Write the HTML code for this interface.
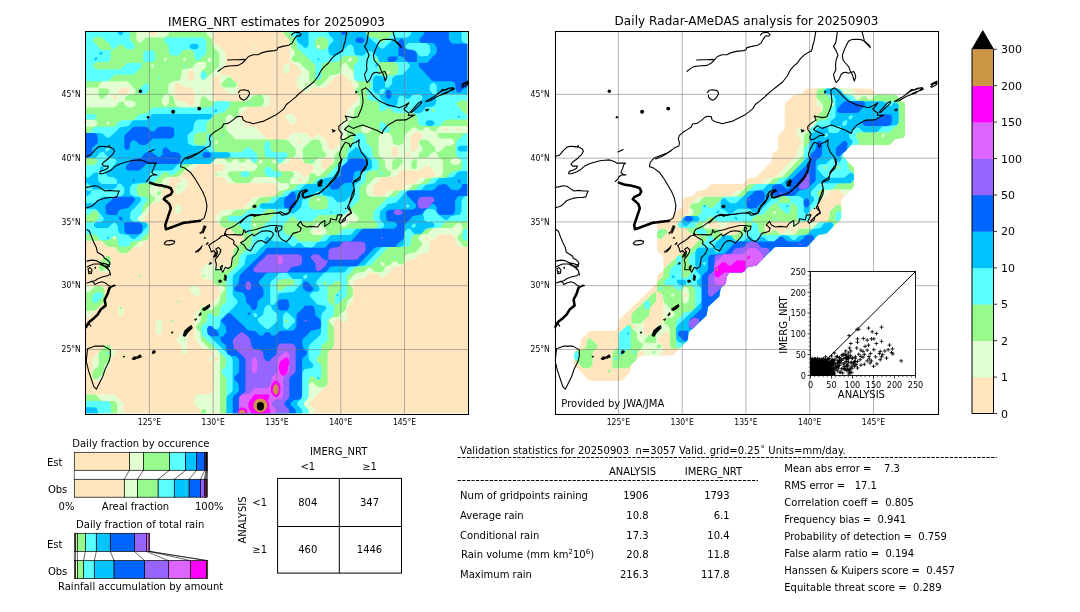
<!DOCTYPE html><html><head><meta charset="utf-8"><style>html,body{margin:0;padding:0;background:#fff;overflow:hidden;width:1080px;height:612px}svg{display:block}text{font-family:"DejaVu Sans","Liberation Sans",sans-serif;fill:#000}.c{font-family:"DejaVu Sans Condensed","DejaVu Sans",sans-serif}</style></head><body>
<svg width="1080" height="612" viewBox="0 0 1080 612">
<defs><clipPath id="cl0"><rect x="-0.15000000000000568" y="0.8999999999999986" width="383.0" height="383.0"/></clipPath></defs>
<rect x="85.5" y="31.5" width="383.0" height="381.8" fill="#ffe6be"/>
<clipPath id="clipL"><rect x="85.5" y="31.5" width="381.8" height="381.8"/></clipPath>
<g clip-path="url(#clipL)">
<path d="M66.9,394.5L66.9,432.0L123.5,432.0L123.5,404.9L122.7,402.5L120.3,400.9L115.5,395.3L113.2,394.5ZM152.2,351.5L151.4,353.1L153.0,353.9L153.8,352.3ZM109.2,345.1L106.8,345.1L93.2,357.8L92.4,360.2L92.4,377.0L94.0,380.2L100.4,381.0L103.6,379.4L105.2,370.6L110.0,366.6L111.6,357.8L115.5,353.9L115.5,351.5ZM183.3,332.3L176.9,338.7L176.9,341.1L181.7,346.7L181.7,351.5L183.3,353.9L185.7,353.9L187.3,351.5L187.3,334.7L185.7,332.3ZM171.3,319.6L170.6,321.2L172.1,322.0L172.9,320.4ZM157.8,319.6L156.2,322.0L156.2,332.3L157.8,334.7L160.2,334.7L161.8,332.3L161.8,322.0L160.2,319.6ZM119.5,306.8L117.9,309.2L117.9,313.2L119.5,315.6L121.9,315.6L123.5,313.2L123.5,309.2L121.9,306.8ZM362.7,300.4L361.9,302.0L363.5,302.8L364.3,301.2ZM177.7,300.4L176.9,302.0L178.5,302.8L179.3,301.2ZM189.7,287.7L189.7,290.1L196.1,296.5L198.5,296.5L200.0,294.1L200.0,290.1L199.2,288.5L196.1,286.1L192.1,286.1ZM66.9,286.1L66.9,317.2L87.6,317.2L90.0,316.4L91.6,314.0L103.6,302.8L104.4,300.4L104.4,290.1L102.8,286.9L100.4,286.1ZM139.5,274.9L138.7,276.5L140.3,277.3L141.1,275.7ZM109.2,255.8L106.8,255.8L99.6,262.2L98.8,268.6L100.4,271.7L106.8,272.5L110.0,271.0L110.8,268.6L110.8,258.2ZM176.9,204.8L175.3,207.2L175.3,211.2L176.9,213.6L179.3,213.6L180.9,211.2L180.9,207.2L179.3,204.8ZM273.4,128.3L272.6,129.8L274.2,130.6L275.0,129.1ZM305.3,121.9L304.5,123.5L306.1,124.3L306.9,122.7ZM285.3,115.5L285.3,117.9L291.7,124.3L294.1,124.3L295.7,121.9L295.7,117.9L294.9,116.3L291.7,113.9L287.7,113.9ZM254.3,45.3L253.5,46.9L255.1,47.7L255.8,46.1ZM66.9,11.9L66.9,240.7L100.4,240.7L102.8,241.5L106.8,246.2L115.5,247.8L119.5,252.6L121.9,253.4L128.3,252.6L132.3,247.8L141.1,246.2L142.6,243.8L148.2,239.1L149.0,236.7L149.0,226.3L148.2,223.9L144.2,219.9L144.2,217.5L148.2,213.6L149.8,204.8L151.4,203.2L157.8,202.4L161.0,200.8L161.8,198.4L161.8,190.4L164.2,188.8L165.8,188.8L167.4,187.2L169.0,180.1L172.9,176.9L180.1,176.9L181.7,178.5L180.1,182.5L177.7,184.1L175.3,187.2L175.3,192.0L176.9,194.4L179.3,194.4L186.5,188.0L187.3,185.7L187.3,181.7L184.9,178.5L180.9,176.9L181.7,173.7L185.7,170.5L190.5,170.5L192.1,169.7L196.1,164.9L198.5,164.1L221.6,164.1L224.8,166.5L224.8,168.9L221.6,171.3L217.6,171.3L215.2,172.9L215.2,175.3L217.6,176.9L222.4,176.9L224.0,177.7L227.9,182.5L230.3,183.3L272.6,183.3L275.0,184.1L277.4,188.0L277.4,192.0L275.0,196.0L272.6,196.8L255.8,196.8L253.5,197.6L243.1,208.8L240.7,209.6L224.0,209.6L221.6,210.4L215.2,217.5L215.2,219.9L221.6,227.1L230.3,228.7L234.3,233.5L242.3,235.1L243.9,236.7L243.9,239.1L239.1,244.6L233.5,249.4L232.7,251.8L232.7,262.2L230.3,266.2L227.9,267.0L217.6,267.0L215.2,266.2L211.2,262.2L208.8,262.2L201.6,268.6L200.8,271.0L201.6,277.3L204.8,278.9L211.2,279.7L213.6,282.9L219.2,287.7L220.0,294.1L219.2,296.5L216.0,298.9L211.2,304.4L202.4,306.0L200.8,308.4L195.3,313.2L194.5,315.6L194.5,339.5L202.4,348.3L210.4,349.9L212.8,352.3L213.6,354.7L212.8,356.3L208.8,357.8L208.8,360.2L213.6,361.8L213.6,389.7L212.8,392.1L208.8,394.5L198.5,394.5L196.1,395.3L194.5,398.5L194.5,402.5L195.3,404.9L200.0,408.9L200.8,411.3L200.8,432.0L314.8,432.0L314.8,411.3L314.0,408.9L310.1,404.9L310.1,402.5L314.8,396.9L326.8,385.7L327.6,383.4L327.6,353.9L328.4,351.5L333.2,347.5L334.0,345.1L334.0,322.0L336.4,318.8L338.8,318.8L342.7,322.0L345.1,322.0L346.7,319.6L346.7,309.2L347.5,306.8L350.7,304.4L353.1,301.2L353.1,283.7L353.9,281.3L357.9,278.9L364.3,278.1L368.3,273.3L370.6,272.5L377.0,273.3L381.0,277.3L383.4,277.3L389.0,272.5L393.8,267.0L402.5,265.4L406.5,260.6L415.3,259.0L419.3,254.2L428.0,252.6L429.6,249.4L429.6,241.5L435.2,239.1L438.4,235.1L440.8,234.3L451.2,234.3L453.6,235.1L455.9,239.1L456.7,245.4L459.9,247.0L487.0,247.0L487.0,11.9L283.8,11.9L283.8,32.6L284.5,35.0L289.3,39.0L290.1,41.4L290.1,62.1L287.7,63.7L286.1,63.7L283.8,66.9L283.8,70.9L285.3,73.2L287.7,73.2L289.3,70.9L289.3,62.9L290.1,62.1L294.9,63.7L301.3,70.9L301.3,73.2L297.3,77.2L296.5,83.6L297.3,86.0L304.5,92.4L306.9,92.4L310.9,88.4L313.2,87.6L323.6,87.6L326.0,86.8L336.4,75.6L342.7,74.8L345.1,75.6L347.5,78.8L353.1,83.6L354.7,92.4L358.7,96.4L358.7,98.8L353.9,104.3L348.3,109.1L346.7,117.9L341.9,121.9L341.1,124.3L341.1,141.0L340.4,143.4L332.4,150.6L330.0,150.6L328.4,149.0L326.8,141.0L319.6,134.6L316.4,134.6L314.0,137.8L310.9,137.8L305.3,133.0L293.3,133.0L291.7,133.8L287.7,138.6L285.3,139.4L268.6,139.4L266.2,138.6L255.8,127.5L247.1,125.9L239.9,117.9L239.9,115.5L247.1,107.5L249.5,106.7L266.2,106.7L268.6,105.9L270.2,102.7L270.2,98.8L268.6,95.6L266.2,94.8L249.5,94.8L247.1,95.6L243.1,100.4L240.7,101.2L217.6,101.2L213.6,98.8L212.8,96.4L212.8,79.6L216.0,75.6L219.2,75.6L220.0,76.4L220.0,84.4L220.8,86.0L229.5,94.0L235.1,94.0L236.7,93.2L238.3,90.0L238.3,86.0L237.5,83.6L235.1,82.0L230.3,76.4L228.7,75.6L220.8,75.6L220.0,74.8L220.8,70.1L224.8,66.9L225.6,64.5L225.6,54.1L224.8,51.7L213.6,41.4L212.8,39.0L212.8,11.9L156.2,11.9L156.2,32.6L153.8,35.8L151.4,35.8L149.0,32.6L149.0,11.9ZM212.8,357.0L213.6,356.3L217.6,357.0L218.4,357.8L218.4,360.2L216.0,361.8L213.6,361.8L212.8,361.0ZM426.4,235.9L429.6,238.3L428.8,240.7L427.2,240.7L424.9,238.3ZM318.0,229.5L320.4,231.1L318.8,233.5L316.4,231.9ZM158.6,184.9L161.8,187.2L161.0,189.6L159.4,189.6L157.0,187.2ZM301.3,177.7L302.1,180.1L298.9,182.5L297.3,180.1L299.7,177.7ZM435.2,172.9L435.2,175.3L432.0,177.7L420.9,177.7L419.3,178.5L415.3,183.3L406.5,184.9L402.5,189.6L400.1,190.4L389.8,190.4L387.4,191.2L383.4,196.0L381.0,196.8L374.6,196.0L372.2,192.0L373.0,185.7L376.2,183.3L381.0,177.7L383.4,176.9L393.8,176.9L396.2,176.1L400.1,171.3L402.5,170.5L420.1,170.5L425.7,165.7L428.0,165.7ZM241.5,165.7L243.9,167.3L242.3,169.7L239.9,168.1ZM333.2,160.1L333.2,162.5L326.0,169.7L323.6,169.7L321.2,166.5L321.2,162.5L322.0,160.9L326.0,157.8L330.0,157.8ZM278.2,166.5L281.4,164.1L286.1,164.1L287.7,163.3L291.7,158.5L298.1,157.8L300.5,158.5L304.5,163.3L312.4,164.9L314.0,166.5L314.0,168.9L307.7,176.1L303.7,177.7L301.3,173.7L298.1,171.3L281.4,171.3L278.2,168.9ZM409.7,152.2L410.5,154.6L407.3,157.0L405.7,154.6L408.1,152.2ZM393.8,146.6L396.2,146.6L398.5,149.8L398.5,153.8L396.2,157.0L393.8,157.0L391.4,153.8L391.4,149.8ZM298.9,140.2L301.3,141.8L299.7,144.2L297.3,142.6ZM419.3,132.2L422.5,134.6L422.5,137.0L417.7,142.6L417.7,147.4L414.5,151.4L411.3,151.4L410.5,150.6L410.5,137.0L413.7,133.0L415.3,132.2ZM458.3,127.5L460.7,129.1L459.1,131.4L456.7,129.8ZM445.6,127.5L448.0,129.1L446.4,131.4L444.0,129.8ZM116.3,94.8L117.1,97.2L114.0,99.6L112.4,97.2L114.7,94.8ZM203.2,89.2L205.6,90.8L204.0,93.2L201.6,91.6ZM117.9,94.0L117.9,90.8L121.9,87.6L125.9,87.6L129.1,90.0L129.1,92.4L125.9,94.8L118.7,94.8ZM176.9,82.8L179.3,82.8L183.3,86.8L190.5,87.6L193.7,90.0L194.5,91.6L194.5,102.7L192.1,105.9L189.7,105.9L185.7,101.9L179.3,101.2L175.3,98.8L174.5,96.4L174.5,86.0ZM189.7,70.1L192.1,70.1L194.5,73.2L194.5,77.2L192.1,80.4L189.7,80.4L187.3,77.2L187.3,73.2Z" fill="#e1ffd2" fill-rule="evenodd"/>
<path d="M202.4,408.9L200.8,411.3L200.8,432.0L206.4,432.0L206.4,411.3L204.8,408.9ZM66.9,394.5L66.9,432.0L117.1,432.0L117.1,404.9L115.5,401.7L113.2,400.9L102.8,400.9L100.4,400.1L96.4,395.3L94.0,394.5ZM152.2,351.5L151.4,353.1L153.0,353.9L153.8,352.3ZM109.2,345.1L106.8,345.1L99.6,351.5L98.8,353.9L98.8,365.0L98.0,366.6L93.2,370.6L92.4,373.0L92.4,377.0L94.0,379.4L96.4,379.4L103.6,373.0L104.4,365.8L105.2,364.2L110.0,360.2L110.8,357.8L110.8,347.5ZM184.1,338.7L183.3,340.3L184.9,341.1L185.7,339.5ZM171.3,319.6L170.6,321.2L172.1,322.0L172.9,320.4ZM120.3,306.8L119.5,308.4L121.1,309.2L121.9,307.6ZM177.7,300.4L176.9,302.0L178.5,302.8L179.3,301.2ZM103.6,287.7L100.4,286.1L96.4,286.1L94.0,286.9L90.0,291.7L87.6,292.5L66.9,292.5L66.9,310.8L94.0,310.8L96.4,310.0L98.0,307.6L103.6,302.8L104.4,300.4L104.4,290.1ZM203.2,274.9L202.4,276.5L204.0,277.3L204.8,275.7ZM139.5,274.9L138.7,276.5L140.3,277.3L141.1,275.7ZM109.2,255.8L106.8,255.8L99.6,262.2L98.8,268.6L100.4,271.0L102.8,271.0L110.0,264.6L110.8,258.2ZM161.0,191.2L158.6,191.2L157.0,192.8L157.0,195.2L160.2,194.4ZM177.7,185.7L176.9,187.2L178.5,188.0L179.3,186.5ZM162.6,184.9L162.6,188.0L163.4,188.8L166.6,188.0L166.6,185.7L165.8,184.9ZM216.0,172.9L215.2,174.5L216.8,175.3L217.6,173.7ZM416.9,159.3L413.7,159.3L411.3,162.5L411.3,166.5L412.9,168.9L415.3,168.9L416.9,166.5ZM402.5,160.1L400.1,158.5L393.8,159.3L392.2,161.7L392.2,169.7L397.0,168.9L402.5,162.5ZM319.6,140.2L317.2,139.4L310.9,140.2L309.3,142.6L303.7,147.4L302.9,149.0L302.9,160.1L304.5,163.3L311.7,164.1L313.2,163.3L317.2,158.5L318.8,157.8L323.6,157.8L326.0,156.2L326.0,153.8L322.0,149.8L321.2,143.4ZM307.7,82.8L306.1,82.8L304.5,85.2L306.1,86.0L307.7,84.4ZM221.6,83.6L221.6,86.0L224.0,87.6L234.3,87.6L236.7,86.0L236.7,83.6L230.3,77.2L227.9,77.2ZM66.9,11.9L66.9,87.6L98.0,87.6L98.8,88.4L98.8,96.4L100.4,98.8L102.8,98.8L109.2,92.4L109.2,90.0L106.8,88.4L99.6,88.4L98.8,87.6L98.8,84.4L102.8,81.2L125.9,81.2L128.3,82.0L135.5,90.0L135.5,92.4L132.3,94.8L128.3,94.8L125.1,97.2L125.1,100.4L132.3,100.4L135.5,102.7L135.5,105.1L132.3,107.5L128.3,107.5L124.3,104.3L123.5,101.2L118.7,102.7L115.5,106.7L113.2,107.5L66.9,107.5L66.9,119.5L94.0,119.5L97.2,121.9L97.2,124.3L94.0,126.7L66.9,126.7L66.9,240.7L100.4,240.7L102.8,241.5L105.2,244.6L108.4,247.0L114.0,247.0L115.5,247.8L119.5,252.6L121.9,253.4L128.3,252.6L138.7,241.5L147.4,239.9L149.0,236.7L149.0,226.3L148.2,223.9L145.0,222.3L141.1,222.3L137.9,219.9L137.9,217.5L154.6,200.0L155.4,197.6L152.2,196.0L149.0,192.0L149.0,188.0L149.8,186.5L153.8,183.3L161.8,183.3L162.6,180.1L166.6,176.9L177.7,176.9L179.3,176.1L189.7,164.9L192.1,164.1L208.8,164.1L211.2,163.3L215.2,158.5L217.6,157.8L224.0,158.5L227.9,162.5L231.1,162.5L233.5,159.3L237.5,159.3L239.9,162.5L243.9,162.5L246.3,159.3L250.3,159.3L252.7,162.5L257.4,164.9L257.4,168.1L253.5,171.3L230.3,171.3L227.9,172.9L227.9,175.3L234.3,182.5L236.7,183.3L247.1,183.3L249.5,182.5L251.1,180.1L255.1,176.9L272.6,176.9L275.0,177.7L277.4,180.9L280.6,183.3L288.5,183.3L289.3,184.1L289.3,187.2L286.9,189.6L279.0,191.2L275.0,196.0L259.8,197.6L249.5,208.8L247.1,209.6L236.7,209.6L234.3,210.4L230.3,215.1L224.0,215.9L220.8,217.5L220.0,223.9L221.6,227.1L230.3,228.7L234.3,233.5L242.3,235.1L243.9,236.7L243.9,239.1L239.1,244.6L233.5,249.4L231.9,264.6L224.0,271.7L220.8,271.7L219.2,269.4L217.6,268.6L215.2,268.6L213.6,271.0L213.6,281.3L214.4,283.7L217.6,285.3L221.6,285.3L224.8,287.7L224.8,290.1L220.8,294.1L219.2,302.8L211.2,310.0L208.0,310.0L206.4,307.6L204.8,306.8L202.4,306.8L200.8,309.2L200.8,319.6L200.0,322.0L196.1,326.0L196.1,328.3L200.0,332.3L201.6,341.1L204.0,342.7L208.8,348.3L217.6,349.9L220.0,353.9L220.0,432.0L308.5,432.0L308.5,411.3L307.7,408.9L303.7,404.9L303.7,402.5L307.7,398.5L308.5,396.1L308.5,385.7L310.9,382.6L313.2,382.6L317.2,386.5L319.6,387.3L323.6,387.3L326.8,385.7L327.6,383.4L327.6,353.9L328.4,351.5L333.2,347.5L334.0,345.1L334.0,328.3L333.2,326.0L329.2,322.0L329.2,319.6L332.4,317.2L337.2,317.2L338.8,316.4L340.4,314.0L345.9,309.2L347.5,300.4L352.3,296.5L353.1,294.1L352.3,287.7L348.3,283.7L348.3,281.3L355.5,273.3L364.3,271.7L368.3,267.8L370.6,267.8L374.6,271.7L381.0,272.5L384.2,270.2L384.2,268.6L385.8,266.2L390.6,264.6L393.0,261.4L397.0,261.4L398.5,263.8L402.5,264.6L404.1,262.2L404.9,255.8L408.9,253.4L415.3,252.6L421.7,245.4L421.7,242.3L419.3,240.7L418.5,236.7L421.7,234.3L426.4,234.3L428.0,233.5L432.0,228.7L434.4,227.9L452.0,227.9L457.5,223.1L459.9,223.1L462.3,226.3L462.3,230.3L461.5,232.7L457.5,236.7L457.5,239.1L463.9,246.2L466.3,247.0L487.0,247.0L487.0,133.0L437.6,133.0L437.6,136.2L440.8,138.6L451.2,138.6L454.3,141.0L454.3,143.4L451.2,145.8L446.4,145.8L444.8,146.6L441.6,150.6L438.4,152.2L436.0,151.4L434.4,146.6L432.8,145.8L428.0,140.2L421.7,139.4L419.3,141.0L419.3,143.4L420.1,145.0L422.5,146.6L422.5,150.6L419.3,153.0L418.5,157.8L425.7,157.8L428.0,157.0L431.2,153.0L436.0,151.4L438.4,157.0L440.0,157.8L443.2,161.7L443.2,172.9L440.8,176.9L425.7,178.5L421.7,183.3L412.9,184.9L408.9,189.6L406.5,190.4L396.2,190.4L393.8,191.2L389.8,196.0L387.4,196.8L370.6,196.8L368.3,196.0L365.9,192.0L366.7,185.7L369.8,183.3L374.6,177.7L377.0,176.9L387.4,176.9L390.6,174.5L391.4,171.3L388.2,170.5L385.0,166.5L385.0,161.7L384.2,160.1L379.4,156.2L378.6,153.8L378.6,137.0L381.0,133.0L383.4,132.2L389.8,133.0L392.2,137.0L393.0,143.4L396.2,145.0L400.1,145.0L403.3,143.4L404.9,134.6L412.9,127.5L416.1,127.5L418.5,130.6L422.5,130.6L424.9,127.5L428.8,127.5L431.2,130.6L436.0,132.2L436.8,129.1L440.8,125.9L487.0,125.9L487.0,11.9L283.8,11.9L283.8,32.6L284.5,35.0L289.3,39.0L290.9,47.7L294.9,51.7L294.9,54.9L292.5,56.5L291.7,60.5L294.1,62.1L298.9,62.1L300.5,62.9L302.9,66.1L308.5,70.9L309.3,73.2L309.3,81.2L314.0,82.8L316.4,86.0L319.6,86.0L325.2,81.2L330.0,75.6L338.8,74.0L340.4,70.9L340.4,66.9L343.5,62.9L346.7,62.9L349.1,67.7L353.1,70.9L354.7,79.6L358.7,83.6L358.7,86.8L355.5,89.2L355.5,92.4L359.5,96.4L360.3,102.7L359.5,105.1L354.7,109.1L353.1,117.9L348.3,121.9L346.7,137.0L341.9,141.0L340.4,149.8L337.2,152.2L334.8,155.4L334.0,162.5L319.6,176.1L316.4,176.1L314.8,173.7L310.9,172.9L309.3,175.3L308.5,181.7L304.5,184.1L290.9,184.1L290.1,183.3L290.1,180.1L290.9,178.5L293.3,176.9L294.1,172.9L291.7,171.3L281.4,171.3L277.4,168.1L277.4,164.9L282.2,162.5L285.3,158.5L294.1,157.0L295.7,154.6L295.7,149.0L294.9,147.4L292.5,145.8L287.7,140.2L285.3,139.4L236.7,139.4L234.3,138.6L231.9,135.4L226.4,130.6L225.6,128.3L225.6,117.9L227.9,114.7L230.3,114.7L231.9,115.5L232.7,117.1L236.7,117.9L238.3,115.5L239.1,109.1L242.3,106.7L259.8,106.7L262.2,105.9L263.8,102.7L263.8,98.8L262.2,95.6L259.8,94.8L253.5,95.6L251.9,98.0L247.9,101.2L211.2,101.2L208.8,100.4L204.8,96.4L202.4,96.4L200.8,98.8L200.0,105.1L198.5,106.7L196.1,107.5L179.3,107.5L175.3,105.1L173.7,97.2L172.1,95.6L170.6,95.6L168.2,94.0L168.2,86.0L169.0,83.6L172.9,81.2L179.3,80.4L180.9,77.2L181.7,70.9L183.3,69.3L192.1,67.7L196.1,62.9L198.5,62.1L205.6,62.1L206.4,62.9L206.4,66.1L205.6,67.7L201.6,70.9L200.8,73.2L200.8,77.2L202.4,79.6L204.8,79.6L218.4,66.9L219.2,64.5L219.2,54.1L218.4,51.7L213.6,47.7L212.0,39.0L207.2,35.0L206.4,32.6L206.4,11.9L169.0,11.9L169.0,32.6L168.2,35.0L164.2,37.4L147.4,37.4L145.0,38.2L141.1,42.2L138.7,42.2L136.3,39.0L136.3,11.9ZM381.8,261.4L385.0,263.8L384.2,266.2L382.6,266.2L380.2,263.8ZM114.0,235.9L116.3,237.5L114.7,239.9L112.4,238.3ZM298.9,229.5L301.3,231.1L299.7,233.5L297.3,231.9ZM310.1,230.3L317.2,223.1L319.6,223.1L326.8,230.3L326.8,232.7L323.6,235.1L313.2,235.1L310.1,232.7ZM254.3,223.1L256.6,224.7L255.1,227.1L252.7,225.5ZM351.5,210.4L358.7,217.5L358.7,219.9L355.5,222.3L350.7,222.3L345.1,227.1L342.7,227.1L340.4,223.9L341.1,217.5L349.1,210.4ZM318.0,197.6L320.4,199.2L318.8,201.6L316.4,200.0ZM273.4,159.3L276.6,161.7L275.8,164.1L274.2,164.1L271.8,161.7ZM261.4,159.3L263.0,161.7L260.6,164.1L259.0,164.1L258.2,161.7ZM450.4,160.1L453.6,157.8L457.5,157.8L460.7,160.1L460.7,162.5L457.5,164.9L453.6,164.9L450.4,162.5ZM216.0,140.2L218.4,141.8L216.8,144.2L214.4,142.6ZM361.1,128.3L364.3,125.9L368.3,125.9L371.4,128.3L371.4,130.6L368.3,133.0L364.3,133.0L361.1,130.6ZM107.6,121.1L110.0,122.7L108.4,125.1L106.0,123.5ZM168.2,94.0L169.0,94.8L169.0,102.7L166.6,105.9L164.2,105.9L161.8,102.7L161.8,98.8L165.0,94.8ZM388.2,70.1L390.6,71.7L389.0,74.0L386.6,72.5ZM152.2,63.7L154.6,65.3L153.0,67.7L150.6,66.1ZM350.7,57.3L352.3,59.7L349.9,62.1L348.3,62.1L347.5,59.7ZM210.4,57.3L212.0,59.7L209.6,62.1L208.0,62.1L207.2,59.7ZM184.1,57.3L186.5,58.9L184.9,61.3L182.5,59.7ZM165.0,57.3L167.4,58.9L165.8,61.3L163.4,59.7ZM318.0,44.6L320.4,46.1L318.8,48.5L316.4,46.9Z" fill="#96fa8c" fill-rule="evenodd"/>
<path d="M66.9,400.9L66.9,432.0L110.8,432.0L110.8,404.9L109.2,401.7L106.8,400.9ZM107.6,351.5L106.8,353.1L108.4,353.9L109.2,352.3ZM100.4,292.5L96.4,292.5L93.2,294.9L92.4,296.5L92.4,300.4L94.0,302.8L96.4,302.8L102.8,296.5L102.8,294.1ZM394.6,255.8L393.8,257.4L395.4,258.2L396.2,256.6ZM463.1,230.3L462.3,236.7L463.9,239.9L466.3,240.7L487.0,240.7L487.0,228.7L465.5,228.7ZM380.2,172.1L380.2,173.7L382.6,175.3L383.4,173.7L381.8,172.1ZM240.7,172.9L240.7,175.3L243.1,176.9L247.1,176.9L249.5,175.3L249.5,172.9L247.1,171.3L243.1,171.3ZM264.6,168.9L264.6,172.9L265.4,174.5L268.6,176.9L279.0,176.9L281.4,175.3L281.4,172.9L279.0,171.3L274.2,171.3L268.6,166.5L266.2,166.5ZM311.7,160.1L310.9,161.7L312.4,162.5L313.2,160.9ZM266.2,141.0L264.6,143.4L264.6,154.6L265.4,156.2L267.8,157.8L273.4,157.8L275.0,158.5L278.2,162.5L281.4,162.5L287.7,156.2L287.7,153.8L285.3,152.2L274.2,152.2L272.6,151.4L270.2,148.2L270.2,143.4L268.6,141.0ZM222.4,134.6L221.6,136.2L223.2,137.0L224.0,135.4ZM487.0,133.0L466.3,133.0L463.9,133.8L462.3,136.2L456.7,141.0L455.9,143.4L455.9,153.8L456.7,156.2L461.5,160.1L462.3,162.5L462.3,166.5L459.9,170.5L451.2,172.1L447.2,176.9L444.8,177.7L434.4,177.7L432.0,178.5L428.0,183.3L419.3,184.9L415.3,189.6L412.9,190.4L402.5,190.4L400.1,191.2L396.2,196.0L387.4,197.6L385.8,200.0L373.8,211.2L373.0,217.5L373.8,219.9L377.8,223.9L377.8,226.3L374.6,228.7L345.1,228.7L342.7,229.5L338.8,234.3L336.4,235.1L326.0,235.1L323.6,235.9L319.6,240.7L317.2,241.5L300.5,241.5L298.1,240.7L294.1,235.9L285.3,234.3L283.0,230.3L283.8,223.9L291.7,216.7L294.1,216.7L298.1,220.7L300.5,221.5L310.9,221.5L313.2,220.7L314.8,218.3L318.8,215.1L342.7,215.1L345.1,214.4L346.7,212.0L358.7,200.8L359.5,198.4L359.5,188.0L360.3,185.7L365.1,181.7L366.7,172.9L370.6,170.5L377.8,170.5L378.6,169.7L378.6,162.5L377.8,160.1L373.0,156.2L371.4,147.4L366.7,143.4L365.1,134.6L361.9,133.0L357.9,133.0L354.7,134.6L353.1,143.4L348.3,147.4L346.7,156.2L343.5,158.5L326.0,176.9L317.2,178.5L313.2,183.3L310.9,184.1L300.5,184.1L298.1,184.9L294.1,189.6L285.3,191.2L281.4,196.0L272.6,197.6L268.6,202.4L259.8,204.0L255.8,208.8L247.1,210.4L245.5,212.8L241.5,215.9L230.3,215.9L227.9,217.5L227.9,219.9L228.7,220.7L236.7,222.3L246.3,232.7L251.9,235.1L251.9,243.1L251.1,245.4L239.9,255.8L238.3,264.6L227.2,274.9L226.4,277.3L226.4,300.4L225.6,302.8L220.8,306.8L219.2,314.8L217.6,316.4L215.2,316.4L213.6,315.6L212.8,314.0L208.8,313.2L207.2,315.6L207.2,320.4L206.4,322.0L201.6,326.0L200.8,328.3L201.6,334.7L225.6,357.8L226.4,360.2L225.6,366.6L221.6,370.6L221.6,373.0L225.6,377.0L226.4,379.4L226.4,432.0L308.5,432.0L308.5,411.3L307.7,408.9L303.7,404.9L303.7,402.5L307.7,398.5L308.5,396.1L308.5,379.4L310.9,376.2L313.2,376.2L317.2,379.4L319.6,379.4L321.2,377.0L321.2,366.6L320.4,364.2L316.4,360.2L316.4,357.8L320.4,353.9L322.0,345.1L326.8,341.1L327.6,338.7L327.6,322.0L328.4,319.6L333.2,315.6L334.0,313.2L334.0,305.2L339.6,302.8L339.6,302.0L345.9,296.5L346.7,294.1L346.7,276.5L347.5,274.9L350.7,272.5L355.5,267.0L370.6,265.4L387.4,247.8L389.8,247.0L406.5,247.0L408.9,246.2L410.5,243.1L411.3,236.7L415.3,234.3L421.7,233.5L425.7,228.7L428.0,227.9L438.4,227.9L440.8,227.1L444.8,222.3L447.2,221.5L487.0,221.5ZM286.1,318.8L288.5,320.4L286.9,322.8L284.5,321.2ZM338.8,280.5L341.1,283.7L341.1,288.5L334.8,295.7L334.8,304.4L333.2,305.2L330.8,304.4L327.6,300.4L327.6,286.1L333.2,283.7L334.8,281.3ZM324.4,280.5L327.6,282.9L326.8,285.3L325.2,285.3L322.8,282.9ZM276.6,287.7L276.6,283.7L277.4,282.1L281.4,278.9L291.7,278.9L294.9,281.3L294.9,283.7L291.7,286.1L286.9,286.1L281.4,290.9L279.0,290.9ZM275.8,211.2L275.8,213.6L271.0,219.1L267.0,222.3L256.6,233.5L251.9,235.1L251.1,234.3L251.1,219.9L251.9,217.5L255.1,215.1L262.2,214.4L263.8,212.0L267.8,208.8L272.6,208.8ZM309.3,198.4L313.2,196.0L323.6,196.0L326.0,196.8L328.4,200.8L327.6,207.2L324.4,209.6L313.2,209.6L310.9,208.8L308.5,204.8ZM381.0,121.9L379.4,124.3L379.4,128.3L380.2,129.8L383.4,132.2L387.4,132.2L389.8,130.6L389.8,128.3L383.4,121.9ZM66.9,113.9L66.9,119.5L94.0,119.5L96.4,117.9L96.4,115.5L94.0,113.9ZM247.9,102.7L247.1,104.3L248.7,105.1L249.5,103.5ZM230.3,102.7L227.9,101.2L217.6,101.2L215.2,101.9L211.2,106.7L208.8,107.5L153.8,107.5L151.4,108.3L147.4,113.1L138.7,114.7L134.7,119.5L132.3,120.3L121.9,120.3L119.5,121.1L115.5,125.9L113.2,126.7L95.6,126.7L94.0,127.5L90.0,132.2L87.6,133.0L66.9,133.0L66.9,157.8L94.0,157.8L97.2,160.1L97.2,162.5L94.0,164.9L66.9,164.9L66.9,215.1L88.4,215.1L94.0,210.4L96.4,210.4L98.8,213.6L98.8,217.5L98.0,219.1L94.0,222.3L66.9,222.3L66.9,234.3L94.0,234.3L96.4,235.1L100.4,239.9L102.8,240.7L109.2,239.9L113.2,235.9L115.5,235.9L117.9,239.1L117.9,243.1L119.5,246.2L121.9,247.0L128.3,246.2L132.3,241.5L141.1,239.9L142.6,237.5L148.2,232.7L149.0,230.3L149.0,226.3L147.4,223.1L141.1,222.3L137.9,219.9L137.9,217.5L141.9,213.6L143.4,204.8L147.4,200.8L147.4,198.4L145.0,196.8L141.1,196.8L137.1,194.4L136.3,188.0L138.7,184.1L153.8,182.5L155.4,180.1L164.2,172.1L167.4,172.1L169.8,175.3L172.9,175.3L178.5,170.5L183.3,164.9L185.7,164.1L208.8,164.1L211.2,163.3L212.8,160.9L216.8,157.8L247.9,157.8L253.5,162.5L255.8,162.5L257.4,160.1L257.4,155.4L256.6,153.8L249.5,147.4L247.1,147.4L241.5,152.2L216.8,152.2L215.2,151.4L212.8,147.4L212.8,137.0L210.4,133.8L207.2,133.8L207.2,141.8L204.8,145.0L198.5,145.8L194.5,143.4L193.7,141.0L194.5,134.6L198.5,132.2L206.4,132.2L206.4,124.3L207.2,121.9L210.4,119.5L215.2,113.9L224.0,112.3L230.3,105.1ZM356.3,90.0L355.5,91.6L357.1,92.4L357.9,90.8ZM228.7,83.6L227.9,85.2L229.5,86.0L230.3,84.4ZM147.4,83.6L145.0,83.6L138.7,90.0L138.7,92.4L141.1,94.0L145.0,94.0L148.2,91.6L149.0,90.0L149.0,86.0ZM158.6,77.2L157.8,78.8L159.4,79.6L160.2,78.0ZM202.4,70.9L200.8,73.2L200.8,77.2L202.4,79.6L204.8,79.6L206.4,77.2L206.4,73.2L204.8,70.9ZM184.1,64.5L183.3,66.1L184.9,66.9L185.7,65.3ZM145.0,50.9L143.4,54.1L143.4,62.1L151.4,62.1L153.8,61.3L155.4,58.1L154.6,51.7L151.4,50.1ZM164.2,39.0L164.2,41.4L168.2,45.3L169.0,51.7L170.6,54.9L176.9,55.7L179.3,54.9L183.3,50.1L189.7,49.3L193.7,51.7L195.3,59.7L196.1,60.5L198.5,60.5L205.6,54.1L206.4,51.7L206.4,41.4L204.8,38.2L202.4,37.4L166.6,37.4ZM290.1,11.9L290.1,32.6L290.9,35.0L295.7,39.0L297.3,47.7L314.8,64.5L315.6,66.1L315.6,77.2L317.2,79.6L319.6,79.6L321.2,77.2L321.2,66.1L323.6,62.9L326.0,62.1L336.4,62.1L338.8,61.3L342.7,56.5L345.1,55.7L355.5,55.7L358.7,58.1L358.7,60.5L354.7,64.5L353.9,66.9L353.9,77.2L354.7,79.6L357.1,81.2L368.3,81.2L371.4,83.6L371.4,86.0L366.7,91.6L367.5,98.8L370.6,100.4L377.0,101.2L378.6,102.7L379.4,109.1L381.0,111.5L385.0,110.7L386.6,108.3L389.8,108.3L393.8,112.3L396.2,113.1L412.9,113.1L415.3,113.9L417.7,117.9L418.5,124.3L421.7,125.9L438.4,125.9L440.8,125.1L444.8,120.3L447.2,119.5L487.0,119.5L487.0,113.9L465.5,113.9L463.9,113.1L456.7,105.1L456.7,102.7L459.9,100.4L487.0,100.4L487.0,11.9L392.2,11.9L392.2,32.6L391.4,35.0L383.4,42.2L381.0,42.2L377.0,38.2L370.6,37.4L366.7,35.0L365.9,32.6L365.9,11.9ZM432.8,108.3L435.2,109.9L433.6,112.3L431.2,110.7ZM407.3,101.9L409.7,103.5L408.1,105.9L405.7,104.3ZM378.6,63.7L380.2,62.1L393.8,62.1L396.2,62.9L398.5,66.9L397.7,73.2L393.8,75.6L383.4,75.6L381.0,74.8L378.6,70.9ZM375.4,57.3L378.6,59.7L377.8,62.1L376.2,62.1L373.8,59.7ZM317.2,37.4L323.6,36.6L327.6,39.0L328.4,45.3L326.0,49.3L319.6,50.1L315.6,47.7L314.8,41.4ZM66.9,11.9L66.9,81.2L106.8,81.2L109.2,80.4L110.8,78.0L114.7,74.8L132.3,74.8L134.7,74.0L136.3,71.7L141.1,67.7L141.9,62.9L128.3,62.9L125.9,63.7L124.3,66.1L120.3,69.3L96.4,69.3L93.2,66.9L93.2,64.5L96.4,62.1L107.6,62.1L109.2,61.3L110.8,58.1L110.8,50.1L116.3,47.7L118.7,44.6L121.9,44.6L125.9,48.5L128.3,49.3L132.3,49.3L134.7,47.7L134.7,45.3L129.9,39.8L129.9,11.9ZM93.2,39.0L96.4,36.6L102.8,37.4L105.2,40.6L110.0,44.6L111.6,49.3L110.8,50.1L102.8,50.1L100.4,49.3L93.2,41.4Z" fill="#5affff" fill-rule="evenodd"/>
<path d="M66.9,407.3L66.9,432.0L98.0,432.0L98.0,411.3L96.4,408.1L94.0,407.3ZM318.0,377.0L317.2,378.6L318.8,379.4L319.6,377.8ZM337.2,294.1L336.4,295.7L338.0,296.5L338.8,294.9ZM107.6,236.7L106.8,238.3L108.4,239.1L109.2,237.5ZM330.8,211.2L330.0,212.8L331.6,213.6L332.4,212.0ZM487.0,171.3L459.9,171.3L457.5,172.1L453.6,176.9L438.4,178.5L434.4,183.3L425.7,184.9L421.7,189.6L406.5,191.2L396.2,202.4L387.4,204.0L385.8,206.4L380.2,211.2L379.4,217.5L380.2,219.9L384.2,223.9L384.2,226.3L381.0,228.7L357.9,228.7L355.5,229.5L351.5,234.3L349.1,235.1L332.4,235.1L330.0,235.9L326.0,240.7L317.2,242.3L313.2,247.0L310.9,247.8L304.5,247.0L300.5,243.1L297.3,243.1L294.9,246.2L291.7,246.2L287.7,242.3L285.3,241.5L275.0,241.5L272.6,240.7L268.6,236.7L266.2,236.7L264.6,239.1L264.6,243.8L263.8,245.4L260.6,247.8L255.8,253.4L247.1,255.0L245.5,258.2L244.7,264.6L233.5,274.9L232.7,277.3L232.7,294.1L233.5,296.5L237.5,300.4L237.5,302.8L232.7,308.4L220.8,319.6L220.0,321.2L220.0,326.0L217.6,329.1L214.4,329.1L212.8,326.8L211.2,326.0L208.8,326.0L207.2,328.3L208.0,334.7L231.9,357.8L232.7,360.2L232.7,389.7L231.9,392.1L227.2,396.1L226.4,398.5L226.4,432.0L302.1,432.0L302.1,411.3L301.3,408.9L297.3,404.9L297.3,402.5L301.3,398.5L302.1,396.1L302.1,373.0L304.5,369.0L310.9,368.2L313.2,366.6L313.2,364.2L309.3,360.2L308.5,357.8L308.5,347.5L309.3,345.1L320.4,334.7L321.2,332.3L321.2,315.6L322.0,313.2L326.0,309.2L326.0,306.8L325.2,306.0L317.2,304.4L310.1,296.5L310.1,294.1L313.2,291.7L317.2,291.7L319.6,290.1L318.8,286.1L316.4,284.5L316.4,281.3L323.6,273.3L326.0,272.5L342.7,272.5L345.1,271.7L349.1,267.0L364.3,265.4L381.0,247.8L383.4,247.0L400.1,247.0L402.5,246.2L404.1,243.1L404.1,232.7L407.3,228.7L410.5,228.7L412.1,231.9L415.3,234.3L419.3,234.3L421.7,233.5L425.7,228.7L433.6,227.1L434.4,226.3L434.4,223.9L432.0,222.3L427.2,222.3L424.1,219.9L423.3,213.6L425.7,209.6L428.0,208.8L434.4,209.6L436.8,212.8L444.8,219.9L447.2,219.9L451.2,215.9L459.9,214.4L461.5,211.2L461.5,200.8L463.9,196.8L466.3,196.0L487.0,196.0ZM285.3,312.4L287.7,312.4L294.9,319.6L294.9,322.0L287.7,329.1L285.3,329.1L283.0,326.0L283.0,315.6ZM254.3,312.4L257.4,314.8L256.6,317.2L255.1,317.2L252.7,314.8ZM269.4,304.4L271.0,306.0L272.6,310.0L276.6,313.2L277.4,314.8L277.4,320.4L276.6,322.0L268.6,329.1L266.2,329.1L259.0,322.8L257.4,318.8L263.0,314.8L264.6,307.6L267.0,305.2ZM306.1,274.1L307.7,276.5L305.3,278.9L303.7,278.9L302.9,276.5ZM302.1,279.7L301.3,284.5L299.7,285.3L294.1,291.7L279.0,293.3L277.4,295.7L277.4,300.4L274.2,304.4L271.8,305.2L270.2,303.6L270.2,283.7L271.0,281.3L274.2,278.9L279.0,273.3L285.3,272.5L287.7,273.3L290.1,276.5L293.3,278.9L301.3,278.9ZM414.5,223.1L416.1,225.5L413.7,227.9L412.1,227.9L411.3,225.5ZM407.3,204.0L409.7,205.6L408.1,208.0L405.7,206.4ZM100.4,166.5L99.6,170.5L103.6,170.5L103.6,167.3L102.8,166.5ZM371.4,160.1L357.9,147.4L355.5,147.4L348.3,153.8L346.7,162.5L343.5,164.9L332.4,176.9L323.6,178.5L322.0,180.9L318.0,184.1L306.9,184.1L304.5,184.9L300.5,189.6L291.7,191.2L287.7,196.0L279.0,197.6L277.4,200.0L273.4,203.2L262.2,203.2L259.8,204.8L259.8,207.2L262.2,208.8L285.3,208.8L287.7,209.6L291.7,213.6L294.1,213.6L301.3,207.2L302.1,200.8L304.5,196.8L313.2,195.2L317.2,191.2L319.6,191.2L323.6,195.2L332.4,196.8L336.4,201.6L338.8,202.4L345.1,201.6L346.7,199.2L352.3,194.4L353.9,185.7L358.7,181.7L360.3,172.9L361.9,171.3L368.3,170.5L371.4,168.9L372.2,166.5ZM457.5,147.4L457.5,149.8L459.9,151.4L487.0,151.4L487.0,145.8L459.9,145.8ZM425.7,121.9L425.7,124.3L428.0,125.9L432.0,125.9L434.4,124.3L434.4,121.9L432.0,120.3L428.0,120.3ZM458.3,115.5L457.5,117.1L459.1,117.9L459.9,116.3ZM212.0,113.9L153.8,113.9L151.4,114.7L147.4,119.5L145.0,120.3L134.7,120.3L132.3,121.1L128.3,125.9L119.5,127.5L117.9,129.8L109.2,137.8L106.8,137.8L102.8,133.8L100.4,133.0L66.9,133.0L66.9,157.8L94.8,157.8L96.4,157.0L99.6,153.0L103.6,151.4L107.6,157.0L109.2,157.8L113.2,157.8L116.3,160.1L116.3,162.5L110.0,169.7L105.2,171.3L105.2,172.9L107.6,176.1L109.2,176.9L113.2,176.9L117.1,180.1L117.1,183.3L116.3,184.1L102.0,184.1L98.8,181.7L98.0,179.3L98.0,172.1L93.2,172.9L93.2,173.7L88.4,177.7L66.9,177.7L66.9,183.3L87.6,183.3L91.6,186.5L92.4,188.8L91.6,190.4L66.9,190.4L66.9,196.0L87.6,196.0L90.8,193.6L90.8,192.0L92.4,189.6L113.2,189.6L116.3,187.2L117.9,183.3L121.1,184.1L124.3,188.0L124.3,192.8L121.9,196.0L119.5,196.8L102.0,196.8L94.8,203.2L66.9,203.2L66.9,208.8L94.8,208.8L96.4,209.6L103.6,217.5L103.6,219.9L100.4,222.3L96.4,222.3L94.0,223.9L94.0,226.3L96.4,227.9L107.6,227.9L113.2,223.1L115.5,223.1L117.9,226.3L117.9,230.3L119.5,233.5L128.3,235.1L132.3,239.1L134.7,239.1L140.3,234.3L147.4,226.3L147.4,223.9L145.0,222.3L134.7,222.3L130.7,219.9L129.9,217.5L130.7,211.2L133.9,208.8L141.1,200.8L141.1,198.4L138.7,196.8L134.7,196.8L130.7,194.4L129.9,192.8L129.9,187.2L132.3,184.1L147.4,182.5L149.0,179.3L149.8,172.9L153.8,170.5L170.6,170.5L172.9,169.7L176.9,164.9L179.3,164.1L208.8,164.1L211.2,163.3L212.8,160.9L216.8,157.8L227.9,157.8L230.3,156.2L230.3,153.8L227.9,152.2L210.4,152.2L208.8,151.4L204.8,146.6L202.4,145.8L192.1,145.8L188.1,143.4L187.3,137.0L188.1,134.6L192.9,130.6L194.5,121.9L197.7,119.5L208.8,119.5L212.0,117.1ZM108.4,146.6L110.0,149.0L107.6,151.4L106.0,151.4L105.2,149.0ZM217.6,109.9L216.0,109.1L214.4,110.7L214.4,112.3L216.0,112.3ZM377.8,63.7L376.2,63.7L374.6,66.1L376.2,66.9L377.8,65.3ZM318.0,58.1L317.2,59.7L318.8,60.5L319.6,58.9ZM97.2,57.3L95.6,57.3L94.0,59.7L95.6,60.5L97.2,58.9ZM102.8,52.5L101.2,51.7L99.6,53.3L99.6,54.9L101.2,54.9ZM189.7,45.3L189.7,47.7L192.1,49.3L196.1,49.3L198.5,47.7L198.5,45.3L196.1,43.8L192.1,43.8ZM328.4,11.9L328.4,32.6L329.2,35.0L333.2,39.0L333.2,41.4L329.2,45.3L328.4,47.7L328.4,51.7L330.0,54.9L332.4,55.7L338.8,54.9L340.4,52.5L349.1,44.6L351.5,44.6L353.9,47.7L353.9,51.7L355.5,54.9L361.9,55.7L364.3,54.9L368.3,50.9L370.6,50.9L377.8,57.3L379.4,62.1L406.5,62.1L409.7,64.5L409.7,66.9L402.5,74.8L396.2,75.6L393.0,77.2L392.2,78.8L392.2,83.6L389.0,87.6L385.8,87.6L385.0,86.8L385.0,78.8L383.4,76.4L376.2,75.6L373.8,77.2L373.0,79.6L373.0,90.0L375.4,93.2L377.0,93.2L379.4,94.8L381.0,99.6L381.8,99.6L387.4,105.9L389.8,106.7L396.2,105.9L397.7,102.7L397.7,98.8L400.1,95.6L404.1,96.4L405.7,98.8L408.9,98.8L412.9,94.8L419.3,94.0L422.5,96.4L422.5,98.8L412.9,109.1L412.9,111.5L415.3,113.1L419.3,113.1L421.7,112.3L425.7,107.5L427.2,106.7L432.0,106.7L435.2,105.1L436.0,102.7L436.0,94.8L436.8,94.0L487.0,94.0L487.0,43.8L466.3,43.8L462.3,41.4L461.5,39.0L461.5,11.9L411.3,11.9L411.3,32.6L410.5,35.0L407.3,37.4L396.2,37.4L393.8,38.2L392.2,40.6L383.4,48.5L381.0,48.5L366.7,35.0L365.9,32.6L365.9,11.9ZM384.2,88.4L385.0,89.2L384.2,92.4L382.6,94.0L380.2,94.0L379.4,93.2L379.4,90.8L381.0,89.2ZM432.0,82.8L434.4,82.8L436.8,86.0L436.8,93.2L436.0,94.0L432.8,94.0L429.6,90.0L429.6,86.0ZM405.7,45.3L408.9,43.0L425.7,43.0L429.6,45.3L430.4,51.7L428.0,55.7L421.7,56.5L419.3,55.7L415.3,50.9L407.3,49.3L405.7,47.7ZM296.5,11.9L296.5,39.0L297.3,41.4L304.5,47.7L306.9,47.7L308.5,45.3L308.5,11.9ZM117.9,11.9L117.9,32.6L119.5,35.0L121.9,35.0L123.5,32.6L123.5,11.9Z" fill="#00c3ff" fill-rule="evenodd"/>
<path d="M208.8,326.0L207.2,328.3L207.2,332.3L208.0,333.9L211.2,336.3L218.4,336.3L219.2,334.7L217.6,331.5L211.2,326.0ZM250.3,312.4L248.7,312.4L247.1,314.8L248.7,315.6L250.3,314.0ZM313.2,306.0L310.9,305.2L304.5,306.0L302.9,308.4L297.3,313.2L296.5,315.6L296.5,326.0L294.1,329.9L291.7,330.7L281.4,330.7L279.0,331.5L275.0,335.5L271.8,335.5L269.4,332.3L265.4,332.3L263.0,335.5L259.8,335.5L255.8,331.5L247.1,329.9L244.7,326.8L230.3,313.2L227.9,313.2L221.6,319.6L221.6,322.0L225.6,326.0L226.4,332.3L223.2,336.3L220.0,337.1L221.6,341.9L225.6,345.1L227.2,353.9L230.3,355.5L236.7,356.3L239.1,360.2L239.1,370.6L238.3,373.0L234.3,377.0L234.3,379.4L238.3,383.4L239.1,389.7L238.3,392.1L233.5,396.1L232.7,398.5L232.7,432.0L295.7,432.0L295.7,411.3L294.9,408.9L290.9,404.9L290.9,402.5L294.1,400.1L300.5,399.3L302.1,396.1L302.1,360.2L302.9,357.8L306.9,353.9L306.9,351.5L302.9,347.5L302.1,341.1L302.9,338.7L306.1,336.3L310.9,330.7L319.6,329.1L321.2,326.0L320.4,319.6L315.6,315.6L314.8,309.2ZM279.0,299.7L277.4,302.8L278.2,309.2L281.4,310.8L287.7,310.0L289.3,306.8L288.5,300.4L285.3,298.9ZM304.5,281.3L302.9,283.7L302.9,287.7L303.7,289.3L306.9,291.7L310.9,291.7L313.2,290.1L313.2,287.7L306.9,281.3ZM124.3,223.1L124.3,230.3L125.9,233.5L128.3,234.3L138.7,234.3L141.9,232.7L142.6,226.3L141.1,223.1L138.7,222.3L125.1,222.3ZM118.7,216.7L119.5,219.9L122.7,220.7L121.9,217.5L121.1,216.7ZM134.7,198.4L132.3,196.8L115.5,196.8L113.2,197.6L111.6,200.0L106.0,204.8L105.2,207.2L106.0,213.6L109.2,215.1L117.1,215.1L117.9,212.0L120.3,209.6L128.3,208.0L134.7,200.8ZM294.1,192.0L291.7,192.0L284.5,198.4L283.8,204.8L285.3,208.0L291.7,208.8L294.9,207.2L295.7,204.8L295.7,194.4ZM487.0,184.1L462.3,184.1L461.5,187.2L457.5,190.4L451.2,189.6L447.2,184.9L444.8,184.1L438.4,184.9L434.4,189.6L432.0,190.4L408.9,190.4L406.5,192.0L406.5,194.4L416.1,204.8L416.1,207.2L412.9,209.6L389.8,209.6L386.6,211.2L385.8,213.6L386.6,219.9L389.0,221.5L393.8,221.5L397.0,223.9L397.0,226.3L393.8,228.7L364.3,228.7L361.9,229.5L351.5,240.7L349.1,241.5L332.4,241.5L330.0,242.3L326.0,247.0L323.6,247.8L268.6,247.8L266.2,248.6L264.6,251.0L239.9,274.9L238.3,283.7L234.3,287.7L234.3,290.1L236.7,291.7L243.1,292.5L245.5,296.5L246.3,302.8L250.3,306.0L251.9,310.0L255.1,310.0L257.4,306.8L257.4,302.0L258.2,300.4L263.0,296.5L263.8,294.1L263.0,287.7L259.0,283.7L259.0,281.3L266.2,273.3L268.6,272.5L323.6,272.5L326.0,271.7L330.0,267.0L332.4,266.2L355.5,266.2L357.9,265.4L374.6,247.8L377.0,247.0L393.8,247.0L396.2,246.2L397.7,243.8L403.3,239.1L404.1,236.7L404.1,225.5L404.9,223.9L408.1,221.5L412.9,215.9L421.7,214.4L423.3,212.0L432.0,204.0L434.4,204.0L436.8,207.2L436.8,211.2L438.4,214.4L440.8,215.1L451.2,215.1L453.6,214.4L455.1,211.2L455.1,200.8L457.5,196.8L459.1,196.0L487.0,196.0ZM458.3,179.3L457.5,180.9L459.1,182.5L460.7,182.5L460.7,180.9ZM133.1,179.3L132.3,180.9L133.9,181.7L134.7,180.1ZM365.1,160.1L361.9,158.5L351.5,158.5L349.1,159.3L347.5,161.7L341.9,166.5L340.4,175.3L337.2,177.7L330.0,185.7L330.0,188.0L332.4,189.6L336.4,189.6L338.8,188.8L340.4,186.5L344.3,183.3L351.5,182.5L353.1,179.3L353.9,172.9L355.5,171.3L361.9,170.5L365.1,168.9L365.9,166.5ZM202.4,153.8L202.4,156.2L204.8,157.8L208.8,157.8L211.2,156.2L211.2,153.8L208.8,152.2L204.8,152.2ZM180.9,156.2L179.3,153.0L170.6,151.4L166.6,147.4L164.2,147.4L162.6,149.8L162.6,153.8L160.2,157.0L157.8,157.0L152.2,152.2L146.6,152.2L145.0,153.0L141.1,157.8L132.3,159.3L125.9,166.5L125.9,168.9L128.3,170.5L139.5,170.5L146.6,164.1L176.9,164.1L180.1,162.5ZM66.9,133.0L66.9,157.8L87.6,157.8L90.0,157.0L91.6,153.8L92.4,147.4L97.2,143.4L98.0,141.0L97.2,134.6L94.0,133.0ZM124.3,147.4L125.9,149.8L128.3,149.8L129.9,147.4L129.9,143.4L132.3,140.2L134.7,140.2L140.3,145.0L145.8,145.0L153.0,138.6L170.6,138.6L172.9,137.8L174.5,134.6L173.7,128.3L170.6,126.7L160.2,126.7L157.8,127.5L153.8,131.4L151.4,131.4L147.4,127.5L145.0,126.7L134.7,126.7L132.3,127.5L130.7,129.8L125.1,134.6L124.3,137.0ZM387.4,90.0L385.8,92.4L385.8,96.4L387.4,98.8L389.8,98.8L391.4,96.4L391.4,92.4L389.8,90.0ZM387.4,58.1L387.4,60.5L389.8,62.1L393.8,62.1L397.0,59.7L397.7,56.5L399.3,55.7L403.3,57.3L406.5,61.3L408.9,62.1L416.9,62.1L416.9,54.1L416.1,51.7L412.9,50.1L406.5,49.3L404.1,46.1L404.1,41.4L402.5,39.0L400.1,39.0L398.5,41.4L398.5,55.7L397.7,56.5L389.8,56.5ZM355.5,39.0L355.5,41.4L357.9,43.0L361.9,43.0L364.3,41.4L364.3,39.0L361.9,37.4L357.9,37.4ZM424.1,11.9L424.1,32.6L423.3,35.0L419.3,39.0L419.3,41.4L421.7,43.0L432.0,43.0L434.4,43.8L436.8,47.7L436.8,51.7L436.0,54.1L432.8,56.5L428.0,62.1L426.4,62.9L418.5,62.9L419.3,67.7L420.1,67.7L432.0,80.4L434.4,81.2L451.2,81.2L453.6,82.0L455.1,83.6L455.9,90.0L457.5,92.4L459.9,92.4L463.9,88.4L466.3,87.6L487.0,87.6L487.0,43.8L453.6,43.8L451.2,43.0L448.8,39.0L448.8,11.9ZM341.1,11.9L341.1,32.6L342.7,35.0L345.1,35.0L346.7,32.6L346.7,11.9Z" fill="#0064ff" fill-rule="evenodd"/>
<path d="M240.7,332.3L233.5,338.7L232.7,341.1L233.5,347.5L244.7,357.8L245.5,360.2L245.5,389.7L244.7,392.1L239.9,396.1L239.1,398.5L239.1,432.0L289.3,432.0L289.3,411.3L288.5,408.9L284.5,404.9L284.5,402.5L288.5,398.5L289.3,396.1L289.3,379.4L290.1,377.0L294.9,373.0L295.7,370.6L295.7,347.5L294.9,345.1L291.7,343.5L281.4,343.5L279.0,344.3L277.4,347.5L276.6,353.9L268.6,361.0L266.2,361.0L263.8,357.8L263.0,351.5L259.8,349.9L253.5,349.1L251.1,345.1L250.3,338.7L243.1,332.3ZM305.3,319.6L304.5,321.2L306.1,322.0L306.9,320.4ZM247.1,281.3L245.5,283.7L245.5,287.7L247.1,290.1L249.5,290.1L251.1,287.7L251.1,283.7L249.5,281.3ZM253.5,271.0L255.8,272.5L285.3,272.5L287.7,271.7L291.7,267.0L300.5,265.4L302.1,262.2L302.1,257.4L300.5,255.0L298.1,254.2L268.6,254.2L266.2,255.0L264.6,257.4L258.2,263.0L253.5,268.6ZM365.1,243.1L361.9,241.5L345.1,241.5L342.7,242.3L338.8,247.0L332.4,247.8L329.2,249.4L328.4,251.8L328.4,259.8L327.6,260.6L322.8,259.0L319.6,255.0L317.2,254.2L313.2,254.2L310.9,255.8L310.9,258.2L315.6,263.8L315.6,268.6L317.2,271.0L319.6,271.0L326.0,265.4L328.4,259.8L355.5,259.8L357.9,259.0L359.5,256.6L365.1,251.8L365.9,249.4ZM381.8,236.7L381.0,238.3L382.6,239.1L383.4,237.5ZM393.8,211.2L393.8,213.6L396.2,215.1L400.1,215.1L402.5,213.6L402.5,211.2L400.1,209.6L396.2,209.6ZM417.7,204.8L418.5,207.2L421.7,208.8L428.0,208.0L434.4,200.8L434.4,198.4L432.0,196.8L421.7,196.8L419.3,197.6L417.7,200.8Z" fill="#9664ff" fill-rule="evenodd"/>
<path d="M253.5,357.8L251.9,360.2L251.9,370.6L253.5,373.0L255.8,373.0L257.4,370.6L257.4,360.2L255.8,357.8ZM287.7,351.5L285.3,351.5L278.2,357.8L277.4,360.2L277.4,370.6L276.6,373.0L271.8,377.0L271.0,383.4L268.6,387.3L266.2,388.1L255.8,388.1L253.5,388.9L249.5,393.7L243.1,394.5L239.9,396.1L239.1,398.5L239.1,432.0L276.6,432.0L276.6,411.3L275.8,408.9L271.8,404.9L271.8,402.5L275.0,400.1L281.4,399.3L283.0,396.1L283.0,379.4L283.8,377.0L288.5,373.0L289.3,370.6L289.3,353.9ZM279.0,255.8L277.4,258.2L277.4,262.2L279.0,264.6L281.4,264.6L283.0,262.2L283.0,258.2L281.4,255.8Z" fill="#dc64ff" fill-rule="evenodd"/>
<path d="M240.7,408.9L239.1,411.3L239.1,432.0L244.7,432.0L244.7,411.3L243.1,408.9ZM253.5,395.3L251.9,398.5L251.9,432.0L270.2,432.0L270.2,411.3L269.4,408.9L265.4,404.9L265.4,401.7L268.6,399.3L269.4,394.5L255.8,394.5ZM275.0,383.4L272.6,383.4L271.0,385.7L271.0,392.9L274.2,392.9L276.6,389.7L276.6,385.7ZM287.7,357.8L285.3,357.8L279.0,364.2L279.0,366.6L281.4,368.2L285.3,368.2L288.5,365.8L289.3,364.2L289.3,360.2Z" fill="#ff00ff" fill-rule="evenodd"/>
<path d="M259.8,396.1L253.5,402.5L253.5,404.9L258.2,410.5L258.2,432.0L263.8,432.0L263.8,398.5L262.2,396.1ZM273.4,383.4L272.6,384.9L274.2,385.7L275.0,384.2Z" fill="#cd9646" fill-rule="evenodd"/>
<path d="M254.3,402.5L253.5,404.1L255.1,404.9L255.8,403.3Z" fill="#000000" fill-rule="evenodd"/>
</g>
<g clip-path="url(#clipL)">
<ellipse cx="283.5" cy="367.6" rx="4.6" ry="8.2" fill="#ff00ff"/>
<ellipse cx="275.9" cy="388.9" rx="4.7" ry="8.3" fill="#ff00ff"/>
<ellipse cx="275.9" cy="389.4" rx="2.8" ry="5.2" fill="#cd9646"/>
<ellipse cx="258.7" cy="405.5" rx="10.5" ry="9.5" fill="#ff00ff"/>
<ellipse cx="260.4" cy="405.4" rx="7.0" ry="7.0" fill="#cd9646"/>
<ellipse cx="260.4" cy="406.2" rx="3.6" ry="4.2" fill="#000000"/>
<ellipse cx="242.6" cy="412.0" rx="4.8" ry="4.5" fill="#ff00ff"/>
<ellipse cx="242.0" cy="413.0" rx="3.0" ry="3.0" fill="#cd9646"/>
</g>
<line x1="149.4" y1="31.5" x2="149.4" y2="414.5" stroke="#777" stroke-opacity="0.62" stroke-width="0.9"/>
<line x1="85.5" y1="94.4" x2="468.5" y2="94.4" stroke="#777" stroke-opacity="0.62" stroke-width="0.9"/>
<line x1="213.2" y1="31.5" x2="213.2" y2="414.5" stroke="#777" stroke-opacity="0.62" stroke-width="0.9"/>
<line x1="85.5" y1="158.2" x2="468.5" y2="158.2" stroke="#777" stroke-opacity="0.62" stroke-width="0.9"/>
<line x1="277.0" y1="31.5" x2="277.0" y2="414.5" stroke="#777" stroke-opacity="0.62" stroke-width="0.9"/>
<line x1="85.5" y1="221.9" x2="468.5" y2="221.9" stroke="#777" stroke-opacity="0.62" stroke-width="0.9"/>
<line x1="340.8" y1="31.5" x2="340.8" y2="414.5" stroke="#777" stroke-opacity="0.62" stroke-width="0.9"/>
<line x1="85.5" y1="285.7" x2="468.5" y2="285.7" stroke="#777" stroke-opacity="0.62" stroke-width="0.9"/>
<line x1="404.5" y1="31.5" x2="404.5" y2="414.5" stroke="#777" stroke-opacity="0.62" stroke-width="0.9"/>
<line x1="85.5" y1="349.5" x2="468.5" y2="349.5" stroke="#777" stroke-opacity="0.62" stroke-width="0.9"/>
<g transform="translate(85.65,30.6)" clip-path="url(#cl0)" fill="none" stroke="#000" stroke-width="1.1" stroke-linejoin="round" stroke-linecap="round">
<path d="M261.1,1.6L260.5,5.1L259.4,11.1L258.2,14.6L257.6,18.2L256.4,20.8M282.7,0.4L282.7,1.6L281.9,7.5L281.1,12.3L278.9,15.8L281.5,20.0L283.4,24.7L281.5,29.4L280.9,34.8L281.3,39.5L278.9,43.7L279.9,48.4L281.5,52.0L284.3,49.0L286.6,43.7L289.0,41.9L291.4,41.6L293.7,42.7L296.7,41.6L299.1,40.9L300.5,43.7L301.2,46.0L299.7,50.4L298.8,47.2L297.3,43.1L295.5,40.1L294.1,36.0L290.8,32.4L288.4,29.4L287.8,24.7L289.6,19.4L292.0,14.0L294.1,10.5L297.3,8.9L303.2,8.7L307.4,9.3L310.3,10.8L312.7,12.8L315.1,15.2L315.7,17.2L314.5,15.6L312.1,13.2L310.0,11.1L309.1,7.5L307.6,1.6L307.1,0.4M351.2,63.8L354.2,61.4L357.1,58.7L358.6,59.7L360.7,59.1L363.7,57.9L367.2,56.8L368.8,58.5L366.6,59.7L363.1,60.6L360.7,61.6L358.3,62.6L355.4,64.4M376.1,56.1L378.5,53.7L382.0,51.1L383.8,52.5L380.8,54.7L377.3,56.7ZM128.4,101.7L133.1,98.8L136.7,96.4L137.9,93.4L142.6,92.8L147.4,89.3L150.9,86.3L153.9,85.7L156.8,86.3L157.4,89.3L160.4,91.1L164.0,91.9L167.5,93.1L172.3,91.9L178.2,90.5L184.1,87.5L190.0,84.5L194.8,81.0L198.3,78.0L200.7,73.9L205.4,70.3L210.2,66.2L212.0,64.4M153.9,64.4L153.9,66.2L155.7,68.5L158.0,69.7L160.4,68.5L162.8,65.6L163.0,64.4M132.5,40.7L135.5,38.3L139.1,36.0L143.8,35.4L152.7,34.8L156.8,32.4L159.2,30.0L162.8,25.9L167.5,24.1L172.3,24.1L175.8,22.3L181.7,20.8L188.8,20.0L191.2,19.4L192.4,17.0L197.1,15.8L203.1,14.6L206.6,12.3L207.8,9.9L210.2,6.3L211.4,5.1L213.7,5.7L215.5,4.0L213.7,2.2L210.2,1.6L207.2,2.8L206.0,4.5M142.0,29.4L147.4,29.2L152.1,29.2L158.6,28.8L159.8,29.4M212.0,64.4L216.1,60.8L222.0,56.1L228.0,51.4L232.7,45.4L235.7,39.5L238.6,36.0L242.8,32.4L245.7,28.3L249.3,24.7L252.8,22.3L256.4,20.5M152.7,62.0L154.5,59.7L158.6,59.1L162.8,60.3L164.0,62.6L163.4,64.4M0.4,126.0L5.1,124.3L8.7,120.1L12.3,116.5L15.8,115.6L20.0,116.0L22.9,116.5L23.5,114.8L24.1,116.5L27.7,118.3L28.8,120.7L27.1,123.7L24.1,126.6L22.3,128.4M63.2,121.3L65.0,120.7L68.5,118.9M128.4,101.7L124.8,104.7L123.7,108.3L124.8,111.8L124.3,115.4L120.1,117.1L116.5,120.1L111.8,123.1L107.1,126.0L102.3,127.8L101.1,128.4M22.3,128.4L20.5,129.6L18.2,131.4L16.4,133.7L18.2,135.5L22.9,135.5L21.7,137.9L18.2,139.7L14.6,140.8L14.0,143.2L17.0,143.2L21.7,141.4L25.9,139.1L30.0,135.5L34.8,133.1L40.7,131.4L45.4,130.2L50.2,129.6L54.9,129.3L59.7,130.8L62.0,132.5L66.8,132.5L70.9,132.5L69.1,134.3L68.0,137.9L66.2,142.0L68.5,143.8L71.5,144.4L66.8,144.4L64.4,146.2L63.2,148.5L60.8,150.9M0.4,156.8L4.0,156.3L8.7,155.1L12.3,155.7L15.8,158.0L19.4,160.4L24.1,159.8L28.8,160.4L33.6,160.4L32.4,162.8L31.2,166.3L27.7,166.9L24.1,166.9L19.4,167.5L15.8,168.7L12.3,169.9L9.9,172.3L7.5,174.6L5.1,175.8L1.6,177.0L0.4,177.6M154.5,192.4L159.2,187.7L162.8,185.3L167.5,184.7L171.1,185.1L175.8,184.1L181.7,183.2L187.7,182.7L192.4,182.3L194.8,182.9L196.5,184.7L199.5,184.1L203.1,182.9L204.8,180.5L205.4,178.2L206.6,175.8L210.2,172.3L212.5,168.7L214.0,165.4L213.7,162.8L216.1,160.4L220.8,159.2L222.0,160.4L218.5,162.2L217.3,164.0L218.5,167.5L223.2,166.3L229.1,164.0L233.9,162.8L237.4,159.2L242.2,155.7L245.7,152.1L249.3,148.5L252.8,142.6L254.0,137.9L255.2,132.0L256.4,128.4M281.3,128.4L281.9,133.1L280.1,137.9L276.5,141.4L274.2,146.2L271.8,148.5L268.3,150.3L267.7,153.3L268.8,159.2L268.3,164.0L265.9,168.7L263.5,173.4L261.7,177.0L264.7,180.5L265.3,182.3L262.3,184.1L260.0,186.5L257.6,188.8L256.4,190.0M78.6,212.5L81.0,210.4L85.7,209.8L89.1,210.8L88.1,213.1L83.4,214.3L79.6,214.0ZM5.1,295.5L2.8,292.0L0.4,295.5M117.1,278.3L123.7,274.2L124.3,275.4L118.3,279.5ZM97.8,305.0L100.0,299.7L103.5,296.7L105.9,295.5L106.5,297.3L102.3,301.4L99.4,305.6ZM46.6,328.1L50.2,326.6L54.9,324.9L55.5,326.3L51.4,327.7L47.8,328.9ZM1.4,199.1L3.8,200.6L5.8,206.0L8.2,211.9L10.7,216.8L11.7,221.7L15.1,223.6L18.0,225.6L18.5,227.5L22.0,229.5L23.9,231.5L24.4,233.4L22.9,234.4L19.0,232.9L16.1,232.4L13.1,231.5L10.2,230.0L6.3,229.5L3.3,230.0L1.4,230.5M1.4,236.4L4.3,234.9L8.2,233.4L14.1,233.4L20.0,236.4L23.9,240.3L24.9,244.4M15.1,232.4L20.0,233.4L23.9,235.4L22.9,236.4L18.0,234.9ZM16.1,234.4L21.0,236.4L23.9,240.3L24.4,243.2L22.0,245.2L17.1,246.2L12.2,248.1L9.2,250.1L5.3,251.1L1.4,252.5M1.4,252.5L6.3,250.6L8.2,252.0L9.2,254.0L12.2,252.5L16.1,251.1L20.0,252.5L22.9,255.0L25.9,256.0L27.9,254.5L29.8,255.0L25.9,256.5L23.9,257.9M2.4,238.3L4.3,236.9L6.3,239.3L5.8,242.7L3.3,243.2ZM64.3,152.0L69.9,154.1L75.5,154.8L81.0,156.2L85.2,157.6L86.6,161.1L85.2,163.8L79.6,166.6L78.2,168.7L81.0,170.8L83.8,173.6L85.2,177.7L83.8,181.9L82.4,186.1L81.0,190.2L79.6,194.4L80.3,198.6L86.6,196.5L92.1,194.4L97.7,192.3L103.2,191.6L108.8,190.9L114.3,190.2L118.5,187.5L120.6,180.5L121.3,175.0L119.9,168.0L117.1,161.1L113.0,154.1L108.8,147.2L104.6,141.6L99.1,137.5L94.9,136.1L95.6,131.9L99.1,127.7L106.0,125.0L113.0,122.2L117.1,119.4M23.9,257.2L22.0,263.1L19.0,269.0L20.0,274.9L15.1,278.8L12.2,283.7L8.2,287.7L3.3,291.6L0.4,296.5M1.9,318.1L9.5,315.5L18.3,315.5L24.7,319.3L24.7,325.7L23.4,330.7L19.6,338.3L17.1,345.9L13.3,353.5L10.7,358.6L8.2,356.0L5.7,348.4L3.1,340.8L0.6,330.7ZM139.7,204.7L141.8,206.0L144.6,207.9L147.2,209.2L148.5,211.2L147.8,213.1L149.7,214.5L151.7,216.5L152.9,218.4L151.7,221.0L150.4,223.6L146.7,227.0L146.0,232.1L145.4,236.0L142.2,237.9L139.7,236.6L137.1,241.7L135.8,239.2L136.7,234.7L134.6,236.6L135.2,239.2L130.1,239.2L130.7,233.4L129.5,229.0L132.7,225.1L134.6,221.9L135.2,219.4L132.7,216.8L130.1,218.7L132.0,221.3L129.5,221.9L128.2,220.0L125.6,221.3L124.4,217.5L123.1,214.9L125.6,213.0L128.2,211.1L130.7,209.8L133.3,207.9L135.8,205.4L139.7,204.7ZM155.0,211.9L158.9,209.9L162.9,206.0L166.8,203.4L168.1,205.4L172.7,202.7L175.9,200.8L180.5,200.1L185.1,200.8L187.0,202.0L187.8,204.1L185.7,207.3L183.8,209.2L180.5,212.5L175.9,209.9L172.1,210.5L168.7,213.8L166.1,218.4L164.8,220.3L160.8,218.4L158.3,214.5L155.0,211.9ZM139.3,202.0L140.6,204.1L144.6,204.1L148.5,204.0L152.4,204.3L156.4,204.3L157.7,202.0L157.9,199.1L159.3,200.1L159.6,202.0L162.9,200.4L169.4,199.1L174.6,197.4L179.8,196.2L185.1,194.9L190.3,194.9L193.9,195.4L196.4,195.8L195.8,199.0L192.6,200.9L193.2,205.4L196.4,209.2L200.9,211.1L204.1,207.9L207.3,202.8L214.3,200.9L215.6,197.7L211.7,194.5L214.9,190.7L216.8,194.5L220.7,196.4L225.1,195.8L232.1,196.4L234.7,192.6L239.2,190.0L239.2,195.8L244.3,192.0L244.9,188.1L250.6,189.4L251.9,184.3L256.4,184.3L253.2,190.7L254.5,192.6L259.6,189.4L260.2,186.2L265.9,182.4L262.8,174.7L265.3,167.1L268.5,158.2L267.2,151.8L274.2,149.2L275.5,141.6L281.2,133.9L280.0,126.9L275.5,121.2L273.0,114.8L273.6,109.1L270.4,111.6L266.6,112.9L264.7,116.7L263.4,112.9L259.6,111.6L255.7,118.0L253.8,123.7L255.7,129.5L253.2,133.3L253.2,139.0L249.4,146.0L243.6,153.1L237.2,160.1L232.8,162.6L227.9,164.3L220.8,166.1L217.3,167.0L216.2,163.9L216.7,162.2L220.8,159.8L220.3,158.9L214.9,161.0L212.5,164.5L211.7,169.0L206.6,174.7L203.8,179.2L203.4,182.1L199.0,183.4L195.2,181.1L191.3,182.1L186.2,182.7L181.1,183.7L170.9,184.3L165.8,183.7L161.4,185.6L154.3,191.3L148.0,195.8L140.9,199.0L139.0,202.8L139.0,204.1M232.1,151.8L236.0,148.9L236.6,150.5L234.1,153.7L236.0,155.0L232.8,155.6ZM190.3,196.2L192.0,197.4L190.9,201.3L189.5,200.0ZM280.0,57.1L284.4,61.2L288.9,66.3L293.4,70.2L301.0,74.0L308.7,75.9L313.8,77.2L318.9,75.0L323.3,72.1L320.2,76.5L318.2,78.4L320.8,81.0L323.3,82.3L322.7,84.8L329.1,84.4L325.3,86.5L320.2,89.3L311.2,89.5L302.3,94.4L297.8,99.5L296.6,102.9L292.1,100.1L285.7,97.6L276.8,94.4L271.0,96.3L267.5,97.8L262.8,95.0L258.9,98.9L262.1,100.8L266.6,102.7L269.8,104.6L264.7,105.2L260.8,107.8L256.4,109.4L255.1,107.1L256.6,103.3L253.2,98.9L253.2,95.7L257.7,91.8L261.5,89.5L259.6,85.5L262.8,86.1L267.9,87.0L272.3,86.1L274.2,81.6L276.1,77.2L277.4,71.4L276.8,65.1L276.1,59.3L280.0,57.1ZM324.6,81.6L328.4,77.2L332.3,72.7L335.5,70.8L336.1,72.1L332.9,75.5L329.1,79.1L325.9,81.9ZM339.9,70.8L346.9,67.0L355.9,60.6L363.5,57.4L368.0,57.4L361.0,62.5L352.0,65.7L344.4,70.2ZM376.3,53.6L382.7,50.4L389.7,47.8L388.4,49.7L381.4,52.9Z"/>
<path d="M248.1,100.0L249.3,99.4L249.5,100.5L248.3,100.9ZM232.7,155.1L233.9,151.5L235.7,149.7L236.8,150.9L235.7,153.9ZM67.4,320.4L69.7,320.4L69.1,322.5L67.7,322.2ZM118.6,195.2L120.5,195.8L118.6,200.3L117.3,202.8L116.7,200.3ZM133.3,249.7L135.2,249.4L136.2,251.0L133.9,251.9ZM139.4,244.3L140.9,245.5L140.3,250.0L138.8,249.4ZM169.0,174.7L170.3,175.4L168.4,177.3L167.1,176.0ZM339.9,79.1L343.1,78.4L341.8,80.4ZM246.8,98.9L248.7,100.1L247.4,101.4ZM270.4,60.6L271.7,61.2L270.4,62.5ZM117.3,279.1L120.5,276.8L124.0,274.2L123.1,277.4L119.3,279.6ZM113.3,284.4L115.1,281.9L115.4,283.8L114.2,285.1ZM109.1,288.9L111.0,288.0L110.3,289.5ZM97.6,304.8L98.9,300.4L101.4,297.8L105.9,294.9L105.2,298.5L101.4,301.3L100.1,304.6ZM85.7,301.7L87.4,301.3L86.7,302.5ZM66.6,322.4L68.2,319.9L69.8,321.2L68.2,322.7ZM52.0,326.5L54.2,324.0L55.5,325.5L53.6,327.4ZM47.2,327.8L47.8,326.3L50.4,326.5L49.7,328.3ZM37.6,326.0L38.9,325.5L38.6,326.3ZM109.7,221.3L112.2,219.4L114.8,216.8L116.7,214.9L115.4,218.1L112.9,220.9ZM120.5,213.6L122.2,211.7L122.4,213.0ZM127.8,226.4L129.5,222.6L132.0,222.2L130.7,225.8ZM123.5,233.4L125.0,231.5L125.6,232.8ZM114.2,202.2L116.1,200.9L115.4,202.8ZM118.6,207.3L119.3,206.6L119.9,207.3Z" fill="#000" stroke-width="0.8"/>
<path d="M64.3,152.0L69.9,154.1L75.5,154.8L81.0,156.2L85.2,157.6L86.6,161.1L85.2,163.8L79.6,166.6L78.2,168.7L81.0,170.8L83.8,173.6L85.2,177.7L83.8,181.9L82.4,186.1L81.0,190.2L79.6,194.4L80.3,198.6L86.6,196.5L92.1,194.4L97.7,192.3L103.2,191.6L108.8,190.9L114.3,190.2M23.9,257.2L22.0,263.1L19.0,269.0L20.0,274.9L15.1,278.8L12.2,283.7L8.2,287.7L3.3,291.6L0.4,296.5" stroke-width="2.6" stroke-dasharray="2.5,0.8"/>
<circle cx="54.7" cy="60.6" r="1.7" fill="#000" stroke="none"/>
<circle cx="62.3" cy="86.6" r="1.2" fill="#000" stroke="none"/>
<circle cx="87.5" cy="81.2" r="2.0" fill="#000" stroke="none"/>
<circle cx="113.6" cy="78.0" r="1.9" fill="#000" stroke="none"/>
<circle cx="169.5" cy="175.8" r="1.4" fill="#000" stroke="none"/>
<circle cx="168.9" cy="185.1" r="1.2" fill="#000" stroke="none"/>
<circle cx="260.0" cy="177.9" r="0.8" fill="#000" stroke="none"/>
<circle cx="114.4" cy="283.9" r="0.8" fill="#000" stroke="none"/>
<circle cx="9.7" cy="237.3" r="0.8" fill="#000" stroke="none"/>
<circle cx="4.3" cy="241.3" r="0.8" fill="#000" stroke="none"/>
<circle cx="9.7" cy="237.0" r="0.8" fill="#000" stroke="none"/>
</g>
<rect x="85.5" y="31.5" width="383.0" height="383.0" fill="none" stroke="#000" stroke-width="1.05"/>
<text x="80.85000000000001" y="97.075" font-size="8.5" text-anchor="end" class="c">45°N</text>
<text x="80.85000000000001" y="160.85" font-size="8.5" text-anchor="end" class="c">40°N</text>
<text x="80.85000000000001" y="224.625" font-size="8.5" text-anchor="end" class="c">35°N</text>
<text x="80.85000000000001" y="288.40000000000003" font-size="8.5" text-anchor="end" class="c">30°N</text>
<text x="80.85000000000001" y="352.175" font-size="8.5" text-anchor="end" class="c">25°N</text>
<text x="149.425" y="424.9" font-size="8.5" text-anchor="middle" class="c">125°E</text>
<text x="213.20000000000002" y="424.9" font-size="8.5" text-anchor="middle" class="c">130°E</text>
<text x="276.975" y="424.9" font-size="8.5" text-anchor="middle" class="c">135°E</text>
<text x="340.75" y="424.9" font-size="8.5" text-anchor="middle" class="c">140°E</text>
<text x="404.525" y="424.9" font-size="8.5" text-anchor="middle" class="c">145°E</text>
<clipPath id="clipR"><rect x="555.5" y="31.5" width="383.0" height="383.0"/></clipPath>
<g clip-path="url(#clipR)">
<path d="M904.2,102.7L901.8,101.2L897.0,95.6L894.6,94.8L877.9,94.8L875.5,94.0L871.5,89.2L869.1,88.4L807.7,88.4L805.3,89.2L801.3,94.0L792.6,95.6L791.0,98.0L785.4,102.7L784.6,105.1L784.6,128.3L783.8,130.6L779.0,134.6L778.2,137.0L778.2,147.4L777.4,149.8L772.6,153.8L771.0,162.5L767.8,164.9L756.7,176.9L747.9,178.5L743.9,183.3L741.5,184.1L712.0,184.1L709.7,184.9L705.7,189.6L696.9,191.2L692.9,196.0L684.1,197.6L682.5,200.8L681.8,207.2L678.6,209.6L667.4,221.5L661.0,222.3L657.8,223.9L657.0,226.3L657.0,249.4L657.8,251.8L662.6,255.8L663.4,258.2L663.4,268.6L662.6,271.0L657.8,274.9L656.2,283.7L619.6,319.6L618.8,326.0L616.4,329.9L614.0,330.7L590.9,330.7L588.5,331.5L586.9,333.9L581.3,338.7L579.7,347.5L574.9,351.5L574.1,353.9L574.1,364.2L574.9,366.6L577.3,368.2L588.5,380.2L590.9,381.0L620.4,381.0L622.8,380.2L624.4,377.8L629.9,373.0L631.5,364.2L634.7,361.8L639.5,356.3L641.9,355.5L671.4,355.5L673.8,354.7L675.4,352.3L687.3,341.1L688.9,332.3L706.5,315.6L708.1,306.8L719.2,296.5L720.8,287.7L725.6,283.7L726.4,277.3L728.8,273.3L731.2,272.5L741.5,272.5L743.9,271.7L747.9,267.0L756.7,265.4L773.4,247.8L775.8,247.0L805.3,247.0L807.7,246.2L818.1,235.1L826.8,233.5L828.4,231.1L840.4,219.9L841.2,217.5L841.2,200.8L842.0,198.4L853.1,188.0L853.9,185.7L853.9,168.9L853.1,166.5L850.8,164.9L842.8,156.2L842.8,153.8L850.0,145.8L852.3,145.0L888.2,145.0L890.6,144.2L894.6,139.4L903.4,137.8L905.0,134.6L905.0,105.1Z" fill="#ffe6be" fill-rule="evenodd"/>
<path d="M610.8,369.8L609.2,369.8L607.6,372.2L609.2,373.0L610.8,371.4ZM608.4,338.7L607.6,340.3L609.2,341.1L610.0,339.5ZM590.9,338.7L588.5,338.7L586.9,341.1L586.9,345.1L584.5,349.1L575.7,350.7L574.1,353.9L574.9,360.2L577.3,361.8L582.1,367.4L584.5,368.2L588.5,368.2L591.7,366.6L592.5,364.2L592.5,353.1L597.2,347.5L597.2,345.1ZM665.0,228.7L661.0,228.7L657.8,231.1L657.0,232.7L657.0,236.7L658.6,239.1L661.0,239.1L667.4,232.7L667.4,230.3ZM904.2,102.7L901.8,101.2L897.0,95.6L894.6,94.8L858.7,94.8L856.3,94.0L852.3,89.2L850.0,88.4L820.5,88.4L818.1,89.2L816.5,92.4L816.5,102.7L817.3,105.1L821.3,109.1L821.3,111.5L816.5,117.1L810.9,121.9L810.1,123.5L810.1,128.3L807.7,131.4L804.5,131.4L802.9,129.1L801.3,128.3L798.9,128.3L797.3,130.6L797.3,134.6L798.1,137.0L802.1,141.0L802.1,143.4L798.1,147.4L796.5,156.2L793.4,158.5L775.8,176.9L767.1,178.5L763.1,183.3L760.7,184.1L750.3,184.1L747.9,184.9L743.9,189.6L735.2,191.2L731.2,196.0L728.8,196.8L699.3,196.8L696.9,197.6L695.3,200.0L689.7,204.8L688.1,213.6L684.9,215.9L677.8,223.9L677.8,226.3L680.2,227.9L684.9,227.9L686.5,228.7L688.9,231.9L692.1,234.3L696.9,234.3L700.1,236.7L700.1,239.1L686.5,253.4L677.8,255.0L676.2,257.4L664.2,268.6L662.6,277.3L657.8,281.3L657.0,283.7L657.0,291.7L651.5,294.1L651.5,294.9L632.3,313.2L631.5,315.6L631.5,323.6L625.9,326.0L618.8,333.9L618.8,345.1L618.0,347.5L613.2,351.5L612.4,353.9L612.4,367.4L613.2,368.2L626.7,368.2L629.1,367.4L630.7,365.0L636.3,360.2L637.1,358.6L637.1,353.9L639.5,350.7L641.9,350.7L645.9,354.7L648.3,355.5L658.6,355.5L661.0,354.7L662.6,351.5L662.6,346.7L657.8,341.1L657.8,338.7L665.0,331.5L667.4,331.5L669.8,334.7L669.8,345.9L670.6,347.5L673.8,349.1L680.2,348.3L681.8,345.9L687.3,341.1L688.9,332.3L706.5,315.6L708.1,306.8L719.2,296.5L720.8,287.7L725.6,283.7L726.4,277.3L728.8,273.3L731.2,272.5L741.5,272.5L743.9,271.7L747.9,267.0L756.7,265.4L773.4,247.8L775.8,247.0L805.3,247.0L807.7,246.2L818.1,235.1L826.8,233.5L828.4,231.1L840.4,219.9L841.2,217.5L841.2,207.2L839.6,204.8L837.2,204.8L830.0,211.2L828.4,219.9L824.4,222.3L810.1,222.3L809.3,221.5L809.3,213.6L810.1,211.2L813.3,208.8L830.8,190.4L837.2,189.6L839.6,190.4L843.6,194.4L846.0,194.4L853.1,188.0L853.9,185.7L853.9,168.9L853.1,166.5L850.8,164.9L842.8,156.2L842.8,153.8L850.0,145.8L852.3,145.0L888.2,145.0L890.6,144.2L894.6,139.4L903.4,137.8L905.0,134.6L905.0,105.1ZM631.5,325.2L633.9,324.4L636.3,327.6L633.9,329.1L631.5,326.8ZM684.9,293.3L687.3,294.9L685.7,297.3L683.3,295.7ZM657.8,291.7L660.2,292.5L663.4,296.5L663.4,319.6L662.6,322.0L659.4,324.4L653.8,330.7L648.3,335.5L645.9,335.5L643.5,332.3L643.5,321.2L644.3,319.6L649.1,315.6L649.9,308.4L656.2,301.2L656.2,292.5ZM791.0,228.7L791.8,227.9L795.0,227.9L796.5,229.5L795.7,232.7L795.0,233.5L792.6,233.5L791.0,231.1ZM797.3,227.9L797.3,224.7L801.3,221.5L808.5,221.5L809.3,222.3L809.3,225.5L805.3,228.7L798.1,228.7ZM764.7,230.3L764.7,226.3L765.5,224.7L769.4,221.5L786.2,221.5L787.8,222.3L791.0,226.3L790.2,228.7L785.4,230.3L783.0,233.5L779.0,233.5L776.6,230.3L772.6,230.3L771.0,232.7L767.1,233.5ZM720.0,229.5L721.6,227.9L725.6,226.3L728.8,222.3L731.2,221.5L741.5,221.5L744.7,223.9L744.7,226.3L737.6,234.3L735.2,235.1L724.8,235.1L720.8,231.9ZM708.9,223.9L712.0,221.5L716.0,221.5L720.0,224.7L720.8,227.1L719.2,228.7L712.0,228.7L708.9,226.3Z" fill="#e1ffd2" fill-rule="evenodd"/>
<path d="M610.8,369.8L609.2,369.8L607.6,372.2L609.2,373.0L610.8,371.4ZM655.4,350.7L653.8,350.7L652.3,353.1L653.8,353.9L655.4,352.3ZM657.0,344.3L657.0,347.5L657.8,348.3L661.0,347.5L661.0,345.1ZM590.9,338.7L588.5,338.7L586.9,341.1L586.9,345.1L584.5,349.1L575.7,350.7L574.1,353.9L574.9,360.2L577.3,361.8L582.1,367.4L584.5,368.2L588.5,368.2L591.7,366.6L592.5,364.2L592.5,353.1L597.2,347.5L597.2,345.1ZM656.2,331.5L651.5,332.3L651.5,333.1L645.9,337.9L644.3,341.9L645.1,342.7L656.2,342.7ZM661.8,325.2L658.6,326.0L657.8,329.1L661.0,328.3L661.8,327.6ZM665.0,228.7L661.0,228.7L657.8,231.1L657.0,232.7L657.0,236.7L658.6,239.1L661.0,239.1L667.4,232.7L667.4,230.3ZM904.2,102.7L901.8,101.2L897.0,95.6L894.6,94.8L877.9,94.8L875.5,95.6L871.5,99.6L868.3,99.6L865.9,96.4L861.9,96.4L859.5,99.6L856.3,99.6L852.3,95.6L843.6,94.0L839.6,89.2L837.2,88.4L820.5,88.4L818.1,89.2L816.5,92.4L816.5,96.4L817.3,98.8L819.7,100.4L822.9,104.3L822.9,109.9L822.1,111.5L817.3,115.5L815.7,124.3L804.5,134.6L803.7,137.0L803.7,153.8L802.9,156.2L799.7,158.5L782.2,176.9L773.4,178.5L769.4,183.3L767.1,184.1L750.3,184.1L747.9,184.9L737.6,196.0L735.2,196.8L705.7,196.8L703.3,197.6L699.3,202.4L691.3,204.0L690.5,204.8L690.5,207.2L691.3,208.8L692.9,209.6L693.7,213.6L690.5,215.9L685.7,215.9L684.1,216.7L677.8,223.9L677.8,226.3L680.2,227.9L684.9,227.9L686.5,228.7L688.9,231.9L692.1,234.3L696.9,234.3L700.1,236.7L700.1,239.1L686.5,253.4L677.8,255.0L676.2,257.4L664.2,268.6L662.6,277.3L657.8,281.3L657.0,283.7L657.0,291.7L651.5,294.1L651.5,294.9L632.3,313.2L631.5,315.6L631.5,323.6L625.9,326.0L625.9,326.8L619.6,332.3L618.8,334.7L618.8,345.1L618.0,347.5L613.2,351.5L612.4,353.9L612.4,367.4L613.2,368.2L626.7,368.2L629.1,367.4L630.7,365.0L636.3,360.2L637.9,351.5L641.9,348.3L643.5,343.5L640.3,342.7L637.1,338.7L637.1,333.9L636.3,332.3L632.3,329.1L630.7,324.4L631.5,323.6L640.3,323.6L649.1,315.6L649.9,308.4L656.2,301.2L656.2,292.5L657.0,291.7L660.2,292.5L662.6,294.9L664.2,302.8L666.6,304.4L674.6,313.2L674.6,315.6L671.4,318.0L667.4,318.0L664.2,320.4L664.2,323.6L666.6,324.4L669.8,328.3L669.8,345.9L671.4,348.3L673.8,349.1L680.2,348.3L681.8,345.9L687.3,341.1L688.9,332.3L706.5,315.6L708.1,306.8L719.2,296.5L720.8,287.7L725.6,283.7L726.4,277.3L728.8,273.3L731.2,272.5L741.5,272.5L743.9,271.7L747.9,267.0L756.7,265.4L773.4,247.8L775.8,247.0L805.3,247.0L807.7,246.2L818.1,235.1L826.8,233.5L828.4,231.1L840.4,219.9L841.2,217.5L841.2,207.2L839.6,204.8L837.2,204.8L830.0,211.2L829.2,217.5L826.8,221.5L818.1,223.1L814.1,227.9L811.7,228.7L800.5,228.7L798.9,229.5L795.0,234.3L792.6,235.1L782.2,235.1L779.8,234.3L775.8,230.3L772.6,230.3L771.0,232.7L767.1,233.5L764.7,230.3L764.7,226.3L765.5,224.7L769.4,221.5L806.1,221.5L808.5,219.9L810.1,211.2L821.3,200.8L822.1,194.4L824.4,190.4L826.8,189.6L850.0,189.6L852.3,188.8L853.9,185.7L853.9,168.9L853.1,166.5L850.8,164.9L842.8,156.2L842.8,153.8L850.0,145.8L852.3,145.0L888.2,145.0L890.6,144.2L894.6,139.4L903.4,137.8L905.0,134.6L905.0,105.1ZM672.2,293.3L674.6,294.9L673.0,297.3L670.6,295.7ZM684.1,286.9L686.5,286.9L688.9,290.1L688.9,300.4L686.5,303.6L684.1,303.6L681.8,300.4L681.8,290.1ZM702.5,223.9L705.7,221.5L741.5,221.5L744.7,223.9L744.7,226.3L737.6,234.3L735.2,235.1L724.8,235.1L722.4,234.3L720.0,231.1L716.8,228.7L705.7,228.7L702.5,226.3ZM774.2,210.4L776.6,212.0L775.0,214.4L772.6,212.8ZM882.6,133.8L885.0,135.4L883.4,137.8L881.0,136.2ZM831.6,101.9L834.0,103.5L832.4,105.9L830.0,104.3Z" fill="#96fa8c" fill-rule="evenodd"/>
<path d="M617.2,357.0L615.6,357.0L614.0,359.4L615.6,360.2L617.2,358.6ZM575.7,351.5L574.1,353.9L574.1,357.8L575.7,360.2L578.1,360.2L579.7,357.8L579.7,353.9L578.1,351.5ZM632.3,350.7L632.3,352.3L634.7,353.9L635.5,352.3L633.9,350.7ZM653.1,332.3L652.3,333.9L653.8,334.7L654.6,333.1ZM629.1,326.0L626.7,326.0L619.6,332.3L618.8,334.7L618.8,354.7L622.0,354.7L623.6,353.9L625.9,350.7L630.7,349.1L630.7,328.3ZM645.9,300.4L644.3,302.8L644.3,306.8L645.9,309.2L648.3,309.2L649.9,306.8L649.9,302.8L648.3,300.4ZM661.8,286.9L660.2,286.9L658.6,289.3L660.2,290.1L661.8,288.5ZM659.4,230.3L658.6,231.9L660.2,232.7L661.0,231.1ZM774.2,217.5L773.4,219.1L775.0,219.9L775.8,218.3ZM839.6,211.2L837.2,211.2L835.6,213.6L835.6,220.7L838.8,220.7L841.2,217.5L841.2,213.6ZM897.0,101.9L894.6,101.2L858.7,101.2L856.3,100.4L852.3,95.6L843.6,94.0L839.6,89.2L837.2,88.4L826.8,88.4L824.4,90.0L824.4,92.4L834.0,102.7L834.0,105.1L830.0,109.1L828.4,117.9L824.4,120.3L818.1,121.1L816.5,123.5L810.9,128.3L810.1,130.6L810.1,141.0L809.3,143.4L804.5,147.4L802.9,162.5L799.7,164.9L788.6,176.9L779.8,178.5L775.8,183.3L773.4,184.1L756.7,184.1L754.3,184.9L743.9,196.0L741.5,196.8L724.8,196.8L722.4,197.6L720.8,200.0L712.0,208.0L708.9,208.0L707.3,205.6L703.3,204.8L701.7,207.2L701.7,212.0L699.3,215.1L697.7,215.9L686.5,215.9L682.5,218.3L677.8,223.9L677.8,226.3L680.2,227.9L694.5,227.9L696.1,230.3L696.1,231.9L699.3,234.3L706.5,234.3L706.5,231.1L703.3,228.7L695.3,228.7L694.5,227.9L695.3,224.7L699.3,221.5L704.1,221.5L705.7,220.7L708.9,216.7L712.0,216.7L716.0,220.7L718.4,221.5L751.1,221.5L752.7,223.9L751.1,227.1L737.6,239.9L735.2,239.9L731.2,235.9L728.8,235.1L722.4,235.9L718.4,239.9L715.2,239.9L712.8,236.7L708.1,235.1L706.5,239.9L689.7,255.8L688.9,257.4L688.9,263.0L693.7,268.6L693.7,271.0L686.5,278.1L684.1,278.1L681.8,274.9L681.8,258.2L680.2,255.8L677.8,255.8L676.2,258.2L676.2,263.0L675.4,264.6L670.6,268.6L669.0,277.3L665.0,280.5L664.2,285.3L672.2,285.3L677.8,290.1L680.2,290.1L685.7,285.3L690.5,285.3L692.9,286.1L695.3,290.1L695.3,306.8L694.5,309.2L690.5,311.6L684.1,312.4L682.5,314.8L677.0,319.6L676.2,322.0L676.2,345.1L677.8,347.5L680.2,347.5L687.3,341.1L688.9,332.3L706.5,315.6L708.1,306.8L719.2,296.5L720.8,287.7L725.6,283.7L726.4,277.3L728.8,273.3L731.2,272.5L741.5,272.5L743.9,271.7L747.9,267.0L756.7,265.4L773.4,247.8L775.8,247.0L805.3,247.0L807.7,246.2L818.1,235.1L826.8,233.5L828.4,231.1L833.2,227.1L834.0,222.3L820.5,222.3L818.1,223.1L816.5,225.5L806.1,235.1L763.1,235.1L759.1,232.7L757.5,224.7L755.9,223.1L751.9,221.5L752.7,218.3L756.7,215.1L761.5,215.1L763.1,214.4L772.6,204.0L777.4,202.4L779.8,208.0L786.2,213.6L788.6,213.6L790.2,211.2L790.2,204.0L791.0,203.2L794.2,203.2L797.3,207.2L797.3,217.5L798.1,219.9L801.3,221.5L807.7,220.7L809.3,217.5L810.1,211.2L813.3,208.8L820.5,200.8L820.5,197.6L818.9,196.8L817.3,194.4L817.3,192.0L820.5,189.6L830.8,189.6L833.2,188.8L837.2,184.1L839.6,183.3L850.0,183.3L853.1,181.7L853.9,179.3L853.1,172.9L848.4,168.9L846.8,160.1L842.8,156.2L842.8,153.8L850.0,145.8L851.6,145.0L856.3,145.0L858.7,143.4L858.7,141.0L857.9,139.4L856.3,138.6L855.5,134.6L858.7,132.2L888.2,132.2L890.6,131.4L892.2,129.1L897.8,124.3L898.6,121.9L898.6,105.1ZM778.2,199.2L782.2,196.0L786.2,196.0L790.2,199.2L790.2,202.4L789.4,203.2L779.0,203.2L778.2,202.4ZM838.0,165.7L840.4,167.3L838.8,169.7L836.4,168.1ZM825.2,165.7L827.6,167.3L826.0,169.7L823.7,168.1Z" fill="#5affff" fill-rule="evenodd"/>
<path d="M627.5,332.3L626.7,333.9L628.3,334.7L629.1,333.1ZM677.0,279.7L677.0,282.9L680.2,285.3L684.1,285.3L686.5,283.7L686.5,281.3L684.1,279.7ZM672.2,274.9L671.4,276.5L673.0,278.1L674.6,278.1L674.6,276.5ZM833.2,223.9L830.8,222.3L824.4,223.1L820.5,227.9L811.7,229.5L807.7,234.3L798.9,235.9L795.0,239.9L792.6,239.9L788.6,235.9L782.2,235.1L779.8,235.9L778.2,238.3L774.2,241.5L768.6,241.5L763.1,236.7L759.9,236.7L757.5,239.9L753.5,239.9L751.1,236.7L747.9,236.7L743.9,240.7L737.6,241.5L735.2,240.7L731.2,235.9L724.8,235.1L722.4,235.9L720.8,238.3L716.0,242.3L713.6,247.8L699.3,247.8L696.9,248.6L695.3,251.8L695.3,268.6L696.1,271.0L700.1,274.9L700.1,278.1L696.9,280.5L696.9,283.7L700.9,287.7L701.7,290.1L701.7,300.4L700.9,302.8L677.0,326.0L676.2,328.3L676.2,338.7L677.0,341.1L680.2,342.7L684.1,342.7L687.3,341.1L688.9,332.3L706.5,315.6L708.1,306.8L719.2,296.5L720.8,287.7L725.6,283.7L726.4,277.3L728.8,273.3L731.2,272.5L741.5,272.5L743.9,271.7L747.9,267.0L756.7,265.4L758.3,263.0L775.0,247.0L805.3,247.0L807.7,246.2L818.1,235.1L826.8,233.5L833.2,226.3ZM704.1,261.4L706.5,263.0L704.9,265.4L702.5,263.8ZM714.4,248.6L716.8,247.8L719.2,251.0L716.8,252.6L714.4,250.2ZM734.4,216.7L734.4,218.3L736.8,219.9L737.6,218.3L736.0,216.7ZM682.5,223.9L684.1,226.3L686.5,226.3L692.1,221.5L696.9,221.5L699.3,219.9L699.3,217.5L696.9,215.9L686.5,215.9L683.3,218.3L682.5,219.9ZM719.2,210.4L717.6,210.4L716.0,212.8L717.6,213.6L719.2,212.0ZM787.0,204.8L786.2,206.4L787.8,207.2L788.6,205.6ZM704.1,204.8L703.3,206.4L704.9,207.2L705.7,205.6ZM897.0,102.7L894.6,102.7L893.0,103.5L891.4,105.9L888.2,105.9L884.2,101.9L881.8,101.2L852.3,101.2L850.0,100.4L839.6,89.2L837.2,88.4L826.8,88.4L824.4,90.0L824.4,92.4L825.2,93.2L833.2,94.8L835.6,98.8L835.6,116.3L834.8,117.9L830.8,121.1L830.0,125.9L840.4,125.9L841.2,126.7L841.2,129.8L837.2,133.0L830.0,133.0L828.4,131.4L828.4,126.7L820.5,126.7L818.1,127.5L816.5,129.8L810.9,134.6L810.1,137.0L810.1,153.8L809.3,156.2L806.1,158.5L782.2,183.3L779.8,184.1L769.4,184.1L767.1,184.9L763.1,189.6L747.9,191.2L746.3,193.6L736.0,203.2L730.4,203.2L724.8,198.4L722.4,198.4L720.8,200.8L720.8,208.8L725.6,210.4L728.0,213.6L732.0,215.1L733.6,212.0L737.6,208.8L747.9,208.8L750.3,209.6L754.3,213.6L756.7,213.6L762.3,208.8L773.4,196.8L775.8,196.0L798.9,196.0L802.9,198.4L803.7,200.8L803.7,211.2L805.3,213.6L807.7,213.6L809.3,211.2L809.3,206.4L814.1,200.8L814.1,197.6L810.9,195.2L810.9,192.0L818.1,184.1L819.7,183.3L850.0,183.3L851.6,182.5L853.9,179.3L853.9,175.3L852.3,172.9L850.0,172.9L844.4,177.7L826.0,177.7L824.4,176.9L817.3,168.9L817.3,166.5L820.5,164.1L825.2,164.1L826.8,163.3L830.8,159.3L834.0,159.3L835.6,161.7L839.6,162.5L841.2,160.1L841.2,155.4L842.0,153.8L845.2,151.4L852.3,143.4L852.3,140.2L849.2,137.8L849.2,134.6L856.3,127.5L858.7,127.5L862.7,131.4L865.1,132.2L875.5,132.2L877.9,131.4L881.8,126.7L897.0,125.1L898.6,121.9L898.6,105.1ZM827.6,133.0L828.4,135.4L825.2,137.8L823.7,135.4L826.0,133.0ZM846.8,120.3L847.6,121.1L846.8,124.3L844.4,125.9L842.8,125.9L842.0,125.1L842.8,121.9L845.2,120.3ZM851.6,114.7L853.1,117.1L850.8,119.5L849.2,119.5L848.4,117.1Z" fill="#00c3ff" fill-rule="evenodd"/>
<path d="M677.8,332.3L677.8,334.7L684.1,341.1L686.5,341.1L688.1,338.7L688.1,330.7L680.2,330.7ZM723.2,236.7L722.4,238.3L724.0,239.1L724.8,237.5ZM814.1,236.7L811.7,235.1L807.7,235.1L805.3,235.9L803.7,238.3L799.7,241.5L787.8,241.5L782.2,236.7L779.8,236.7L774.2,241.5L737.6,241.5L735.2,242.3L724.8,253.4L709.7,255.0L708.1,258.2L708.1,268.6L707.3,271.0L702.5,274.9L701.7,277.3L701.7,307.6L700.9,309.2L689.7,319.6L688.9,322.0L688.9,329.1L693.7,328.3L693.7,327.6L706.5,315.6L708.1,306.8L719.2,296.5L720.8,287.7L725.6,283.7L726.4,277.3L728.8,273.3L731.2,272.5L741.5,272.5L743.9,271.7L747.9,267.0L756.7,265.4L758.3,263.0L775.0,247.0L805.3,247.0L807.7,246.2L814.1,239.1ZM684.1,217.5L684.1,219.9L686.5,221.5L690.5,221.5L692.9,219.9L692.9,217.5L690.5,215.9L686.5,215.9ZM805.3,198.4L803.7,200.8L803.7,204.8L805.3,207.2L807.7,207.2L809.3,204.8L809.3,200.8L807.7,198.4ZM763.1,191.2L760.7,190.4L754.3,191.2L752.7,193.6L747.1,198.4L746.3,204.8L747.9,208.0L750.3,208.8L756.7,208.0L758.3,205.6L763.9,200.8L764.7,199.2L764.7,193.6ZM846.0,141.0L843.6,141.0L836.4,147.4L835.6,153.8L837.2,156.2L839.6,156.2L846.8,149.8L847.6,143.4ZM820.5,141.0L818.1,141.0L817.3,141.8L815.7,149.8L810.9,153.8L809.3,162.5L791.8,179.3L790.2,187.2L788.6,188.8L786.2,188.8L782.2,184.9L779.8,184.1L773.4,184.9L771.8,188.0L771.8,192.8L773.4,195.2L775.8,196.0L792.6,196.0L795.0,195.2L798.9,190.4L807.7,188.8L809.3,186.5L814.9,181.7L815.7,179.3L815.7,161.7L816.5,160.1L821.3,156.2L822.1,153.8L822.1,143.4ZM892.2,117.9L890.6,114.7L884.2,113.9L881.8,114.7L880.3,117.1L876.3,120.3L865.1,120.3L862.7,121.9L862.7,124.3L865.1,125.9L888.2,125.9L891.4,124.3ZM837.2,111.5L839.6,113.1L856.3,113.1L858.7,112.3L865.1,105.1L865.1,102.7L862.7,101.2L846.0,101.2L843.6,101.9L837.2,109.1Z" fill="#0064ff" fill-rule="evenodd"/>
<path d="M696.9,318.0L692.9,318.0L689.7,320.4L688.9,322.0L688.9,326.0L690.5,328.3L692.9,328.3L699.3,322.0L699.3,319.6ZM799.7,243.1L798.9,244.6L800.5,245.4L801.3,243.8ZM769.4,249.4L767.1,247.8L762.3,247.8L760.7,247.0L756.7,242.3L750.3,241.5L747.9,242.3L743.9,247.0L735.2,248.6L731.2,253.4L716.0,255.0L714.4,258.2L714.4,268.6L713.6,271.0L708.9,274.9L708.1,277.3L708.1,294.1L709.7,296.5L712.0,296.5L725.6,283.7L726.4,277.3L728.8,273.3L731.2,272.5L741.5,272.5L743.9,271.7L747.9,267.0L756.7,265.4L769.4,251.8ZM748.7,198.4L747.9,200.0L749.5,200.8L750.3,199.2ZM780.6,192.0L779.8,193.6L781.4,194.4L782.2,192.8ZM807.7,172.9L805.3,172.9L803.7,175.3L803.7,180.1L798.9,185.7L798.9,188.0L801.3,189.6L805.3,189.6L806.9,188.8L809.3,185.7L809.3,175.3Z" fill="#9664ff" fill-rule="evenodd"/>
<path d="M763.1,255.8L756.7,248.6L754.3,247.8L747.9,248.6L743.9,253.4L741.5,254.2L724.8,254.2L722.4,255.0L720.8,257.4L715.2,262.2L714.4,264.6L714.4,281.3L715.2,283.7L718.4,285.3L724.8,284.5L726.4,281.3L727.2,274.9L728.8,273.3L731.2,272.5L741.5,272.5L743.9,271.7L747.9,267.0L756.7,265.4L763.1,258.2Z" fill="#dc64ff" fill-rule="evenodd"/>
<path d="M745.5,261.4L744.7,260.6L737.6,260.6L735.2,261.4L731.2,265.4L728.0,265.4L725.6,262.2L722.4,262.2L715.2,268.6L714.4,274.9L716.0,277.3L718.4,277.3L724.0,272.5L741.5,272.5L743.9,271.7L745.5,268.6ZM750.3,256.6L748.7,255.8L747.1,257.4L747.1,259.0L748.7,259.0Z" fill="#ff00ff" fill-rule="evenodd"/>
<path d="M716.8,268.6L716.0,270.2L717.6,271.0L718.4,269.4Z" fill="#cd9646" fill-rule="evenodd"/>
</g>
<line x1="618.4" y1="31.5" x2="618.4" y2="414.5" stroke="#777" stroke-opacity="0.62" stroke-width="0.9"/>
<line x1="555.5" y1="94.4" x2="938.5" y2="94.4" stroke="#777" stroke-opacity="0.62" stroke-width="0.9"/>
<line x1="682.2" y1="31.5" x2="682.2" y2="414.5" stroke="#777" stroke-opacity="0.62" stroke-width="0.9"/>
<line x1="555.5" y1="158.2" x2="938.5" y2="158.2" stroke="#777" stroke-opacity="0.62" stroke-width="0.9"/>
<line x1="745.9" y1="31.5" x2="745.9" y2="414.5" stroke="#777" stroke-opacity="0.62" stroke-width="0.9"/>
<line x1="555.5" y1="221.9" x2="938.5" y2="221.9" stroke="#777" stroke-opacity="0.62" stroke-width="0.9"/>
<line x1="809.7" y1="31.5" x2="809.7" y2="414.5" stroke="#777" stroke-opacity="0.62" stroke-width="0.9"/>
<line x1="555.5" y1="285.7" x2="938.5" y2="285.7" stroke="#777" stroke-opacity="0.62" stroke-width="0.9"/>
<line x1="873.5" y1="31.5" x2="873.5" y2="414.5" stroke="#777" stroke-opacity="0.62" stroke-width="0.9"/>
<line x1="555.5" y1="349.5" x2="938.5" y2="349.5" stroke="#777" stroke-opacity="0.62" stroke-width="0.9"/>
<g transform="translate(554.6,30.6)" clip-path="url(#cl0)" fill="none" stroke="#000" stroke-width="1.1" stroke-linejoin="round" stroke-linecap="round">
<path d="M261.1,1.6L260.5,5.1L259.4,11.1L258.2,14.6L257.6,18.2L256.4,20.8M282.7,0.4L282.7,1.6L281.9,7.5L281.1,12.3L278.9,15.8L281.5,20.0L283.4,24.7L281.5,29.4L280.9,34.8L281.3,39.5L278.9,43.7L279.9,48.4L281.5,52.0L284.3,49.0L286.6,43.7L289.0,41.9L291.4,41.6L293.7,42.7L296.7,41.6L299.1,40.9L300.5,43.7L301.2,46.0L299.7,50.4L298.8,47.2L297.3,43.1L295.5,40.1L294.1,36.0L290.8,32.4L288.4,29.4L287.8,24.7L289.6,19.4L292.0,14.0L294.1,10.5L297.3,8.9L303.2,8.7L307.4,9.3L310.3,10.8L312.7,12.8L315.1,15.2L315.7,17.2L314.5,15.6L312.1,13.2L310.0,11.1L309.1,7.5L307.6,1.6L307.1,0.4M351.2,63.8L354.2,61.4L357.1,58.7L358.6,59.7L360.7,59.1L363.7,57.9L367.2,56.8L368.8,58.5L366.6,59.7L363.1,60.6L360.7,61.6L358.3,62.6L355.4,64.4M376.1,56.1L378.5,53.7L382.0,51.1L383.8,52.5L380.8,54.7L377.3,56.7ZM128.4,101.7L133.1,98.8L136.7,96.4L137.9,93.4L142.6,92.8L147.4,89.3L150.9,86.3L153.9,85.7L156.8,86.3L157.4,89.3L160.4,91.1L164.0,91.9L167.5,93.1L172.3,91.9L178.2,90.5L184.1,87.5L190.0,84.5L194.8,81.0L198.3,78.0L200.7,73.9L205.4,70.3L210.2,66.2L212.0,64.4M153.9,64.4L153.9,66.2L155.7,68.5L158.0,69.7L160.4,68.5L162.8,65.6L163.0,64.4M132.5,40.7L135.5,38.3L139.1,36.0L143.8,35.4L152.7,34.8L156.8,32.4L159.2,30.0L162.8,25.9L167.5,24.1L172.3,24.1L175.8,22.3L181.7,20.8L188.8,20.0L191.2,19.4L192.4,17.0L197.1,15.8L203.1,14.6L206.6,12.3L207.8,9.9L210.2,6.3L211.4,5.1L213.7,5.7L215.5,4.0L213.7,2.2L210.2,1.6L207.2,2.8L206.0,4.5M142.0,29.4L147.4,29.2L152.1,29.2L158.6,28.8L159.8,29.4M212.0,64.4L216.1,60.8L222.0,56.1L228.0,51.4L232.7,45.4L235.7,39.5L238.6,36.0L242.8,32.4L245.7,28.3L249.3,24.7L252.8,22.3L256.4,20.5M152.7,62.0L154.5,59.7L158.6,59.1L162.8,60.3L164.0,62.6L163.4,64.4M0.4,126.0L5.1,124.3L8.7,120.1L12.3,116.5L15.8,115.6L20.0,116.0L22.9,116.5L23.5,114.8L24.1,116.5L27.7,118.3L28.8,120.7L27.1,123.7L24.1,126.6L22.3,128.4M63.2,121.3L65.0,120.7L68.5,118.9M128.4,101.7L124.8,104.7L123.7,108.3L124.8,111.8L124.3,115.4L120.1,117.1L116.5,120.1L111.8,123.1L107.1,126.0L102.3,127.8L101.1,128.4M22.3,128.4L20.5,129.6L18.2,131.4L16.4,133.7L18.2,135.5L22.9,135.5L21.7,137.9L18.2,139.7L14.6,140.8L14.0,143.2L17.0,143.2L21.7,141.4L25.9,139.1L30.0,135.5L34.8,133.1L40.7,131.4L45.4,130.2L50.2,129.6L54.9,129.3L59.7,130.8L62.0,132.5L66.8,132.5L70.9,132.5L69.1,134.3L68.0,137.9L66.2,142.0L68.5,143.8L71.5,144.4L66.8,144.4L64.4,146.2L63.2,148.5L60.8,150.9M0.4,156.8L4.0,156.3L8.7,155.1L12.3,155.7L15.8,158.0L19.4,160.4L24.1,159.8L28.8,160.4L33.6,160.4L32.4,162.8L31.2,166.3L27.7,166.9L24.1,166.9L19.4,167.5L15.8,168.7L12.3,169.9L9.9,172.3L7.5,174.6L5.1,175.8L1.6,177.0L0.4,177.6M154.5,192.4L159.2,187.7L162.8,185.3L167.5,184.7L171.1,185.1L175.8,184.1L181.7,183.2L187.7,182.7L192.4,182.3L194.8,182.9L196.5,184.7L199.5,184.1L203.1,182.9L204.8,180.5L205.4,178.2L206.6,175.8L210.2,172.3L212.5,168.7L214.0,165.4L213.7,162.8L216.1,160.4L220.8,159.2L222.0,160.4L218.5,162.2L217.3,164.0L218.5,167.5L223.2,166.3L229.1,164.0L233.9,162.8L237.4,159.2L242.2,155.7L245.7,152.1L249.3,148.5L252.8,142.6L254.0,137.9L255.2,132.0L256.4,128.4M281.3,128.4L281.9,133.1L280.1,137.9L276.5,141.4L274.2,146.2L271.8,148.5L268.3,150.3L267.7,153.3L268.8,159.2L268.3,164.0L265.9,168.7L263.5,173.4L261.7,177.0L264.7,180.5L265.3,182.3L262.3,184.1L260.0,186.5L257.6,188.8L256.4,190.0M78.6,212.5L81.0,210.4L85.7,209.8L89.1,210.8L88.1,213.1L83.4,214.3L79.6,214.0ZM5.1,295.5L2.8,292.0L0.4,295.5M117.1,278.3L123.7,274.2L124.3,275.4L118.3,279.5ZM97.8,305.0L100.0,299.7L103.5,296.7L105.9,295.5L106.5,297.3L102.3,301.4L99.4,305.6ZM46.6,328.1L50.2,326.6L54.9,324.9L55.5,326.3L51.4,327.7L47.8,328.9ZM1.4,199.1L3.8,200.6L5.8,206.0L8.2,211.9L10.7,216.8L11.7,221.7L15.1,223.6L18.0,225.6L18.5,227.5L22.0,229.5L23.9,231.5L24.4,233.4L22.9,234.4L19.0,232.9L16.1,232.4L13.1,231.5L10.2,230.0L6.3,229.5L3.3,230.0L1.4,230.5M1.4,236.4L4.3,234.9L8.2,233.4L14.1,233.4L20.0,236.4L23.9,240.3L24.9,244.4M15.1,232.4L20.0,233.4L23.9,235.4L22.9,236.4L18.0,234.9ZM16.1,234.4L21.0,236.4L23.9,240.3L24.4,243.2L22.0,245.2L17.1,246.2L12.2,248.1L9.2,250.1L5.3,251.1L1.4,252.5M1.4,252.5L6.3,250.6L8.2,252.0L9.2,254.0L12.2,252.5L16.1,251.1L20.0,252.5L22.9,255.0L25.9,256.0L27.9,254.5L29.8,255.0L25.9,256.5L23.9,257.9M2.4,238.3L4.3,236.9L6.3,239.3L5.8,242.7L3.3,243.2ZM64.3,152.0L69.9,154.1L75.5,154.8L81.0,156.2L85.2,157.6L86.6,161.1L85.2,163.8L79.6,166.6L78.2,168.7L81.0,170.8L83.8,173.6L85.2,177.7L83.8,181.9L82.4,186.1L81.0,190.2L79.6,194.4L80.3,198.6L86.6,196.5L92.1,194.4L97.7,192.3L103.2,191.6L108.8,190.9L114.3,190.2L118.5,187.5L120.6,180.5L121.3,175.0L119.9,168.0L117.1,161.1L113.0,154.1L108.8,147.2L104.6,141.6L99.1,137.5L94.9,136.1L95.6,131.9L99.1,127.7L106.0,125.0L113.0,122.2L117.1,119.4M23.9,257.2L22.0,263.1L19.0,269.0L20.0,274.9L15.1,278.8L12.2,283.7L8.2,287.7L3.3,291.6L0.4,296.5M1.9,318.1L9.5,315.5L18.3,315.5L24.7,319.3L24.7,325.7L23.4,330.7L19.6,338.3L17.1,345.9L13.3,353.5L10.7,358.6L8.2,356.0L5.7,348.4L3.1,340.8L0.6,330.7ZM139.7,204.7L141.8,206.0L144.6,207.9L147.2,209.2L148.5,211.2L147.8,213.1L149.7,214.5L151.7,216.5L152.9,218.4L151.7,221.0L150.4,223.6L146.7,227.0L146.0,232.1L145.4,236.0L142.2,237.9L139.7,236.6L137.1,241.7L135.8,239.2L136.7,234.7L134.6,236.6L135.2,239.2L130.1,239.2L130.7,233.4L129.5,229.0L132.7,225.1L134.6,221.9L135.2,219.4L132.7,216.8L130.1,218.7L132.0,221.3L129.5,221.9L128.2,220.0L125.6,221.3L124.4,217.5L123.1,214.9L125.6,213.0L128.2,211.1L130.7,209.8L133.3,207.9L135.8,205.4L139.7,204.7ZM155.0,211.9L158.9,209.9L162.9,206.0L166.8,203.4L168.1,205.4L172.7,202.7L175.9,200.8L180.5,200.1L185.1,200.8L187.0,202.0L187.8,204.1L185.7,207.3L183.8,209.2L180.5,212.5L175.9,209.9L172.1,210.5L168.7,213.8L166.1,218.4L164.8,220.3L160.8,218.4L158.3,214.5L155.0,211.9ZM139.3,202.0L140.6,204.1L144.6,204.1L148.5,204.0L152.4,204.3L156.4,204.3L157.7,202.0L157.9,199.1L159.3,200.1L159.6,202.0L162.9,200.4L169.4,199.1L174.6,197.4L179.8,196.2L185.1,194.9L190.3,194.9L193.9,195.4L196.4,195.8L195.8,199.0L192.6,200.9L193.2,205.4L196.4,209.2L200.9,211.1L204.1,207.9L207.3,202.8L214.3,200.9L215.6,197.7L211.7,194.5L214.9,190.7L216.8,194.5L220.7,196.4L225.1,195.8L232.1,196.4L234.7,192.6L239.2,190.0L239.2,195.8L244.3,192.0L244.9,188.1L250.6,189.4L251.9,184.3L256.4,184.3L253.2,190.7L254.5,192.6L259.6,189.4L260.2,186.2L265.9,182.4L262.8,174.7L265.3,167.1L268.5,158.2L267.2,151.8L274.2,149.2L275.5,141.6L281.2,133.9L280.0,126.9L275.5,121.2L273.0,114.8L273.6,109.1L270.4,111.6L266.6,112.9L264.7,116.7L263.4,112.9L259.6,111.6L255.7,118.0L253.8,123.7L255.7,129.5L253.2,133.3L253.2,139.0L249.4,146.0L243.6,153.1L237.2,160.1L232.8,162.6L227.9,164.3L220.8,166.1L217.3,167.0L216.2,163.9L216.7,162.2L220.8,159.8L220.3,158.9L214.9,161.0L212.5,164.5L211.7,169.0L206.6,174.7L203.8,179.2L203.4,182.1L199.0,183.4L195.2,181.1L191.3,182.1L186.2,182.7L181.1,183.7L170.9,184.3L165.8,183.7L161.4,185.6L154.3,191.3L148.0,195.8L140.9,199.0L139.0,202.8L139.0,204.1M232.1,151.8L236.0,148.9L236.6,150.5L234.1,153.7L236.0,155.0L232.8,155.6ZM190.3,196.2L192.0,197.4L190.9,201.3L189.5,200.0ZM280.0,57.1L284.4,61.2L288.9,66.3L293.4,70.2L301.0,74.0L308.7,75.9L313.8,77.2L318.9,75.0L323.3,72.1L320.2,76.5L318.2,78.4L320.8,81.0L323.3,82.3L322.7,84.8L329.1,84.4L325.3,86.5L320.2,89.3L311.2,89.5L302.3,94.4L297.8,99.5L296.6,102.9L292.1,100.1L285.7,97.6L276.8,94.4L271.0,96.3L267.5,97.8L262.8,95.0L258.9,98.9L262.1,100.8L266.6,102.7L269.8,104.6L264.7,105.2L260.8,107.8L256.4,109.4L255.1,107.1L256.6,103.3L253.2,98.9L253.2,95.7L257.7,91.8L261.5,89.5L259.6,85.5L262.8,86.1L267.9,87.0L272.3,86.1L274.2,81.6L276.1,77.2L277.4,71.4L276.8,65.1L276.1,59.3L280.0,57.1ZM324.6,81.6L328.4,77.2L332.3,72.7L335.5,70.8L336.1,72.1L332.9,75.5L329.1,79.1L325.9,81.9ZM339.9,70.8L346.9,67.0L355.9,60.6L363.5,57.4L368.0,57.4L361.0,62.5L352.0,65.7L344.4,70.2ZM376.3,53.6L382.7,50.4L389.7,47.8L388.4,49.7L381.4,52.9Z"/>
<path d="M248.1,100.0L249.3,99.4L249.5,100.5L248.3,100.9ZM232.7,155.1L233.9,151.5L235.7,149.7L236.8,150.9L235.7,153.9ZM67.4,320.4L69.7,320.4L69.1,322.5L67.7,322.2ZM118.6,195.2L120.5,195.8L118.6,200.3L117.3,202.8L116.7,200.3ZM133.3,249.7L135.2,249.4L136.2,251.0L133.9,251.9ZM139.4,244.3L140.9,245.5L140.3,250.0L138.8,249.4ZM169.0,174.7L170.3,175.4L168.4,177.3L167.1,176.0ZM339.9,79.1L343.1,78.4L341.8,80.4ZM246.8,98.9L248.7,100.1L247.4,101.4ZM270.4,60.6L271.7,61.2L270.4,62.5ZM117.3,279.1L120.5,276.8L124.0,274.2L123.1,277.4L119.3,279.6ZM113.3,284.4L115.1,281.9L115.4,283.8L114.2,285.1ZM109.1,288.9L111.0,288.0L110.3,289.5ZM97.6,304.8L98.9,300.4L101.4,297.8L105.9,294.9L105.2,298.5L101.4,301.3L100.1,304.6ZM85.7,301.7L87.4,301.3L86.7,302.5ZM66.6,322.4L68.2,319.9L69.8,321.2L68.2,322.7ZM52.0,326.5L54.2,324.0L55.5,325.5L53.6,327.4ZM47.2,327.8L47.8,326.3L50.4,326.5L49.7,328.3ZM37.6,326.0L38.9,325.5L38.6,326.3ZM109.7,221.3L112.2,219.4L114.8,216.8L116.7,214.9L115.4,218.1L112.9,220.9ZM120.5,213.6L122.2,211.7L122.4,213.0ZM127.8,226.4L129.5,222.6L132.0,222.2L130.7,225.8ZM123.5,233.4L125.0,231.5L125.6,232.8ZM114.2,202.2L116.1,200.9L115.4,202.8ZM118.6,207.3L119.3,206.6L119.9,207.3Z" fill="#000" stroke-width="0.8"/>
<path d="M64.3,152.0L69.9,154.1L75.5,154.8L81.0,156.2L85.2,157.6L86.6,161.1L85.2,163.8L79.6,166.6L78.2,168.7L81.0,170.8L83.8,173.6L85.2,177.7L83.8,181.9L82.4,186.1L81.0,190.2L79.6,194.4L80.3,198.6L86.6,196.5L92.1,194.4L97.7,192.3L103.2,191.6L108.8,190.9L114.3,190.2M23.9,257.2L22.0,263.1L19.0,269.0L20.0,274.9L15.1,278.8L12.2,283.7L8.2,287.7L3.3,291.6L0.4,296.5" stroke-width="2.6" stroke-dasharray="2.5,0.8"/>
<circle cx="54.7" cy="60.6" r="1.7" fill="#000" stroke="none"/>
<circle cx="62.3" cy="86.6" r="1.2" fill="#000" stroke="none"/>
<circle cx="87.5" cy="81.2" r="2.0" fill="#000" stroke="none"/>
<circle cx="113.6" cy="78.0" r="1.9" fill="#000" stroke="none"/>
<circle cx="169.5" cy="175.8" r="1.4" fill="#000" stroke="none"/>
<circle cx="168.9" cy="185.1" r="1.2" fill="#000" stroke="none"/>
<circle cx="260.0" cy="177.9" r="0.8" fill="#000" stroke="none"/>
<circle cx="114.4" cy="283.9" r="0.8" fill="#000" stroke="none"/>
<circle cx="9.7" cy="237.3" r="0.8" fill="#000" stroke="none"/>
<circle cx="4.3" cy="241.3" r="0.8" fill="#000" stroke="none"/>
<circle cx="9.7" cy="237.0" r="0.8" fill="#000" stroke="none"/>
</g>
<rect x="555.5" y="31.5" width="383.0" height="383.0" fill="none" stroke="#000" stroke-width="1.05"/>
<text x="549.8000000000001" y="97.075" font-size="8.5" text-anchor="end" class="c">45°N</text>
<text x="549.8000000000001" y="160.85" font-size="8.5" text-anchor="end" class="c">40°N</text>
<text x="549.8000000000001" y="224.625" font-size="8.5" text-anchor="end" class="c">35°N</text>
<text x="549.8000000000001" y="288.40000000000003" font-size="8.5" text-anchor="end" class="c">30°N</text>
<text x="549.8000000000001" y="352.175" font-size="8.5" text-anchor="end" class="c">25°N</text>
<text x="618.375" y="424.9" font-size="8.5" text-anchor="middle" class="c">125°E</text>
<text x="682.1500000000001" y="424.9" font-size="8.5" text-anchor="middle" class="c">130°E</text>
<text x="745.9250000000001" y="424.9" font-size="8.5" text-anchor="middle" class="c">135°E</text>
<text x="809.7" y="424.9" font-size="8.5" text-anchor="middle" class="c">140°E</text>
<text x="873.475" y="424.9" font-size="8.5" text-anchor="middle" class="c">145°E</text>
<text x="276.5" y="25.5" font-size="12" text-anchor="middle" >IMERG_NRT estimates for 20250903</text>
<text x="746.5" y="25.0" font-size="12" text-anchor="middle" textLength="264" lengthAdjust="spacing">Daily Radar-AMeDAS analysis for 20250903</text>
<text x="561.3" y="406.7" font-size="10" text-anchor="start" >Provided by JWA/JMA</text>
<rect x="810.5" y="271.5" width="105.0" height="104.0" fill="#fff"/>
<clipPath id="scl"><rect x="810.5" y="271.5" width="105.0" height="104.0"/></clipPath>
<path d="M879.6,327.2h3.8M881.5,325.3v3.8M866.6,328.1h3.8M868.5,326.2v3.8M856.9,329.3h3.8M858.8,327.4v3.8M870.3,331.8h3.8M872.2,329.9v3.8M874.5,333.5h3.8M876.4,331.6v3.8M847.2,335.6h3.8M849.1,333.7v3.8M855.6,338.9h3.8M857.5,337.0v3.8M861.5,338.5h3.8M863.4,336.6v3.8M865.3,340.1h3.8M867.2,338.2v3.8M869.5,338.9h3.8M871.4,337.0v3.8M872.0,338.9h3.8M873.9,337.0v3.8M879.6,341.4h3.8M881.5,339.5v3.8M855.6,342.2h3.8M857.5,340.3v3.8M848.9,343.5h3.8M850.8,341.6v3.8M874.5,343.5h3.8M876.4,341.6v3.8M887.6,345.1h3.8M889.5,343.2v3.8M866.6,345.1h3.8M868.5,343.2v3.8M847.7,348.0h3.8M849.6,346.1v3.8M890.5,348.9h3.8M892.4,347.0v3.8M843.9,351.0h3.8M845.8,349.1v3.8M859.0,350.1h3.8M860.9,348.2v3.8M865.3,350.1h3.8M867.2,348.2v3.8M872.0,349.7h3.8M873.9,347.8v3.8M878.3,351.4h3.8M880.2,349.5v3.8M882.9,351.0h3.8M884.8,349.1v3.8M889.7,352.6h3.8M891.6,350.7v3.8M890.9,353.9h3.8M892.8,352.0v3.8M846.8,353.0h3.8M848.7,351.1v3.8M856.9,354.3h3.8M858.8,352.4v3.8M862.4,354.3h3.8M864.3,352.4v3.8M868.7,353.5h3.8M870.6,351.6v3.8M877.5,353.5h3.8M879.4,351.6v3.8M840.9,355.1h3.8M842.8,353.2v3.8M835.5,356.4h3.8M837.4,354.5v3.8M829.6,355.9h3.8M831.5,354.0v3.8M853.5,356.8h3.8M855.4,354.9v3.8M859.0,356.4h3.8M860.9,354.5v3.8M867.0,356.4h3.8M868.9,354.5v3.8M879.6,356.8h3.8M881.5,354.9v3.8M823.7,356.8h3.8M825.6,354.9v3.8M843.9,357.6h3.8M845.8,355.7v3.8M839.7,359.7h3.8M841.6,357.8v3.8M884.6,358.0h3.8M886.5,356.1v3.8M899.3,360.9h3.8M901.2,359.0v3.8M878.3,359.7h3.8M880.2,357.8v3.8M869.5,360.9h3.8M871.4,359.0v3.8M865.3,360.9h3.8M867.2,359.0v3.8M858.2,359.7h3.8M860.1,357.8v3.8M853.5,361.4h3.8M855.4,359.5v3.8M848.9,362.6h3.8M850.8,360.7v3.8M843.0,363.0h3.8M844.9,361.1v3.8M837.6,360.9h3.8M839.5,359.0v3.8M833.0,359.7h3.8M834.9,357.8v3.8M862.4,364.3h3.8M864.3,362.4v3.8M871.6,366.3h3.8M873.5,364.4v3.8M875.0,363.9h3.8M876.9,362.0v3.8M855.6,368.0h3.8M857.5,366.1v3.8M848.9,368.0h3.8M850.8,366.1v3.8M839.7,368.8h3.8M841.6,366.9v3.8M835.5,370.9h3.8M837.4,369.0v3.8M831.7,367.6h3.8M833.6,365.7v3.8M845.6,365.5h3.8M847.5,363.6v3.8M842.2,366.3h3.8M844.1,364.4v3.8M851.4,363.0h3.8M853.3,361.1v3.8M855.6,361.4h3.8M857.5,359.5v3.8M833.4,364.3h3.8M835.3,362.4v3.8M829.6,365.5h3.8M831.5,363.6v3.8M837.6,365.5h3.8M839.5,363.6v3.8M835.5,362.6h3.8M837.4,360.7v3.8M830.9,360.9h3.8M832.8,359.0v3.8M827.5,358.4h3.8M829.4,356.5v3.8M843.0,354.3h3.8M844.9,352.4v3.8M837.6,357.6h3.8M839.5,355.7v3.8M848.9,351.0h3.8M850.8,349.1v3.8M832.5,353.0h3.8M834.4,351.1v3.8M855.2,329.3h3.8M857.1,327.4v3.8M850.6,358.0h3.8M852.5,356.1v3.8M846.4,358.9h3.8M848.3,357.0v3.8M861.1,357.2h3.8M863.0,355.3v3.8M867.4,358.9h3.8M869.3,357.0v3.8M833.8,369.3h3.8M835.7,367.4v3.8M838.0,372.2h3.8M839.9,370.3v3.8M844.3,370.5h3.8M846.2,368.6v3.8M828.8,363.0h3.8M830.7,361.1v3.8M827.1,367.2h3.8M829.0,365.3v3.8M830.4,370.5h3.8M832.3,368.6v3.8M834.6,367.2h3.8M836.5,365.3v3.8M841.4,363.9h3.8M843.3,362.0v3.8M859.0,365.1h3.8M860.9,363.2v3.8M852.7,366.3h3.8M854.6,364.4v3.8M868.2,363.0h3.8M870.1,361.1v3.8M873.7,356.8h3.8M875.6,354.9v3.8M880.8,354.7h3.8M882.7,352.8v3.8M886.3,349.7h3.8M888.2,347.8v3.8M863.2,346.4h3.8M865.1,344.5v3.8M861.1,351.4h3.8M863.0,349.5v3.8M854.8,348.0h3.8M856.7,346.1v3.8M812.9,374.2h3.8M814.8,372.3v3.8M819.2,374.9h3.8M821.1,373.0v3.8M816.8,371.6h3.8M818.7,369.7v3.8M809.1,369.8h3.8M811.0,367.9v3.8M808.9,370.8h3.8M810.8,368.9v3.8M809.2,374.8h3.8M811.1,372.9v3.8M814.7,365.2h3.8M816.6,363.3v3.8M809.8,373.4h3.8M811.7,371.5v3.8M818.7,363.4h3.8M820.6,361.5v3.8M817.6,371.2h3.8M819.5,369.3v3.8M826.5,375.2h3.8M828.4,373.3v3.8M823.8,372.6h3.8M825.7,370.7v3.8M810.1,374.5h3.8M812.0,372.6v3.8M812.6,365.4h3.8M814.5,363.5v3.8M810.6,368.8h3.8M812.5,366.9v3.8M818.9,371.6h3.8M820.8,369.7v3.8M817.0,375.0h3.8M818.9,373.1v3.8M809.1,373.6h3.8M811.0,371.7v3.8M819.8,370.8h3.8M821.7,368.9v3.8M812.7,368.7h3.8M814.6,366.8v3.8M815.2,372.5h3.8M817.1,370.6v3.8M822.3,367.1h3.8M824.2,365.2v3.8M811.6,368.9h3.8M813.5,367.0v3.8M816.6,364.5h3.8M818.5,362.6v3.8M820.9,372.6h3.8M822.8,370.7v3.8M826.6,374.5h3.8M828.5,372.6v3.8M814.5,366.3h3.8M816.4,364.4v3.8M810.2,370.0h3.8M812.1,368.1v3.8M808.9,367.6h3.8M810.8,365.7v3.8M821.6,368.9h3.8M823.5,367.0v3.8M824.1,372.3h3.8M826.0,370.4v3.8M820.1,368.6h3.8M822.0,366.7v3.8M817.7,370.5h3.8M819.6,368.6v3.8M823.3,363.5h3.8M825.2,361.6v3.8M815.6,367.6h3.8M817.5,365.7v3.8M809.1,367.1h3.8M811.0,365.2v3.8M819.1,362.7h3.8M821.0,360.8v3.8M822.9,372.6h3.8M824.8,370.7v3.8M814.0,367.5h3.8M815.9,365.6v3.8M808.7,370.4h3.8M810.6,368.5v3.8M810.4,374.5h3.8M812.3,372.6v3.8M809.1,366.1h3.8M811.0,364.2v3.8M809.9,373.1h3.8M811.8,371.2v3.8M814.1,364.6h3.8M816.0,362.7v3.8M809.3,370.6h3.8M811.2,368.7v3.8M817.1,364.4h3.8M819.0,362.5v3.8M822.9,364.7h3.8M824.8,362.8v3.8M812.1,371.0h3.8M814.0,369.1v3.8M813.5,364.4h3.8M815.4,362.5v3.8M826.1,374.2h3.8M828.0,372.3v3.8M810.5,373.3h3.8M812.4,371.4v3.8M811.4,370.1h3.8M813.3,368.2v3.8M817.9,372.9h3.8M819.8,371.0v3.8M808.6,371.0h3.8M810.5,369.1v3.8M813.7,369.0h3.8M815.6,367.1v3.8M826.0,367.2h3.8M827.9,365.3v3.8M816.4,368.3h3.8M818.3,366.4v3.8M819.7,375.1h3.8M821.6,373.2v3.8M824.7,365.9h3.8M826.6,364.0v3.8M824.1,365.7h3.8M826.0,363.8v3.8M814.1,371.2h3.8M816.0,369.3v3.8M809.6,368.0h3.8M811.5,366.1v3.8M809.1,375.0h3.8M811.0,373.1v3.8M811.0,374.0h3.8M812.9,372.1v3.8M813.1,375.1h3.8M815.0,373.2v3.8M808.6,374.2h3.8M810.5,372.3v3.8M809.5,371.7h3.8M811.4,369.8v3.8M808.8,364.5h3.8M810.7,362.6v3.8M818.4,374.2h3.8M820.3,372.3v3.8M811.7,371.9h3.8M813.6,370.0v3.8M813.6,374.5h3.8M815.5,372.6v3.8M823.5,362.7h3.8M825.4,360.8v3.8M815.4,370.1h3.8M817.3,368.2v3.8M809.4,374.7h3.8M811.3,372.8v3.8M813.2,372.9h3.8M815.1,371.0v3.8M823.1,374.1h3.8M825.0,372.2v3.8M808.7,363.4h3.8M810.6,361.5v3.8M816.7,374.2h3.8M818.6,372.3v3.8M817.0,375.3h3.8M818.9,373.4v3.8M816.7,362.9h3.8M818.6,361.0v3.8M823.9,367.1h3.8M825.8,365.2v3.8M811.8,371.6h3.8M813.7,369.7v3.8M810.4,366.0h3.8M812.3,364.1v3.8M816.7,365.9h3.8M818.6,364.0v3.8M813.0,373.4h3.8M814.9,371.5v3.8M822.7,362.8h3.8M824.6,360.9v3.8M823.6,365.5h3.8M825.5,363.6v3.8M822.8,366.5h3.8M824.7,364.6v3.8M811.3,369.6h3.8M813.2,367.7v3.8M813.4,375.3h3.8M815.3,373.4v3.8M808.8,372.7h3.8M810.7,370.8v3.8M811.8,367.2h3.8M813.7,365.3v3.8M826.0,370.6h3.8M827.9,368.7v3.8M825.6,362.8h3.8M827.5,360.9v3.8M826.0,371.7h3.8M827.9,369.8v3.8M811.2,373.3h3.8M813.1,371.4v3.8M810.8,373.6h3.8M812.7,371.7v3.8M818.6,364.1h3.8M820.5,362.2v3.8M823.3,370.2h3.8M825.2,368.3v3.8M819.2,365.6h3.8M821.1,363.7v3.8M809.3,367.7h3.8M811.2,365.8v3.8M824.9,365.9h3.8M826.8,364.0v3.8M821.3,370.2h3.8M823.2,368.3v3.8M810.6,365.8h3.8M812.5,363.9v3.8M813.0,365.6h3.8M814.9,363.7v3.8M826.4,371.3h3.8M828.3,369.4v3.8M814.2,363.4h3.8M816.1,361.5v3.8M820.8,374.0h3.8M822.7,372.1v3.8M809.9,374.2h3.8M811.8,372.3v3.8M824.8,365.5h3.8M826.7,363.6v3.8M810.1,365.2h3.8M812.0,363.3v3.8M826.6,367.7h3.8M828.5,365.8v3.8M813.3,369.2h3.8M815.2,367.3v3.8M809.9,375.4h3.8M811.8,373.5v3.8M826.4,367.8h3.8M828.3,365.9v3.8M816.6,363.6h3.8M818.5,361.7v3.8M814.8,364.6h3.8M816.7,362.7v3.8M823.0,373.5h3.8M824.9,371.6v3.8M811.7,372.5h3.8M813.6,370.6v3.8M811.5,368.7h3.8M813.4,366.8v3.8M811.8,371.0h3.8M813.7,369.1v3.8M809.9,364.0h3.8M811.8,362.1v3.8M813.4,370.4h3.8M815.3,368.5v3.8M817.8,364.1h3.8M819.7,362.2v3.8M814.6,363.9h3.8M816.5,362.0v3.8M816.1,369.5h3.8M818.0,367.6v3.8M816.6,375.4h3.8M818.5,373.5v3.8M815.0,373.8h3.8M816.9,371.9v3.8M808.6,365.6h3.8M810.5,363.7v3.8M810.5,370.2h3.8M812.4,368.3v3.8M820.8,369.1h3.8M822.7,367.2v3.8M812.9,369.6h3.8M814.8,367.7v3.8M817.2,365.9h3.8M819.1,364.0v3.8M809.6,369.1h3.8M811.5,367.2v3.8M811.6,372.7h3.8M813.5,370.8v3.8M821.8,369.8h3.8M823.7,367.9v3.8M817.3,366.2h3.8M819.2,364.3v3.8M825.0,370.6h3.8M826.9,368.7v3.8M818.4,369.8h3.8M820.3,367.9v3.8M816.3,367.2h3.8M818.2,365.3v3.8M815.2,369.4h3.8M817.1,367.5v3.8M815.7,363.5h3.8M817.6,361.6v3.8M820.2,364.5h3.8M822.1,362.6v3.8M825.7,372.9h3.8M827.6,371.0v3.8M817.3,363.5h3.8M819.2,361.6v3.8M823.3,374.3h3.8M825.2,372.4v3.8M809.8,370.7h3.8M811.7,368.8v3.8M809.2,373.2h3.8M811.1,371.3v3.8M809.2,367.5h3.8M811.1,365.6v3.8M822.1,364.2h3.8M824.0,362.3v3.8M810.2,366.9h3.8M812.1,365.0v3.8M819.4,374.3h3.8M821.3,372.4v3.8M824.3,363.1h3.8M826.2,361.2v3.8M811.2,363.3h3.8M813.1,361.4v3.8M814.2,370.1h3.8M816.1,368.2v3.8M826.8,365.2h3.8M828.7,363.3v3.8M810.3,370.8h3.8M812.2,368.9v3.8M816.4,372.0h3.8M818.3,370.1v3.8M810.8,372.2h3.8M812.7,370.3v3.8M820.7,375.4h3.8M822.6,373.5v3.8M817.2,370.7h3.8M819.1,368.8v3.8M808.7,372.1h3.8M810.6,370.2v3.8M818.6,369.7h3.8M820.5,367.8v3.8M809.1,362.8h3.8M811.0,360.9v3.8M822.2,363.0h3.8M824.1,361.1v3.8M809.6,372.9h3.8M811.5,371.0v3.8M808.9,365.9h3.8M810.8,364.0v3.8M812.0,374.4h3.8M813.9,372.5v3.8M814.6,364.0h3.8M816.5,362.1v3.8M822.9,373.0h3.8M824.8,371.1v3.8M810.2,363.8h3.8M812.1,361.9v3.8M817.5,367.1h3.8M819.4,365.2v3.8M809.4,375.1h3.8M811.3,373.2v3.8M820.0,370.9h3.8M821.9,369.0v3.8M809.2,363.6h3.8M811.1,361.7v3.8M818.8,365.6h3.8M820.7,363.7v3.8M809.3,364.8h3.8M811.2,362.9v3.8M809.1,364.7h3.8M811.0,362.8v3.8M815.2,372.0h3.8M817.1,370.1v3.8M817.2,363.7h3.8M819.1,361.8v3.8M811.9,374.4h3.8M813.8,372.5v3.8M816.6,373.2h3.8M818.5,371.3v3.8M809.6,374.1h3.8M811.5,372.2v3.8M809.0,373.6h3.8M810.9,371.7v3.8M812.7,372.4h3.8M814.6,370.5v3.8M821.5,372.6h3.8M823.4,370.7v3.8M816.1,373.9h3.8M818.0,372.0v3.8M813.3,375.4h3.8M815.2,373.5v3.8M811.7,375.4h3.8M813.6,373.5v3.8M820.9,369.2h3.8M822.8,367.3v3.8M810.7,370.2h3.8M812.6,368.3v3.8M825.5,374.6h3.8M827.4,372.7v3.8M822.9,370.8h3.8M824.8,368.9v3.8M816.0,365.1h3.8M817.9,363.2v3.8M814.1,369.8h3.8M816.0,367.9v3.8M820.0,362.9h3.8M821.9,361.0v3.8M813.2,365.2h3.8M815.1,363.3v3.8M820.4,368.0h3.8M822.3,366.1v3.8M814.3,371.9h3.8M816.2,370.0v3.8M809.0,374.4h3.8M810.9,372.5v3.8M809.2,366.5h3.8M811.1,364.6v3.8M811.7,374.0h3.8M813.6,372.1v3.8M809.3,365.0h3.8M811.2,363.1v3.8M824.0,367.5h3.8M825.9,365.6v3.8M812.2,373.1h3.8M814.1,371.2v3.8M812.3,370.4h3.8M814.2,368.5v3.8M810.3,370.6h3.8M812.2,368.7v3.8M811.9,363.2h3.8M813.8,361.3v3.8M826.4,369.2h3.8M828.3,367.3v3.8M811.6,363.1h3.8M813.5,361.2v3.8M812.6,371.8h3.8M814.5,369.9v3.8M808.6,371.4h3.8M810.5,369.5v3.8M815.6,369.8h3.8M817.5,367.9v3.8M810.9,369.8h3.8M812.8,367.9v3.8M808.6,372.9h3.8M810.5,371.0v3.8M809.4,371.2h3.8M811.3,369.3v3.8M808.9,375.4h3.8M810.8,373.5v3.8M812.5,373.3h3.8M814.4,371.4v3.8M817.8,369.5h3.8M819.7,367.6v3.8M821.3,367.7h3.8M823.2,365.8v3.8M820.6,364.5h3.8M822.5,362.6v3.8M814.0,372.1h3.8M815.9,370.2v3.8M826.7,374.2h3.8M828.6,372.3v3.8M820.7,367.9h3.8M822.6,366.0v3.8M808.9,365.1h3.8M810.8,363.2v3.8M824.5,368.1h3.8M826.4,366.2v3.8M821.0,365.5h3.8M822.9,363.6v3.8M810.0,369.6h3.8M811.9,367.7v3.8M816.2,365.1h3.8M818.1,363.2v3.8M822.5,365.2h3.8M824.4,363.3v3.8M817.8,364.2h3.8M819.7,362.3v3.8M819.9,367.2h3.8M821.8,365.3v3.8M811.3,375.3h3.8M813.2,373.4v3.8M809.9,371.7h3.8M811.8,369.8v3.8M809.6,365.1h3.8M811.5,363.2v3.8M817.3,368.1h3.8M819.2,366.2v3.8M818.7,367.4h3.8M820.6,365.5v3.8M815.9,375.5h3.8M817.8,373.6v3.8M822.4,366.4h3.8M824.3,364.5v3.8M816.2,369.4h3.8M818.1,367.5v3.8M819.4,375.0h3.8M821.3,373.1v3.8M821.0,373.0h3.8M822.9,371.1v3.8M809.2,372.9h3.8M811.1,371.0v3.8M820.9,373.6h3.8M822.8,371.7v3.8M821.1,363.0h3.8M823.0,361.1v3.8M816.0,371.4h3.8M817.9,369.5v3.8M815.7,367.3h3.8M817.6,365.4v3.8M821.7,368.3h3.8M823.6,366.4v3.8M819.0,374.9h3.8M820.9,373.0v3.8M810.1,373.0h3.8M812.0,371.1v3.8M821.2,372.4h3.8M823.1,370.5v3.8M817.5,375.4h3.8M819.4,373.5v3.8M809.1,372.8h3.8M811.0,370.9v3.8M819.6,367.2h3.8M821.5,365.3v3.8M819.7,372.6h3.8M821.6,370.7v3.8M816.4,370.4h3.8M818.3,368.5v3.8M815.5,374.5h3.8M817.4,372.6v3.8M824.6,373.6h3.8M826.5,371.7v3.8M826.6,363.6h3.8M828.5,361.7v3.8M808.7,370.4h3.8M810.6,368.5v3.8M822.9,363.1h3.8M824.8,361.2v3.8M815.1,372.8h3.8M817.0,370.9v3.8M811.0,363.4h3.8M812.9,361.5v3.8M811.0,368.8h3.8M812.9,366.9v3.8M810.1,369.6h3.8M812.0,367.7v3.8M826.0,374.4h3.8M827.9,372.5v3.8M822.9,369.8h3.8M824.8,367.9v3.8M824.4,367.0h3.8M826.3,365.1v3.8M811.4,364.2h3.8M813.3,362.3v3.8M815.8,375.3h3.8M817.7,373.4v3.8M808.6,370.0h3.8M810.5,368.1v3.8M815.2,372.4h3.8M817.1,370.5v3.8M810.0,371.9h3.8M811.9,370.0v3.8M812.7,365.0h3.8M814.6,363.1v3.8M808.6,366.4h3.8M810.5,364.5v3.8M823.3,374.5h3.8M825.2,372.6v3.8M825.3,366.9h3.8M827.2,365.0v3.8M824.8,372.6h3.8M826.7,370.7v3.8M813.7,371.3h3.8M815.6,369.4v3.8M827.1,368.7h3.8M829.0,366.8v3.8M813.5,370.8h3.8M815.4,368.9v3.8M812.1,375.2h3.8M814.0,373.3v3.8M809.5,365.1h3.8M811.4,363.2v3.8M812.2,363.6h3.8M814.1,361.7v3.8M811.6,372.9h3.8M813.5,371.0v3.8M816.3,373.7h3.8M818.2,371.8v3.8M813.7,363.3h3.8M815.6,361.4v3.8M824.3,365.5h3.8M826.2,363.6v3.8M818.8,363.9h3.8M820.7,362.0v3.8M825.7,369.2h3.8M827.6,367.3v3.8M820.6,375.2h3.8M822.5,373.3v3.8M820.9,370.5h3.8M822.8,368.6v3.8M821.4,367.9h3.8M823.3,366.0v3.8M812.2,375.2h3.8M814.1,373.3v3.8M825.3,374.4h3.8M827.2,372.5v3.8M815.6,371.9h3.8M817.5,370.0v3.8M812.4,366.5h3.8M814.3,364.6v3.8M826.5,372.9h3.8M828.4,371.0v3.8M819.3,372.4h3.8M821.2,370.5v3.8M817.2,371.3h3.8M819.1,369.4v3.8M810.4,374.1h3.8M812.3,372.2v3.8M811.0,364.0h3.8M812.9,362.1v3.8M816.0,373.4h3.8M817.9,371.5v3.8M824.9,362.7h3.8M826.8,360.8v3.8M815.1,374.3h3.8M817.0,372.4v3.8M810.8,374.8h3.8M812.7,372.9v3.8M813.2,374.8h3.8M815.1,372.9v3.8M811.5,373.0h3.8M813.4,371.1v3.8M817.5,364.3h3.8M819.4,362.4v3.8M821.3,371.0h3.8M823.2,369.1v3.8M814.5,369.6h3.8M816.4,367.7v3.8M813.8,372.0h3.8M815.7,370.1v3.8M809.1,372.7h3.8M811.0,370.8v3.8M826.3,374.4h3.8M828.2,372.5v3.8M816.2,368.1h3.8M818.1,366.2v3.8M823.9,373.5h3.8M825.8,371.6v3.8M812.0,373.1h3.8M813.9,371.2v3.8M814.2,370.6h3.8M816.1,368.7v3.8M826.0,364.9h3.8M827.9,363.0v3.8M824.1,375.4h3.8M826.0,373.5v3.8M808.8,367.0h3.8M810.7,365.1v3.8M824.6,370.2h3.8M826.5,368.3v3.8M817.8,375.5h3.8M819.7,373.6v3.8M814.1,363.7h3.8M816.0,361.8v3.8M823.0,364.8h3.8M824.9,362.9v3.8M826.4,373.1h3.8M828.3,371.2v3.8M809.6,374.1h3.8M811.5,372.2v3.8M816.5,367.4h3.8M818.4,365.5v3.8M825.7,366.8h3.8M827.6,364.9v3.8M819.1,366.2h3.8M821.0,364.3v3.8M815.3,369.2h3.8M817.2,367.3v3.8M808.9,365.9h3.8M810.8,364.0v3.8M811.4,363.8h3.8M813.3,361.9v3.8M819.1,372.4h3.8M821.0,370.5v3.8M809.9,373.0h3.8M811.8,371.1v3.8M818.9,367.1h3.8M820.8,365.2v3.8M809.7,375.0h3.8M811.6,373.1v3.8M816.6,368.8h3.8M818.5,366.9v3.8M814.0,373.4h3.8M815.9,371.5v3.8M818.1,375.4h3.8M820.0,373.5v3.8M812.5,370.4h3.8M814.4,368.5v3.8M826.1,367.9h3.8M828.0,366.0v3.8M824.3,370.2h3.8M826.2,368.3v3.8M811.4,373.1h3.8M813.3,371.2v3.8M826.1,367.0h3.8M828.0,365.1v3.8M812.6,375.4h3.8M814.5,373.5v3.8M816.1,367.5h3.8M818.0,365.6v3.8M814.6,373.0h3.8M816.5,371.1v3.8M819.5,363.8h3.8M821.4,361.9v3.8M811.3,375.3h3.8M813.2,373.4v3.8M813.1,370.9h3.8M815.0,369.0v3.8M819.8,373.7h3.8M821.7,371.8v3.8M822.4,366.5h3.8M824.3,364.6v3.8M816.2,373.6h3.8M818.1,371.7v3.8M826.4,372.3h3.8M828.3,370.4v3.8M822.9,373.3h3.8M824.8,371.4v3.8M811.2,366.2h3.8M813.1,364.3v3.8M812.4,363.3h3.8M814.3,361.4v3.8M816.0,373.8h3.8M817.9,371.9v3.8M811.2,371.0h3.8M813.1,369.1v3.8M819.5,363.4h3.8M821.4,361.5v3.8M810.1,371.3h3.8M812.0,369.4v3.8M811.1,363.0h3.8M813.0,361.1v3.8M810.1,375.1h3.8M812.0,373.2v3.8M809.1,371.3h3.8M811.0,369.4v3.8M824.7,364.4h3.8M826.6,362.5v3.8M820.9,362.6h3.8M822.8,360.7v3.8M825.5,372.1h3.8M827.4,370.2v3.8M810.7,363.6h3.8M812.6,361.7v3.8M821.2,375.3h3.8M823.1,373.4v3.8M819.5,371.5h3.8M821.4,369.6v3.8M813.7,372.1h3.8M815.6,370.2v3.8M810.4,375.5h3.8M812.3,373.6v3.8M812.1,371.8h3.8M814.0,369.9v3.8M826.0,374.4h3.8M827.9,372.5v3.8M826.2,373.5h3.8M828.1,371.6v3.8M813.4,365.3h3.8M815.3,363.4v3.8M822.9,370.8h3.8M824.8,368.9v3.8M809.0,370.2h3.8M810.9,368.3v3.8M813.7,363.8h3.8M815.6,361.9v3.8M810.8,371.7h3.8M812.7,369.8v3.8M824.6,375.3h3.8M826.5,373.4v3.8M814.4,365.5h3.8M816.3,363.6v3.8M821.7,375.2h3.8M823.6,373.3v3.8M808.8,375.0h3.8M810.7,373.1v3.8M825.2,373.0h3.8M827.1,371.1v3.8M821.3,364.2h3.8M823.2,362.3v3.8M813.1,372.8h3.8M815.0,370.9v3.8M826.1,368.3h3.8M828.0,366.4v3.8M811.8,366.9h3.8M813.7,365.0v3.8M812.7,372.8h3.8M814.6,370.9v3.8M808.6,366.3h3.8M810.5,364.4v3.8M825.1,368.0h3.8M827.0,366.1v3.8M825.7,375.4h3.8M827.6,373.5v3.8M811.4,370.2h3.8M813.3,368.3v3.8M826.0,363.3h3.8M827.9,361.4v3.8M814.0,373.0h3.8M815.9,371.1v3.8M814.8,370.0h3.8M816.7,368.1v3.8M825.4,373.8h3.8M827.3,371.9v3.8M822.5,366.5h3.8M824.4,364.6v3.8M822.9,366.0h3.8M824.8,364.1v3.8M818.3,372.1h3.8M820.2,370.2v3.8M812.8,371.7h3.8M814.7,369.8v3.8M822.0,374.9h3.8M823.9,373.0v3.8M810.8,366.3h3.8M812.7,364.4v3.8M811.6,375.0h3.8M813.5,373.1v3.8M808.8,369.2h3.8M810.7,367.3v3.8M812.9,362.9h3.8M814.8,361.0v3.8M824.3,362.8h3.8M826.2,360.9v3.8M811.9,374.8h3.8M813.8,372.9v3.8M809.5,369.9h3.8M811.4,368.0v3.8M820.4,370.6h3.8M822.3,368.7v3.8M811.4,371.0h3.8M813.3,369.1v3.8M818.5,367.5h3.8M820.4,365.6v3.8M821.3,364.9h3.8M823.2,363.0v3.8M819.5,374.5h3.8M821.4,372.6v3.8M823.4,372.5h3.8M825.3,370.6v3.8M817.4,371.6h3.8M819.3,369.7v3.8M821.1,373.6h3.8M823.0,371.7v3.8M811.6,373.1h3.8M813.5,371.2v3.8M810.2,364.4h3.8M812.1,362.5v3.8M817.7,372.1h3.8M819.6,370.2v3.8M814.1,362.7h3.8M816.0,360.8v3.8M816.2,373.3h3.8M818.1,371.4v3.8M822.6,367.8h3.8M824.5,365.9v3.8M826.9,374.7h3.8M828.8,372.8v3.8M815.6,365.4h3.8M817.5,363.5v3.8M823.3,363.9h3.8M825.2,362.0v3.8M808.9,372.5h3.8M810.8,370.6v3.8M809.8,373.7h3.8M811.7,371.8v3.8M826.4,368.7h3.8M828.3,366.8v3.8M825.4,371.6h3.8M827.3,369.7v3.8M823.9,370.6h3.8M825.8,368.7v3.8M811.8,366.0h3.8M813.7,364.1v3.8M825.8,374.6h3.8M827.7,372.7v3.8M818.0,368.2h3.8M819.9,366.3v3.8M811.1,371.6h3.8M813.0,369.7v3.8M810.1,373.6h3.8M812.0,371.7v3.8M811.7,368.5h3.8M813.6,366.6v3.8M819.2,373.6h3.8M821.1,371.7v3.8M808.7,372.1h3.8M810.6,370.2v3.8M819.8,373.8h3.8M821.7,371.9v3.8M812.7,373.6h3.8M814.6,371.7v3.8M822.3,369.2h3.8M824.2,367.3v3.8M809.1,374.7h3.8M811.0,372.8v3.8M814.1,369.2h3.8M816.0,367.3v3.8M818.9,374.8h3.8M820.8,372.9v3.8M810.4,367.2h3.8M812.3,365.3v3.8M814.4,372.7h3.8M816.3,370.8v3.8M812.6,363.3h3.8M814.5,361.4v3.8M812.7,369.0h3.8M814.6,367.1v3.8M813.4,371.0h3.8M815.3,369.1v3.8M823.9,362.7h3.8M825.8,360.8v3.8M813.6,373.7h3.8M815.5,371.8v3.8M820.8,373.6h3.8M822.7,371.7v3.8M808.6,364.1h3.8M810.5,362.2v3.8M814.7,365.3h3.8M816.6,363.4v3.8M814.3,364.4h3.8M816.2,362.5v3.8M815.4,374.0h3.8M817.3,372.1v3.8M808.7,369.2h3.8M810.6,367.3v3.8M819.0,364.0h3.8M820.9,362.1v3.8M809.4,368.2h3.8M811.3,366.3v3.8M813.7,369.8h3.8M815.6,367.9v3.8M810.1,372.7h3.8M812.0,370.8v3.8M816.5,363.7h3.8M818.4,361.8v3.8M809.6,370.0h3.8M811.5,368.1v3.8M822.5,363.1h3.8M824.4,361.2v3.8M810.8,374.4h3.8M812.7,372.5v3.8M825.7,363.0h3.8M827.6,361.1v3.8M815.8,375.1h3.8M817.7,373.2v3.8M825.3,371.4h3.8M827.2,369.5v3.8M824.8,368.2h3.8M826.7,366.3v3.8M823.0,374.1h3.8M824.9,372.2v3.8M822.1,373.4h3.8M824.0,371.5v3.8M814.3,364.9h3.8M816.2,363.0v3.8M823.1,373.8h3.8M825.0,371.9v3.8M811.2,371.2h3.8M813.1,369.3v3.8M816.5,371.4h3.8M818.4,369.5v3.8M809.8,373.1h3.8M811.7,371.2v3.8M820.8,364.2h3.8M822.7,362.3v3.8M808.9,369.0h3.8M810.8,367.1v3.8M821.5,375.2h3.8M823.4,373.3v3.8M823.3,374.5h3.8M825.2,372.6v3.8M818.1,369.2h3.8M820.0,367.3v3.8M818.7,372.4h3.8M820.6,370.5v3.8M814.6,368.8h3.8M816.5,366.9v3.8M814.7,367.7h3.8M816.6,365.8v3.8M815.1,370.7h3.8M817.0,368.8v3.8M808.7,368.2h3.8M810.6,366.3v3.8M815.9,373.2h3.8M817.8,371.3v3.8M821.6,365.9h3.8M823.5,364.0v3.8M815.3,373.9h3.8M817.2,372.0v3.8M815.6,374.6h3.8M817.5,372.7v3.8M809.9,370.8h3.8M811.8,368.9v3.8M809.4,370.7h3.8M811.3,368.8v3.8M816.3,375.2h3.8M818.2,373.3v3.8M818.9,374.9h3.8M820.8,373.0v3.8M821.0,366.0h3.8M822.9,364.1v3.8M816.3,375.1h3.8M818.2,373.2v3.8M816.2,371.5h3.8M818.1,369.6v3.8M825.9,374.3h3.8M827.8,372.4v3.8M823.7,362.7h3.8M825.6,360.8v3.8M820.9,365.4h3.8M822.8,363.5v3.8M810.8,362.9h3.8M812.7,361.0v3.8M815.9,363.3h3.8M817.8,361.4v3.8M825.1,374.0h3.8M827.0,372.1v3.8M822.2,363.7h3.8M824.1,361.8v3.8M809.1,371.8h3.8M811.0,369.9v3.8M821.5,374.1h3.8M823.4,372.2v3.8M824.6,372.8h3.8M826.5,370.9v3.8M822.8,374.2h3.8M824.7,372.3v3.8M816.1,363.8h3.8M818.0,361.9v3.8M811.0,372.9h3.8M812.9,371.0v3.8M816.2,372.2h3.8M818.1,370.3v3.8M808.9,373.8h3.8M810.8,371.9v3.8M810.3,363.6h3.8M812.2,361.7v3.8M819.8,364.2h3.8M821.7,362.3v3.8M810.4,365.9h3.8M812.3,364.0v3.8M809.7,369.5h3.8M811.6,367.6v3.8M818.9,371.7h3.8M820.8,369.8v3.8M824.1,369.1h3.8M826.0,367.2v3.8M817.7,364.4h3.8M819.6,362.5v3.8M809.6,362.7h3.8M811.5,360.8v3.8M818.7,371.3h3.8M820.6,369.4v3.8M822.4,372.9h3.8M824.3,371.0v3.8M826.9,368.8h3.8M828.8,366.9v3.8M813.5,366.2h3.8M815.4,364.3v3.8M815.0,373.9h3.8M816.9,372.0v3.8M821.2,375.2h3.8M823.1,373.3v3.8M822.9,373.0h3.8M824.8,371.1v3.8M818.9,362.9h3.8M820.8,361.0v3.8M817.8,367.6h3.8M819.7,365.7v3.8M812.7,375.5h3.8M814.6,373.6v3.8M808.8,374.2h3.8M810.7,372.3v3.8M818.4,370.8h3.8M820.3,368.9v3.8M816.4,364.2h3.8M818.3,362.3v3.8M809.9,373.3h3.8M811.8,371.4v3.8M819.2,375.4h3.8M821.1,373.5v3.8M808.6,371.8h3.8M810.5,369.9v3.8M809.6,371.8h3.8M811.5,369.9v3.8M811.2,368.7h3.8M813.1,366.8v3.8M817.9,373.6h3.8M819.8,371.7v3.8M818.6,370.2h3.8M820.5,368.3v3.8M810.0,363.6h3.8M811.9,361.7v3.8M811.5,374.2h3.8M813.4,372.3v3.8M809.5,368.0h3.8M811.4,366.1v3.8M824.0,365.9h3.8M825.9,364.0v3.8M814.3,372.9h3.8M816.2,371.0v3.8M808.7,367.9h3.8M810.6,366.0v3.8M817.3,371.8h3.8M819.2,369.9v3.8M819.1,370.6h3.8M821.0,368.7v3.8M825.6,366.6h3.8M827.5,364.7v3.8M811.6,364.1h3.8M813.5,362.2v3.8M808.9,369.5h3.8M810.8,367.6v3.8M814.3,373.2h3.8M816.2,371.3v3.8M809.1,365.9h3.8M811.0,364.0v3.8M808.7,369.2h3.8M810.6,367.3v3.8M825.7,374.3h3.8M827.6,372.4v3.8M810.9,368.4h3.8M812.8,366.5v3.8M816.2,367.9h3.8M818.1,366.0v3.8M822.7,373.9h3.8M824.6,372.0v3.8M812.6,372.5h3.8M814.5,370.6v3.8M809.0,364.3h3.8M810.9,362.4v3.8M822.0,366.9h3.8M823.9,365.0v3.8M808.6,365.0h3.8M810.5,363.1v3.8M821.2,370.4h3.8M823.1,368.5v3.8M821.1,370.5h3.8M823.0,368.6v3.8M811.3,374.6h3.8M813.2,372.7v3.8M811.4,375.2h3.8M813.3,373.3v3.8M813.1,366.4h3.8M815.0,364.5v3.8M820.1,365.0h3.8M822.0,363.1v3.8M820.5,372.9h3.8M822.4,371.0v3.8M817.2,370.7h3.8M819.1,368.8v3.8M822.2,369.6h3.8M824.1,367.7v3.8M811.9,367.9h3.8M813.8,366.0v3.8M826.2,373.4h3.8M828.1,371.5v3.8M824.3,375.4h3.8M826.2,373.5v3.8M811.8,373.2h3.8M813.7,371.3v3.8M821.2,363.5h3.8M823.1,361.6v3.8M821.2,372.1h3.8M823.1,370.2v3.8M824.3,372.1h3.8M826.2,370.2v3.8M811.5,364.0h3.8M813.4,362.1v3.8M818.8,367.2h3.8M820.7,365.3v3.8M819.5,362.9h3.8M821.4,361.0v3.8M815.5,365.0h3.8M817.4,363.1v3.8M820.2,364.8h3.8M822.1,362.9v3.8M814.9,366.7h3.8M816.8,364.8v3.8M817.5,372.4h3.8M819.4,370.5v3.8M811.1,368.2h3.8M813.0,366.3v3.8M809.3,364.0h3.8M811.2,362.1v3.8M810.1,375.3h3.8M812.0,373.4v3.8M809.6,363.7h3.8M811.5,361.8v3.8M813.2,374.3h3.8M815.1,372.4v3.8M808.8,375.2h3.8M810.7,373.3v3.8M820.1,368.0h3.8M822.0,366.1v3.8M820.2,366.6h3.8M822.1,364.7v3.8M809.1,368.6h3.8M811.0,366.7v3.8M813.6,365.4h3.8M815.5,363.5v3.8M822.9,364.3h3.8M824.8,362.4v3.8M809.1,364.6h3.8M811.0,362.7v3.8M825.1,363.5h3.8M827.0,361.6v3.8M809.6,373.6h3.8M811.5,371.7v3.8M809.7,375.3h3.8M811.6,373.4v3.8M823.5,365.5h3.8M825.4,363.6v3.8M818.8,365.3h3.8M820.7,363.4v3.8M818.8,372.6h3.8M820.7,370.7v3.8M809.5,374.7h3.8M811.4,372.8v3.8M821.5,373.6h3.8M823.4,371.7v3.8M812.8,370.9h3.8M814.7,369.0v3.8M808.7,373.0h3.8M810.6,371.1v3.8M812.2,366.9h3.8M814.1,365.0v3.8M813.6,372.2h3.8M815.5,370.3v3.8M826.2,369.8h3.8M828.1,367.9v3.8M823.6,368.3h3.8M825.5,366.4v3.8M808.8,371.0h3.8M810.7,369.1v3.8M814.9,366.0h3.8M816.8,364.1v3.8M813.3,367.0h3.8M815.2,365.1v3.8M816.9,373.4h3.8M818.8,371.5v3.8M823.8,374.8h3.8M825.7,372.9v3.8M822.9,374.0h3.8M824.8,372.1v3.8M808.6,373.6h3.8M810.5,371.7v3.8M821.6,362.9h3.8M823.5,361.0v3.8M808.6,370.0h3.8M810.5,368.1v3.8M815.9,365.7h3.8M817.8,363.8v3.8M810.7,370.0h3.8M812.6,368.1v3.8M813.3,365.2h3.8M815.2,363.3v3.8M811.8,363.5h3.8M813.7,361.6v3.8M812.2,373.5h3.8M814.1,371.6v3.8M820.2,369.9h3.8M822.1,368.0v3.8M809.6,368.0h3.8M811.5,366.1v3.8M809.3,365.8h3.8M811.2,363.9v3.8M820.2,365.8h3.8M822.1,363.9v3.8M818.7,371.8h3.8M820.6,369.9v3.8M814.2,371.3h3.8M816.1,369.4v3.8M824.5,374.8h3.8M826.4,372.9v3.8M824.4,375.3h3.8M826.3,373.4v3.8M811.0,372.9h3.8M812.9,371.0v3.8M824.7,369.9h3.8M826.6,368.0v3.8M813.8,364.4h3.8M815.7,362.5v3.8M811.4,370.4h3.8M813.3,368.5v3.8M816.7,366.3h3.8M818.6,364.4v3.8M821.4,367.9h3.8M823.3,366.0v3.8M813.3,372.1h3.8M815.2,370.2v3.8M810.2,365.0h3.8M812.1,363.1v3.8M819.4,366.5h3.8M821.3,364.6v3.8M810.4,370.7h3.8M812.3,368.8v3.8M821.8,368.8h3.8M823.7,366.9v3.8M809.9,370.4h3.8M811.8,368.5v3.8M824.4,373.2h3.8M826.3,371.3v3.8M810.8,372.4h3.8M812.7,370.5v3.8M820.3,365.0h3.8M822.2,363.1v3.8M810.2,374.1h3.8M812.1,372.2v3.8M811.6,372.1h3.8M813.5,370.2v3.8M816.5,374.1h3.8M818.4,372.2v3.8M812.9,373.8h3.8M814.8,371.9v3.8M826.5,366.7h3.8M828.4,364.8v3.8M809.5,363.2h3.8M811.4,361.3v3.8M809.5,371.4h3.8M811.4,369.5v3.8M826.7,365.7h3.8M828.6,363.8v3.8M820.9,370.8h3.8M822.8,368.9v3.8M810.8,368.0h3.8M812.7,366.1v3.8M809.6,373.6h3.8M811.5,371.7v3.8M814.0,375.3h3.8M815.9,373.4v3.8M814.2,365.8h3.8M816.1,363.9v3.8M820.1,369.9h3.8M822.0,368.0v3.8M818.8,370.4h3.8M820.7,368.5v3.8M810.1,368.5h3.8M812.0,366.6v3.8M814.3,366.5h3.8M816.2,364.6v3.8M824.9,370.8h3.8M826.8,368.9v3.8M817.6,366.4h3.8M819.5,364.5v3.8M814.6,373.3h3.8M816.5,371.4v3.8M820.7,364.4h3.8M822.6,362.5v3.8M821.8,367.1h3.8M823.7,365.2v3.8M823.6,367.4h3.8M825.5,365.5v3.8M819.0,370.5h3.8M820.9,368.6v3.8M812.7,368.1h3.8M814.6,366.2v3.8M809.5,371.0h3.8M811.4,369.1v3.8M822.0,366.9h3.8M823.9,365.0v3.8M818.7,373.1h3.8M820.6,371.2v3.8M814.6,370.5h3.8M816.5,368.6v3.8M818.6,371.1h3.8M820.5,369.2v3.8M819.7,363.7h3.8M821.6,361.8v3.8M810.6,367.7h3.8M812.5,365.8v3.8M821.9,371.4h3.8M823.8,369.5v3.8M815.9,363.0h3.8M817.8,361.1v3.8M808.9,369.3h3.8M810.8,367.4v3.8M810.3,365.9h3.8M812.2,364.0v3.8M825.7,369.6h3.8M827.6,367.7v3.8M809.5,368.9h3.8M811.4,367.0v3.8M816.9,366.8h3.8M818.8,364.9v3.8M816.3,368.0h3.8M818.2,366.1v3.8M823.1,369.6h3.8M825.0,367.7v3.8M814.4,363.4h3.8M816.3,361.5v3.8M811.0,367.3h3.8M812.9,365.4v3.8M814.1,366.2h3.8M816.0,364.3v3.8M809.8,362.8h3.8M811.7,360.9v3.8M813.4,375.1h3.8M815.3,373.2v3.8M812.0,371.2h3.8M813.9,369.3v3.8M808.7,371.0h3.8M810.6,369.1v3.8M814.6,367.1h3.8M816.5,365.2v3.8M815.9,363.0h3.8M817.8,361.1v3.8M813.7,360.1h3.8M815.6,358.2v3.8M826.0,361.4h3.8M827.9,359.5v3.8M813.6,359.7h3.8M815.5,357.8v3.8M816.6,363.4h3.8M818.5,361.5v3.8M812.1,359.8h3.8M814.0,357.9v3.8M823.8,360.7h3.8M825.7,358.8v3.8M817.9,361.2h3.8M819.8,359.3v3.8M813.8,358.7h3.8M815.7,356.8v3.8M815.9,360.7h3.8M817.8,358.8v3.8M824.0,359.6h3.8M825.9,357.7v3.8M817.9,362.8h3.8M819.8,360.9v3.8M819.3,363.9h3.8M821.2,362.0v3.8M824.2,362.5h3.8M826.1,360.6v3.8M824.5,363.0h3.8M826.4,361.1v3.8M816.3,363.1h3.8M818.2,361.2v3.8M817.2,363.5h3.8M819.1,361.6v3.8M809.9,360.2h3.8M811.8,358.3v3.8M814.7,363.2h3.8M816.6,361.3v3.8M815.1,361.7h3.8M817.0,359.8v3.8M817.2,360.7h3.8M819.1,358.8v3.8M821.2,362.4h3.8M823.1,360.5v3.8M825.9,359.4h3.8M827.8,357.5v3.8M810.8,359.5h3.8M812.7,357.6v3.8M825.5,359.8h3.8M827.4,357.9v3.8M812.3,359.5h3.8M814.2,357.6v3.8M820.8,364.6h3.8M822.7,362.7v3.8M810.1,358.7h3.8M812.0,356.8v3.8M821.2,363.1h3.8M823.1,361.2v3.8M811.6,363.8h3.8M813.5,361.9v3.8M813.9,359.8h3.8M815.8,357.9v3.8M815.8,363.7h3.8M817.7,361.8v3.8M825.4,359.7h3.8M827.3,357.8v3.8M812.8,359.1h3.8M814.7,357.2v3.8M820.3,359.8h3.8M822.2,357.9v3.8M821.4,359.1h3.8M823.3,357.2v3.8M823.4,359.4h3.8M825.3,357.5v3.8M813.3,360.4h3.8M815.2,358.5v3.8M819.0,360.1h3.8M820.9,358.2v3.8M817.4,359.2h3.8M819.3,357.3v3.8M819.4,363.0h3.8M821.3,361.1v3.8M813.9,363.8h3.8M815.8,361.9v3.8M818.4,364.3h3.8M820.3,362.4v3.8M817.9,363.8h3.8M819.8,361.9v3.8M818.3,361.6h3.8M820.2,359.7v3.8M819.2,359.3h3.8M821.1,357.4v3.8M810.0,359.4h3.8M811.9,357.5v3.8M817.9,361.2h3.8M819.8,359.3v3.8M821.3,359.4h3.8M823.2,357.5v3.8M816.3,362.1h3.8M818.2,360.2v3.8M826.4,364.2h3.8M828.3,362.3v3.8M820.8,360.7h3.8M822.7,358.8v3.8M810.4,360.9h3.8M812.3,359.0v3.8M821.6,358.9h3.8M823.5,357.0v3.8M815.6,358.6h3.8M817.5,356.7v3.8M818.7,361.7h3.8M820.6,359.8v3.8M825.3,364.5h3.8M827.2,362.6v3.8M822.2,360.8h3.8M824.1,358.9v3.8M815.7,359.3h3.8M817.6,357.4v3.8M816.2,361.7h3.8M818.1,359.8v3.8M841.8,358.5h3.8M843.7,356.6v3.8M833.3,366.8h3.8M835.2,364.9v3.8M839.0,363.0h3.8M840.9,361.1v3.8M850.1,368.3h3.8M852.0,366.4v3.8M850.1,366.0h3.8M852.0,364.1v3.8M841.3,368.7h3.8M843.2,366.8v3.8M841.3,354.4h3.8M843.2,352.5v3.8M845.4,358.1h3.8M847.3,356.2v3.8M836.5,368.1h3.8M838.4,366.2v3.8M835.7,363.2h3.8M837.6,361.3v3.8M844.8,358.3h3.8M846.7,356.4v3.8M828.6,364.4h3.8M830.5,362.5v3.8M851.7,363.1h3.8M853.6,361.2v3.8M828.9,370.1h3.8M830.8,368.2v3.8M827.7,371.8h3.8M829.6,369.9v3.8M852.7,361.8h3.8M854.6,359.9v3.8M845.5,358.2h3.8M847.4,356.3v3.8M852.3,361.8h3.8M854.2,359.9v3.8M844.3,361.5h3.8M846.2,359.6v3.8M846.5,362.1h3.8M848.4,360.2v3.8M846.1,369.9h3.8M848.0,368.0v3.8M845.7,364.9h3.8M847.6,363.0v3.8M848.3,372.2h3.8M850.2,370.3v3.8M832.4,373.6h3.8M834.3,371.7v3.8M848.6,355.6h3.8M850.5,353.7v3.8M845.4,366.7h3.8M847.3,364.8v3.8M850.0,358.2h3.8M851.9,356.3v3.8M842.8,369.0h3.8M844.7,367.1v3.8M835.7,366.3h3.8M837.6,364.4v3.8M836.2,366.0h3.8M838.1,364.1v3.8M845.0,355.2h3.8M846.9,353.3v3.8M829.0,366.4h3.8M830.9,364.5v3.8M828.6,372.6h3.8M830.5,370.7v3.8M849.6,362.5h3.8M851.5,360.6v3.8M852.6,365.2h3.8M854.5,363.3v3.8M827.9,369.2h3.8M829.8,367.3v3.8M843.7,355.1h3.8M845.6,353.2v3.8M854.3,364.6h3.8M856.2,362.7v3.8M838.8,372.2h3.8M840.7,370.3v3.8M845.1,369.9h3.8M847.0,368.0v3.8M831.6,374.0h3.8M833.5,372.1v3.8M827.6,365.4h3.8M829.5,363.5v3.8M830.8,359.5h3.8M832.7,357.6v3.8M829.9,361.6h3.8M831.8,359.7v3.8M831.0,374.0h3.8M832.9,372.1v3.8M847.1,369.3h3.8M849.0,367.4v3.8M847.5,370.4h3.8M849.4,368.5v3.8M828.9,363.6h3.8M830.8,361.7v3.8M847.0,356.8h3.8M848.9,354.9v3.8M847.4,372.5h3.8M849.3,370.6v3.8M844.7,359.8h3.8M846.6,357.9v3.8M840.1,355.2h3.8M842.0,353.3v3.8M834.4,356.9h3.8M836.3,355.0v3.8M847.1,374.0h3.8M849.0,372.1v3.8M827.9,365.7h3.8M829.8,363.8v3.8M849.8,372.6h3.8M851.7,370.7v3.8M836.0,360.3h3.8M837.9,358.4v3.8M832.0,360.3h3.8M833.9,358.4v3.8M840.8,373.0h3.8M842.7,371.1v3.8M837.5,362.6h3.8M839.4,360.7v3.8M839.5,360.5h3.8M841.4,358.6v3.8M831.5,361.7h3.8M833.4,359.8v3.8M837.4,361.3h3.8M839.3,359.4v3.8M844.7,365.7h3.8M846.6,363.8v3.8M838.0,358.2h3.8M839.9,356.3v3.8M853.3,358.3h3.8M855.2,356.4v3.8M843.0,368.3h3.8M844.9,366.4v3.8M829.2,360.6h3.8M831.1,358.7v3.8M846.7,357.4h3.8M848.6,355.5v3.8M836.6,362.4h3.8M838.5,360.5v3.8M832.0,363.7h3.8M833.9,361.8v3.8M829.4,371.1h3.8M831.3,369.2v3.8M828.3,362.9h3.8M830.2,361.0v3.8M827.9,365.8h3.8M829.8,363.9v3.8M829.4,362.8h3.8M831.3,360.9v3.8M830.8,371.5h3.8M832.7,369.6v3.8M825.4,371.8h3.8M827.3,369.9v3.8M828.2,367.2h3.8M830.1,365.3v3.8M830.9,362.9h3.8M832.8,361.0v3.8M825.7,363.7h3.8M827.6,361.8v3.8M830.9,363.2h3.8M832.8,361.3v3.8M829.2,371.6h3.8M831.1,369.7v3.8M831.1,364.1h3.8M833.0,362.2v3.8M830.0,362.6h3.8M831.9,360.7v3.8M827.7,374.3h3.8M829.6,372.4v3.8M829.1,364.2h3.8M831.0,362.3v3.8M826.7,364.9h3.8M828.6,363.0v3.8M831.7,372.2h3.8M833.6,370.3v3.8M829.5,365.9h3.8M831.4,364.0v3.8M828.5,372.6h3.8M830.4,370.7v3.8M827.1,364.9h3.8M829.0,363.0v3.8M830.7,369.0h3.8M832.6,367.1v3.8M826.0,364.1h3.8M827.9,362.2v3.8M830.6,372.2h3.8M832.5,370.3v3.8M829.3,362.8h3.8M831.2,360.9v3.8M831.3,368.1h3.8M833.2,366.2v3.8M828.6,367.2h3.8M830.5,365.3v3.8M826.7,372.8h3.8M828.6,370.9v3.8M826.6,365.6h3.8M828.5,363.7v3.8M827.8,367.5h3.8M829.7,365.6v3.8M828.1,368.2h3.8M830.0,366.3v3.8M826.4,374.9h3.8M828.3,373.0v3.8M832.1,370.2h3.8M834.0,368.3v3.8M826.1,366.6h3.8M828.0,364.7v3.8M830.7,373.3h3.8M832.6,371.4v3.8M829.4,370.6h3.8M831.3,368.7v3.8M828.9,375.2h3.8M830.8,373.3v3.8M825.6,361.5h3.8M827.5,359.6v3.8M831.2,368.6h3.8M833.1,366.7v3.8M829.2,371.8h3.8M831.1,369.9v3.8M830.6,369.5h3.8M832.5,367.6v3.8M831.8,364.6h3.8M833.7,362.7v3.8M830.9,361.9h3.8M832.8,360.0v3.8M827.1,375.0h3.8M829.0,373.1v3.8M826.8,372.9h3.8M828.7,371.0v3.8M826.0,374.8h3.8M827.9,372.9v3.8M829.1,363.2h3.8M831.0,361.3v3.8M828.5,362.1h3.8M830.4,360.2v3.8M831.5,374.6h3.8M833.4,372.7v3.8M829.4,369.9h3.8M831.3,368.0v3.8" stroke="#000" stroke-width="0.85" fill="none" clip-path="url(#scl)"/>
<line x1="810.5" y1="375.5" x2="915.5" y2="271.5" stroke="#000" stroke-width="1"/>
<rect x="810.5" y="271.5" width="105.0" height="104.0" fill="none" stroke="#000" stroke-width="0.9"/>
<line x1="810.5" y1="375.5" x2="810.5" y2="378.5" stroke="#000" stroke-width="0.8"/>
<line x1="810.5" y1="375.5" x2="807.5" y2="375.5" stroke="#000" stroke-width="0.8"/>
<text x="810.5" y="387.5" font-size="9" text-anchor="middle" class="c">0</text>
<text x="806.0" y="378.8" font-size="9" text-anchor="end" class="c">0</text>
<line x1="831.5" y1="375.5" x2="831.5" y2="378.5" stroke="#000" stroke-width="0.8"/>
<line x1="810.5" y1="354.7" x2="807.5" y2="354.7" stroke="#000" stroke-width="0.8"/>
<text x="831.5" y="387.5" font-size="9" text-anchor="middle" class="c">50</text>
<text x="806.0" y="358.0" font-size="9" text-anchor="end" class="c">50</text>
<line x1="852.5" y1="375.5" x2="852.5" y2="378.5" stroke="#000" stroke-width="0.8"/>
<line x1="810.5" y1="333.9" x2="807.5" y2="333.9" stroke="#000" stroke-width="0.8"/>
<text x="852.5" y="387.5" font-size="9" text-anchor="middle" class="c">100</text>
<text x="806.0" y="337.2" font-size="9" text-anchor="end" class="c">100</text>
<line x1="873.5" y1="375.5" x2="873.5" y2="378.5" stroke="#000" stroke-width="0.8"/>
<line x1="810.5" y1="313.1" x2="807.5" y2="313.1" stroke="#000" stroke-width="0.8"/>
<text x="873.5" y="387.5" font-size="9" text-anchor="middle" class="c">150</text>
<text x="806.0" y="316.40000000000003" font-size="9" text-anchor="end" class="c">150</text>
<line x1="894.5" y1="375.5" x2="894.5" y2="378.5" stroke="#000" stroke-width="0.8"/>
<line x1="810.5" y1="292.3" x2="807.5" y2="292.3" stroke="#000" stroke-width="0.8"/>
<text x="894.5" y="387.5" font-size="9" text-anchor="middle" class="c">200</text>
<text x="806.0" y="295.6" font-size="9" text-anchor="end" class="c">200</text>
<line x1="915.5" y1="375.5" x2="915.5" y2="378.5" stroke="#000" stroke-width="0.8"/>
<line x1="810.5" y1="271.5" x2="807.5" y2="271.5" stroke="#000" stroke-width="0.8"/>
<text x="915.5" y="387.5" font-size="9" text-anchor="middle" class="c">250</text>
<text x="806.0" y="274.8" font-size="9" text-anchor="end" class="c">250</text>
<line x1="810.5" y1="371.3" x2="808.7" y2="371.3" stroke="#000" stroke-width="0.6"/>
<line x1="814.7" y1="375.5" x2="814.7" y2="377.3" stroke="#000" stroke-width="0.6"/>
<line x1="810.5" y1="367.2" x2="808.7" y2="367.2" stroke="#000" stroke-width="0.6"/>
<line x1="818.9" y1="375.5" x2="818.9" y2="377.3" stroke="#000" stroke-width="0.6"/>
<line x1="810.5" y1="363.0" x2="808.7" y2="363.0" stroke="#000" stroke-width="0.6"/>
<line x1="823.1" y1="375.5" x2="823.1" y2="377.3" stroke="#000" stroke-width="0.6"/>
<line x1="810.5" y1="358.9" x2="808.7" y2="358.9" stroke="#000" stroke-width="0.6"/>
<line x1="827.3" y1="375.5" x2="827.3" y2="377.3" stroke="#000" stroke-width="0.6"/>
<line x1="810.5" y1="350.5" x2="808.7" y2="350.5" stroke="#000" stroke-width="0.6"/>
<line x1="835.7" y1="375.5" x2="835.7" y2="377.3" stroke="#000" stroke-width="0.6"/>
<line x1="810.5" y1="346.4" x2="808.7" y2="346.4" stroke="#000" stroke-width="0.6"/>
<line x1="839.9" y1="375.5" x2="839.9" y2="377.3" stroke="#000" stroke-width="0.6"/>
<line x1="810.5" y1="342.2" x2="808.7" y2="342.2" stroke="#000" stroke-width="0.6"/>
<line x1="844.1" y1="375.5" x2="844.1" y2="377.3" stroke="#000" stroke-width="0.6"/>
<line x1="810.5" y1="338.1" x2="808.7" y2="338.1" stroke="#000" stroke-width="0.6"/>
<line x1="848.3" y1="375.5" x2="848.3" y2="377.3" stroke="#000" stroke-width="0.6"/>
<line x1="810.5" y1="329.7" x2="808.7" y2="329.7" stroke="#000" stroke-width="0.6"/>
<line x1="856.7" y1="375.5" x2="856.7" y2="377.3" stroke="#000" stroke-width="0.6"/>
<line x1="810.5" y1="325.6" x2="808.7" y2="325.6" stroke="#000" stroke-width="0.6"/>
<line x1="860.9" y1="375.5" x2="860.9" y2="377.3" stroke="#000" stroke-width="0.6"/>
<line x1="810.5" y1="321.4" x2="808.7" y2="321.4" stroke="#000" stroke-width="0.6"/>
<line x1="865.1" y1="375.5" x2="865.1" y2="377.3" stroke="#000" stroke-width="0.6"/>
<line x1="810.5" y1="317.3" x2="808.7" y2="317.3" stroke="#000" stroke-width="0.6"/>
<line x1="869.3" y1="375.5" x2="869.3" y2="377.3" stroke="#000" stroke-width="0.6"/>
<line x1="810.5" y1="308.9" x2="808.7" y2="308.9" stroke="#000" stroke-width="0.6"/>
<line x1="877.7" y1="375.5" x2="877.7" y2="377.3" stroke="#000" stroke-width="0.6"/>
<line x1="810.5" y1="304.8" x2="808.7" y2="304.8" stroke="#000" stroke-width="0.6"/>
<line x1="881.9" y1="375.5" x2="881.9" y2="377.3" stroke="#000" stroke-width="0.6"/>
<line x1="810.5" y1="300.6" x2="808.7" y2="300.6" stroke="#000" stroke-width="0.6"/>
<line x1="886.1" y1="375.5" x2="886.1" y2="377.3" stroke="#000" stroke-width="0.6"/>
<line x1="810.5" y1="296.5" x2="808.7" y2="296.5" stroke="#000" stroke-width="0.6"/>
<line x1="890.3" y1="375.5" x2="890.3" y2="377.3" stroke="#000" stroke-width="0.6"/>
<line x1="810.5" y1="288.1" x2="808.7" y2="288.1" stroke="#000" stroke-width="0.6"/>
<line x1="898.7" y1="375.5" x2="898.7" y2="377.3" stroke="#000" stroke-width="0.6"/>
<line x1="810.5" y1="284.0" x2="808.7" y2="284.0" stroke="#000" stroke-width="0.6"/>
<line x1="902.9" y1="375.5" x2="902.9" y2="377.3" stroke="#000" stroke-width="0.6"/>
<line x1="810.5" y1="279.8" x2="808.7" y2="279.8" stroke="#000" stroke-width="0.6"/>
<line x1="907.1" y1="375.5" x2="907.1" y2="377.3" stroke="#000" stroke-width="0.6"/>
<line x1="810.5" y1="275.7" x2="808.7" y2="275.7" stroke="#000" stroke-width="0.6"/>
<line x1="911.3" y1="375.5" x2="911.3" y2="377.3" stroke="#000" stroke-width="0.6"/>
<text x="861.4" y="398.4" font-size="10" text-anchor="middle" >ANALYSIS</text>
<text x="0" y="0" font-size="10" text-anchor="middle" transform="translate(786.5,325) rotate(-90)">IMERG_NRT</text>
<rect x="972.0" y="377.08" width="21.5" height="36.72" fill="#ffe6be"/>
<rect x="972.0" y="340.66" width="21.5" height="36.72" fill="#e1ffd2"/>
<rect x="972.0" y="304.24" width="21.5" height="36.72" fill="#96fa8c"/>
<rect x="972.0" y="267.82" width="21.5" height="36.72" fill="#5affff"/>
<rect x="972.0" y="231.40" width="21.5" height="36.72" fill="#00c3ff"/>
<rect x="972.0" y="194.98" width="21.5" height="36.72" fill="#0064ff"/>
<rect x="972.0" y="158.56" width="21.5" height="36.72" fill="#9664ff"/>
<rect x="972.0" y="122.14" width="21.5" height="36.72" fill="#dc64ff"/>
<rect x="972.0" y="85.72" width="21.5" height="36.72" fill="#ff00ff"/>
<rect x="972.0" y="49.30" width="21.5" height="36.72" fill="#cd9646"/>
<path d="M972.0,49.3 L982.75,30.7 L993.5,49.3 Z" fill="#000"/>
<path d="M972.0,49.3 L982.75,30.7 L993.5,49.3 L993.5,413.5 L972.0,413.5 Z" fill="none" stroke="#000" stroke-width="1"/>
<line x1="993.5" y1="413.50" x2="997.0" y2="413.50" stroke="#000" stroke-width="0.8"/>
<text x="1001.0" y="417.5" font-size="11" text-anchor="start" >0</text>
<line x1="993.5" y1="377.08" x2="997.0" y2="377.08" stroke="#000" stroke-width="0.8"/>
<text x="1001.0" y="381.08" font-size="11" text-anchor="start" >1</text>
<line x1="993.5" y1="340.66" x2="997.0" y2="340.66" stroke="#000" stroke-width="0.8"/>
<text x="1001.0" y="344.65999999999997" font-size="11" text-anchor="start" >2</text>
<line x1="993.5" y1="304.24" x2="997.0" y2="304.24" stroke="#000" stroke-width="0.8"/>
<text x="1001.0" y="308.24" font-size="11" text-anchor="start" >5</text>
<line x1="993.5" y1="267.82" x2="997.0" y2="267.82" stroke="#000" stroke-width="0.8"/>
<text x="1001.0" y="271.82" font-size="11" text-anchor="start" >10</text>
<line x1="993.5" y1="231.40" x2="997.0" y2="231.40" stroke="#000" stroke-width="0.8"/>
<text x="1001.0" y="235.39999999999998" font-size="11" text-anchor="start" >20</text>
<line x1="993.5" y1="194.98" x2="997.0" y2="194.98" stroke="#000" stroke-width="0.8"/>
<text x="1001.0" y="198.98" font-size="11" text-anchor="start" >50</text>
<line x1="993.5" y1="158.56" x2="997.0" y2="158.56" stroke="#000" stroke-width="0.8"/>
<text x="1001.0" y="162.56" font-size="11" text-anchor="start" >100</text>
<line x1="993.5" y1="122.14" x2="997.0" y2="122.14" stroke="#000" stroke-width="0.8"/>
<text x="1001.0" y="126.13999999999999" font-size="11" text-anchor="start" >150</text>
<line x1="993.5" y1="85.72" x2="997.0" y2="85.72" stroke="#000" stroke-width="0.8"/>
<text x="1001.0" y="89.71999999999997" font-size="11" text-anchor="start" >200</text>
<line x1="993.5" y1="49.30" x2="997.0" y2="49.30" stroke="#000" stroke-width="0.8"/>
<text x="1001.0" y="53.299999999999955" font-size="11" text-anchor="start" >300</text>
<rect x="74.3" y="452.3" width="55.10" height="18.0" fill="#ffe6be" stroke="#000" stroke-width="0.7"/>
<rect x="129.4" y="452.3" width="14.00" height="18.0" fill="#e1ffd2" stroke="#000" stroke-width="0.7"/>
<rect x="143.4" y="452.3" width="26.00" height="18.0" fill="#96fa8c" stroke="#000" stroke-width="0.7"/>
<rect x="169.4" y="452.3" width="16.20" height="18.0" fill="#5affff" stroke="#000" stroke-width="0.7"/>
<rect x="185.6" y="452.3" width="10.80" height="18.0" fill="#00c3ff" stroke="#000" stroke-width="0.7"/>
<rect x="196.4" y="452.3" width="8.40" height="18.0" fill="#0064ff" stroke="#000" stroke-width="0.7"/>
<rect x="204.8" y="452.3" width="1.20" height="18.0" fill="#9664ff" stroke="#000" stroke-width="0.7"/>
<rect x="206.0" y="452.3" width="0.60" height="18.0" fill="#dc64ff" stroke="#000" stroke-width="0.7"/>
<rect x="206.6" y="452.3" width="0.40" height="18.0" fill="#ff00ff" stroke="#000" stroke-width="0.7"/>
<rect x="207.0" y="452.3" width="0.30" height="18.0" fill="#cd9646" stroke="#000" stroke-width="0.7"/>
<rect x="74.3" y="479.3" width="50.00" height="17.899999999999977" fill="#ffe6be" stroke="#000" stroke-width="0.7"/>
<rect x="124.3" y="479.3" width="13.20" height="17.899999999999977" fill="#e1ffd2" stroke="#000" stroke-width="0.7"/>
<rect x="137.5" y="479.3" width="20.70" height="17.899999999999977" fill="#96fa8c" stroke="#000" stroke-width="0.7"/>
<rect x="158.2" y="479.3" width="16.10" height="17.899999999999977" fill="#5affff" stroke="#000" stroke-width="0.7"/>
<rect x="174.3" y="479.3" width="14.90" height="17.899999999999977" fill="#00c3ff" stroke="#000" stroke-width="0.7"/>
<rect x="189.2" y="479.3" width="11.30" height="17.899999999999977" fill="#0064ff" stroke="#000" stroke-width="0.7"/>
<rect x="200.5" y="479.3" width="3.80" height="17.899999999999977" fill="#9664ff" stroke="#000" stroke-width="0.7"/>
<rect x="204.3" y="479.3" width="0.90" height="17.899999999999977" fill="#dc64ff" stroke="#000" stroke-width="0.7"/>
<rect x="205.2" y="479.3" width="1.30" height="17.899999999999977" fill="#ff00ff" stroke="#000" stroke-width="0.7"/>
<rect x="206.5" y="479.3" width="0.80" height="17.899999999999977" fill="#cd9646" stroke="#000" stroke-width="0.7"/>
<line x1="74.3" y1="470.3" x2="74.3" y2="479.3" stroke="#000" stroke-width="0.6"/>
<line x1="129.4" y1="470.3" x2="124.3" y2="479.3" stroke="#000" stroke-width="0.6"/>
<line x1="143.4" y1="470.3" x2="137.5" y2="479.3" stroke="#000" stroke-width="0.6"/>
<line x1="169.4" y1="470.3" x2="158.2" y2="479.3" stroke="#000" stroke-width="0.6"/>
<line x1="185.6" y1="470.3" x2="174.3" y2="479.3" stroke="#000" stroke-width="0.6"/>
<line x1="196.4" y1="470.3" x2="189.2" y2="479.3" stroke="#000" stroke-width="0.6"/>
<line x1="204.8" y1="470.3" x2="200.5" y2="479.3" stroke="#000" stroke-width="0.6"/>
<line x1="206.0" y1="470.3" x2="204.3" y2="479.3" stroke="#000" stroke-width="0.6"/>
<line x1="206.6" y1="470.3" x2="205.2" y2="479.3" stroke="#000" stroke-width="0.6"/>
<line x1="207.0" y1="470.3" x2="206.5" y2="479.3" stroke="#000" stroke-width="0.6"/>
<line x1="207.3" y1="470.3" x2="207.3" y2="479.3" stroke="#000" stroke-width="0.6"/>
<text x="140.8" y="447.0" font-size="10" text-anchor="middle" >Daily fraction by occurence</text>
<text x="46.9" y="465.7" font-size="10" text-anchor="start" >Est</text>
<text x="47.9" y="492.5" font-size="10" text-anchor="start" >Obs</text>
<text x="58.6" y="509.7" font-size="10" text-anchor="start" >0%</text>
<text x="135.5" y="509.7" font-size="10" text-anchor="middle" >Areal fraction</text>
<text x="195.0" y="509.7" font-size="10" text-anchor="start" >100%</text>
<rect x="74.4" y="533.3" width="1.10" height="18.100000000000023" fill="#ffe6be" stroke="#000" stroke-width="0.7"/>
<rect x="75.5" y="533.3" width="1.80" height="18.100000000000023" fill="#e1ffd2" stroke="#000" stroke-width="0.7"/>
<rect x="77.3" y="533.3" width="8.10" height="18.100000000000023" fill="#96fa8c" stroke="#000" stroke-width="0.7"/>
<rect x="85.4" y="533.3" width="10.90" height="18.100000000000023" fill="#5affff" stroke="#000" stroke-width="0.7"/>
<rect x="96.3" y="533.3" width="14.00" height="18.100000000000023" fill="#00c3ff" stroke="#000" stroke-width="0.7"/>
<rect x="110.3" y="533.3" width="24.10" height="18.100000000000023" fill="#0064ff" stroke="#000" stroke-width="0.7"/>
<rect x="134.4" y="533.3" width="12.00" height="18.100000000000023" fill="#9664ff" stroke="#000" stroke-width="0.7"/>
<rect x="146.4" y="533.3" width="2.70" height="18.100000000000023" fill="#dc64ff" stroke="#000" stroke-width="0.7"/>
<rect x="149.1" y="533.3" width="0.20" height="18.100000000000023" fill="#ff00ff" stroke="#000" stroke-width="0.7"/>
<rect x="149.3" y="533.3" width="0.00" height="18.100000000000023" fill="#cd9646" stroke="#000" stroke-width="0.7"/>
<rect x="74.4" y="560.6" width="1.10" height="17.799999999999955" fill="#ffe6be" stroke="#000" stroke-width="0.7"/>
<rect x="75.5" y="560.6" width="2.00" height="17.799999999999955" fill="#e1ffd2" stroke="#000" stroke-width="0.7"/>
<rect x="77.5" y="560.6" width="6.00" height="17.799999999999955" fill="#96fa8c" stroke="#000" stroke-width="0.7"/>
<rect x="83.5" y="560.6" width="10.80" height="17.799999999999955" fill="#5affff" stroke="#000" stroke-width="0.7"/>
<rect x="94.3" y="560.6" width="19.80" height="17.799999999999955" fill="#00c3ff" stroke="#000" stroke-width="0.7"/>
<rect x="114.1" y="560.6" width="30.50" height="17.799999999999955" fill="#0064ff" stroke="#000" stroke-width="0.7"/>
<rect x="144.6" y="560.6" width="23.80" height="17.799999999999955" fill="#9664ff" stroke="#000" stroke-width="0.7"/>
<rect x="168.4" y="560.6" width="22.10" height="17.799999999999955" fill="#dc64ff" stroke="#000" stroke-width="0.7"/>
<rect x="190.5" y="560.6" width="16.10" height="17.799999999999955" fill="#ff00ff" stroke="#000" stroke-width="0.7"/>
<rect x="206.6" y="560.6" width="1.10" height="17.799999999999955" fill="#cd9646" stroke="#000" stroke-width="0.7"/>
<line x1="74.4" y1="551.4" x2="74.4" y2="560.6" stroke="#000" stroke-width="0.6"/>
<line x1="75.5" y1="551.4" x2="75.5" y2="560.6" stroke="#000" stroke-width="0.6"/>
<line x1="77.3" y1="551.4" x2="77.5" y2="560.6" stroke="#000" stroke-width="0.6"/>
<line x1="85.4" y1="551.4" x2="83.5" y2="560.6" stroke="#000" stroke-width="0.6"/>
<line x1="96.3" y1="551.4" x2="94.3" y2="560.6" stroke="#000" stroke-width="0.6"/>
<line x1="110.3" y1="551.4" x2="114.1" y2="560.6" stroke="#000" stroke-width="0.6"/>
<line x1="134.4" y1="551.4" x2="144.6" y2="560.6" stroke="#000" stroke-width="0.6"/>
<line x1="146.4" y1="551.4" x2="168.4" y2="560.6" stroke="#000" stroke-width="0.6"/>
<line x1="149.1" y1="551.4" x2="190.5" y2="560.6" stroke="#000" stroke-width="0.6"/>
<line x1="149.3" y1="551.4" x2="206.6" y2="560.6" stroke="#000" stroke-width="0.6"/>
<line x1="149.3" y1="551.4" x2="207.7" y2="560.6" stroke="#000" stroke-width="0.6"/>
<text x="140.2" y="527.9" font-size="10" text-anchor="middle" >Daily fraction of total rain</text>
<text x="46.9" y="547.5" font-size="10" text-anchor="start" >Est</text>
<text x="47.9" y="574.5" font-size="10" text-anchor="start" >Obs</text>
<text x="140.6" y="589.7" font-size="10" text-anchor="middle" >Rainfall accumulation by amount</text>
<g fill="none" stroke="#000" stroke-width="1">
<rect x="277.6" y="478.4" width="123.9" height="94.7"/>
<line x1="339.3" y1="478.4" x2="339.3" y2="573.1"/>
<line x1="277.6" y1="526.5" x2="401.5" y2="526.5"/>
</g>
<text x="338.6" y="454.9" font-size="10" text-anchor="middle" >IMERG_NRT</text>
<text x="307.8" y="469.7" font-size="10" text-anchor="middle" >&lt;1</text>
<text x="369.5" y="469.7" font-size="10" text-anchor="middle" >≥1</text>
<text x="0" y="0" font-size="10" text-anchor="middle" transform="translate(246.3,520) rotate(-90)">ANALYSIS</text>
<text x="259.7" y="505.8" font-size="10" text-anchor="middle" >&lt;1</text>
<text x="259.7" y="552.9" font-size="10" text-anchor="middle" >≥1</text>
<text x="307.8" y="505.8" font-size="10" text-anchor="middle" >804</text>
<text x="369.5" y="505.8" font-size="10" text-anchor="middle" >347</text>
<text x="307.8" y="552.9" font-size="10" text-anchor="middle" >460</text>
<text x="369.5" y="552.9" font-size="10" text-anchor="middle" >1446</text>
<text x="460.1" y="453.9" font-size="10" text-anchor="start" xml:space="preserve" style="white-space:pre" textLength="385.5" lengthAdjust="spacing">Validation statistics for 20250903  n=3057 Valid. grid=0.25˚ Units=mm/day.</text>
<line x1="457.6" y1="457.5" x2="996.8" y2="457.5" stroke="#000" stroke-width="1" stroke-dasharray="3.2,1.4"/>
<text x="632.5" y="475.3" font-size="10" text-anchor="middle" >ANALYSIS</text>
<text x="713.5" y="475.3" font-size="10" text-anchor="middle" >IMERG_NRT</text>
<line x1="457.6" y1="480.5" x2="758" y2="480.5" stroke="#000" stroke-width="1" stroke-dasharray="3.2,1.4"/>
<text x="460.1" y="499.2" font-size="10" text-anchor="start" >Num of gridpoints raining</text>
<text x="648.6" y="499.2" font-size="10" text-anchor="end" >1906</text>
<text x="729.6" y="499.2" font-size="10" text-anchor="end" >1793</text>
<text x="460.1" y="518.9" font-size="10" text-anchor="start" >Average rain</text>
<text x="648.6" y="518.9" font-size="10" text-anchor="end" >10.8</text>
<text x="729.6" y="518.9" font-size="10" text-anchor="end" >6.1</text>
<text x="460.1" y="538.6" font-size="10" text-anchor="start" >Conditional rain</text>
<text x="648.6" y="538.6" font-size="10" text-anchor="end" >17.3</text>
<text x="729.6" y="538.6" font-size="10" text-anchor="end" >10.4</text>
<text x="461" y="558.3" font-size="10">Rain volume (mm km<tspan font-size="7" dy="-4">2</tspan><tspan dy="4">10</tspan><tspan font-size="7" dy="-4">6</tspan><tspan dy="4">)</tspan></text>
<text x="648.6" y="558.3" font-size="10" text-anchor="end" >20.8</text>
<text x="729.6" y="558.3" font-size="10" text-anchor="end" >11.8</text>
<text x="460.1" y="578.0" font-size="10" text-anchor="start" >Maximum rain</text>
<text x="648.6" y="578.0" font-size="10" text-anchor="end" >216.3</text>
<text x="729.6" y="578.0" font-size="10" text-anchor="end" >117.8</text>
<text x="784.3" y="471.9" font-size="10" text-anchor="start" xml:space="preserve" style="white-space:pre">Mean abs error =    7.3</text>
<text x="784.3" y="488.84999999999997" font-size="10" text-anchor="start" xml:space="preserve" style="white-space:pre">RMS error =   17.1</text>
<text x="784.3" y="505.79999999999995" font-size="10" text-anchor="start" xml:space="preserve" style="white-space:pre">Correlation coeff =  0.805</text>
<text x="784.3" y="522.75" font-size="10" text-anchor="start" xml:space="preserve" style="white-space:pre">Frequency bias =  0.941</text>
<text x="784.3" y="539.6999999999999" font-size="10" text-anchor="start" xml:space="preserve" style="white-space:pre">Probability of detection =  0.759</text>
<text x="784.3" y="556.65" font-size="10" text-anchor="start" xml:space="preserve" style="white-space:pre">False alarm ratio =  0.194</text>
<text x="784.3" y="573.5999999999999" font-size="10" text-anchor="start" xml:space="preserve" style="white-space:pre">Hanssen &amp; Kuipers score =  0.457</text>
<text x="784.3" y="590.55" font-size="10" text-anchor="start" xml:space="preserve" style="white-space:pre">Equitable threat score =  0.289</text>
</svg></body></html>
